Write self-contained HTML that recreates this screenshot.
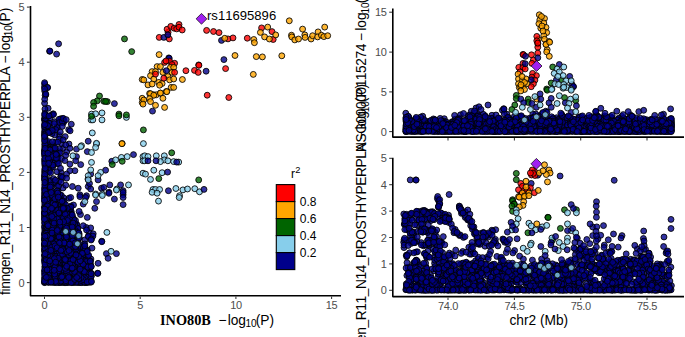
<!DOCTYPE html>
<html><head><meta charset="utf-8"><title>LocusCompare</title>
<style>
html,body{margin:0;padding:0;background:#fff;}
body{width:685px;height:337px;overflow:hidden;font-family:"Liberation Sans",sans-serif;}
svg{display:block;font-family:"Liberation Sans",sans-serif;font-kerning:none;}
.ax{stroke:#000;stroke-width:1.6;fill:none;stroke-linecap:butt;stroke-linejoin:round}
.tc{stroke:#333;stroke-width:1.05;fill:none}
.tk{fill:#4D4D4D;font-size:11px;letter-spacing:-0.35px}
.tt{fill:#000;font-size:13.75px}
.pt{fill-opacity:.8;stroke:#000;stroke-opacity:.85;stroke-width:1}
.bl{fill:#00008B}
</style></head><body>
<svg width="685" height="337" viewBox="0 0 685 337">
<rect width="685" height="337" fill="#fff"/>
<defs><clipPath id="cl"><rect x="0" y="0" width="341" height="337"/></clipPath><clipPath id="cr"><rect x="342" y="0" width="343" height="337"/></clipPath><clipPath id="ct"><rect x="342" y="0" width="343" height="151.2"/></clipPath></defs>
<g clip-path="url(#cl)">
<path class="ax" d="M30.5 6V295.7H342"/>
<path class="tc" d="M26.9 282.6H29.8"/>
<text class="tk" x="24.4" y="286.6" text-anchor="end">0</text>
<path class="tc" d="M26.9 227.5H29.8"/>
<text class="tk" x="24.4" y="231.5" text-anchor="end">1</text>
<path class="tc" d="M26.9 172.4H29.8"/>
<text class="tk" x="24.4" y="176.4" text-anchor="end">2</text>
<path class="tc" d="M26.9 117.3H29.8"/>
<text class="tk" x="24.4" y="121.3" text-anchor="end">3</text>
<path class="tc" d="M26.9 62.2H29.8"/>
<text class="tk" x="24.4" y="66.2" text-anchor="end">4</text>
<path class="tc" d="M26.9 7.1H29.8"/>
<text class="tk" x="24.4" y="11.1" text-anchor="end">5</text>
<path class="tc" d="M44.5 296.5V299"/>
<text class="tk" x="44.5" y="309.4" text-anchor="middle">0</text>
<path class="tc" d="M140.2 296.5V299"/>
<text class="tk" x="140.2" y="309.4" text-anchor="middle">5</text>
<path class="tc" d="M235.9 296.5V299"/>
<text class="tk" x="235.9" y="309.4" text-anchor="middle">10</text>
<path class="tc" d="M331.6 296.5V299"/>
<text class="tk" x="331.6" y="309.4" text-anchor="middle">15</text>
<text class="tt" x="160" y="324.5"><tspan font-family="Liberation Serif" font-weight="bold" font-size="14.3px">INO80B </tspan><tspan dx="4">−</tspan><tspan dx="1.2">log</tspan><tspan font-size="10px" dy="2.4" dx="-0.6">10</tspan><tspan dy="-2.4" dx="-0.9">(P)</tspan></text>
<g class="tt" transform="translate(9.7,66.7) rotate(-90)"><text x="0" y="0" text-anchor="end" letter-spacing="-0.38">finngen_R11_N14_PROSTHYPERPLA</text><text x="3.1" y="0">−</text><text x="13.3" y="0">log</text><text x="30.5" y="2.4" font-size="10px">10</text><text x="40.65" y="0">(P)</text></g>
<g class="pt bl">
<circle cx="45.9" cy="233.1" r="2.95"/>
<circle cx="85.6" cy="256.8" r="2.95"/>
<circle cx="44.8" cy="124.7" r="2.95"/>
<circle cx="78.5" cy="270.0" r="2.95"/>
<circle cx="82.4" cy="273.1" r="2.95"/>
<circle cx="44.7" cy="257.1" r="2.95"/>
<circle cx="82.5" cy="282.3" r="2.95"/>
<circle cx="69.7" cy="274.4" r="2.95"/>
<circle cx="56.6" cy="212.0" r="2.95"/>
<circle cx="62.4" cy="218.1" r="2.95"/>
<circle cx="45.5" cy="127.6" r="2.95"/>
<circle cx="51.7" cy="251.8" r="2.95"/>
<circle cx="47.0" cy="145.0" r="2.95"/>
<circle cx="74.4" cy="222.3" r="2.95"/>
<circle cx="59.6" cy="271.0" r="2.95"/>
<circle cx="79.1" cy="234.9" r="2.95"/>
<circle cx="77.9" cy="282.5" r="2.95"/>
<circle cx="56.9" cy="218.5" r="2.95"/>
<circle cx="83.8" cy="255.9" r="2.95"/>
<circle cx="51.6" cy="243.8" r="2.95"/>
<circle cx="46.4" cy="277.7" r="2.95"/>
<circle cx="51.9" cy="151.6" r="2.95"/>
<circle cx="60.6" cy="122.0" r="2.95"/>
<circle cx="47.0" cy="260.3" r="2.95"/>
<circle cx="53.0" cy="145.7" r="2.95"/>
<circle cx="64.0" cy="266.9" r="2.95"/>
<circle cx="67.7" cy="216.5" r="2.95"/>
<circle cx="68.7" cy="236.6" r="2.95"/>
<circle cx="68.9" cy="198.2" r="2.95"/>
<circle cx="66.4" cy="208.0" r="2.95"/>
<circle cx="75.3" cy="265.3" r="2.95"/>
<circle cx="45.5" cy="211.3" r="2.95"/>
<circle cx="64.5" cy="251.4" r="2.95"/>
<circle cx="67.8" cy="219.9" r="2.95"/>
<circle cx="53.1" cy="209.5" r="2.95"/>
<circle cx="54.2" cy="220.8" r="2.95"/>
<circle cx="54.8" cy="149.3" r="2.95"/>
<circle cx="60.6" cy="245.5" r="2.95"/>
<circle cx="56.5" cy="208.8" r="2.95"/>
<circle cx="78.9" cy="246.3" r="2.95"/>
<circle cx="64.8" cy="225.9" r="2.95"/>
<circle cx="63.0" cy="264.5" r="2.95"/>
<circle cx="82.4" cy="281.8" r="2.95"/>
<circle cx="57.3" cy="216.1" r="2.95"/>
<circle cx="89.0" cy="262.3" r="2.95"/>
<circle cx="50.2" cy="263.5" r="2.95"/>
<circle cx="48.1" cy="237.2" r="2.95"/>
<circle cx="45.7" cy="191.9" r="2.95"/>
<circle cx="74.1" cy="263.5" r="2.95"/>
<circle cx="89.9" cy="281.7" r="2.95"/>
<circle cx="50.6" cy="252.0" r="2.95"/>
<circle cx="65.4" cy="222.4" r="2.95"/>
<circle cx="83.5" cy="253.1" r="2.95"/>
<circle cx="82.9" cy="250.4" r="2.95"/>
<circle cx="44.8" cy="260.3" r="2.95"/>
<circle cx="59.2" cy="135.5" r="2.95"/>
<circle cx="84.4" cy="280.7" r="2.95"/>
<circle cx="58.6" cy="258.8" r="2.95"/>
<circle cx="58.9" cy="203.1" r="2.95"/>
<circle cx="62.6" cy="245.1" r="2.95"/>
<circle cx="54.1" cy="226.1" r="2.95"/>
<circle cx="47.5" cy="241.4" r="2.95"/>
<circle cx="82.3" cy="269.5" r="2.95"/>
<circle cx="64.1" cy="233.9" r="2.95"/>
<circle cx="54.5" cy="219.5" r="2.95"/>
<circle cx="75.5" cy="235.1" r="2.95"/>
<circle cx="60.4" cy="119.6" r="2.95"/>
<circle cx="64.6" cy="234.9" r="2.95"/>
<circle cx="58.2" cy="246.9" r="2.95"/>
<circle cx="44.8" cy="241.0" r="2.95"/>
<circle cx="53.1" cy="212.0" r="2.95"/>
<circle cx="51.7" cy="267.3" r="2.95"/>
<circle cx="48.4" cy="263.7" r="2.95"/>
<circle cx="54.6" cy="232.4" r="2.95"/>
<circle cx="53.8" cy="239.4" r="2.95"/>
<circle cx="75.4" cy="266.7" r="2.95"/>
<circle cx="45.5" cy="229.3" r="2.95"/>
<circle cx="69.4" cy="211.5" r="2.95"/>
<circle cx="77.2" cy="277.8" r="2.95"/>
<circle cx="61.6" cy="256.8" r="2.95"/>
<circle cx="44.7" cy="84.0" r="2.95"/>
<circle cx="64.4" cy="207.4" r="2.95"/>
<circle cx="71.9" cy="282.3" r="2.95"/>
<circle cx="74.1" cy="276.5" r="2.95"/>
<circle cx="66.6" cy="231.7" r="2.95"/>
<circle cx="46.2" cy="222.1" r="2.95"/>
<circle cx="69.9" cy="212.3" r="2.95"/>
<circle cx="55.3" cy="259.2" r="2.95"/>
<circle cx="59.3" cy="180.8" r="2.95"/>
<circle cx="45.6" cy="259.4" r="2.95"/>
<circle cx="48.3" cy="273.1" r="2.95"/>
<circle cx="62.9" cy="244.4" r="2.95"/>
<circle cx="47.3" cy="211.5" r="2.95"/>
<circle cx="72.8" cy="243.4" r="2.95"/>
<circle cx="47.8" cy="242.6" r="2.95"/>
<circle cx="45.5" cy="227.4" r="2.95"/>
<circle cx="44.5" cy="86.9" r="2.95"/>
<circle cx="48.7" cy="172.2" r="2.95"/>
<circle cx="45.0" cy="171.3" r="2.95"/>
<circle cx="63.9" cy="226.7" r="2.95"/>
<circle cx="50.0" cy="231.4" r="2.95"/>
<circle cx="68.5" cy="249.0" r="2.95"/>
<circle cx="84.8" cy="266.6" r="2.95"/>
<circle cx="71.1" cy="215.6" r="2.95"/>
<circle cx="47.3" cy="276.9" r="2.95"/>
<circle cx="63.8" cy="204.9" r="2.95"/>
<circle cx="59.5" cy="207.2" r="2.95"/>
<circle cx="89.1" cy="277.2" r="2.95"/>
<circle cx="72.9" cy="248.7" r="2.95"/>
<circle cx="57.5" cy="220.9" r="2.95"/>
<circle cx="69.7" cy="217.2" r="2.95"/>
<circle cx="49.1" cy="179.6" r="2.95"/>
<circle cx="85.8" cy="260.5" r="2.95"/>
<circle cx="74.1" cy="279.1" r="2.95"/>
<circle cx="68.9" cy="249.9" r="2.95"/>
<circle cx="53.1" cy="184.3" r="2.95"/>
<circle cx="56.0" cy="229.9" r="2.95"/>
<circle cx="51.2" cy="199.6" r="2.95"/>
<circle cx="46.1" cy="183.3" r="2.95"/>
<circle cx="50.5" cy="274.4" r="2.95"/>
<circle cx="67.3" cy="234.2" r="2.95"/>
<circle cx="63.0" cy="118.6" r="2.95"/>
<circle cx="71.0" cy="275.4" r="2.95"/>
<circle cx="64.5" cy="250.4" r="2.95"/>
<circle cx="65.4" cy="262.6" r="2.95"/>
<circle cx="45.5" cy="244.9" r="2.95"/>
<circle cx="68.3" cy="230.7" r="2.95"/>
<circle cx="89.1" cy="274.6" r="2.95"/>
<circle cx="47.8" cy="216.3" r="2.95"/>
<circle cx="69.4" cy="259.5" r="2.95"/>
<circle cx="44.8" cy="153.3" r="2.95"/>
<circle cx="50.4" cy="203.8" r="2.95"/>
<circle cx="86.1" cy="266.6" r="2.95"/>
<circle cx="54.8" cy="182.6" r="2.95"/>
<circle cx="45.9" cy="276.5" r="2.95"/>
<circle cx="58.3" cy="259.8" r="2.95"/>
<circle cx="66.0" cy="218.8" r="2.95"/>
<circle cx="52.5" cy="225.8" r="2.95"/>
<circle cx="62.1" cy="228.9" r="2.95"/>
<circle cx="55.0" cy="262.4" r="2.95"/>
<circle cx="49.9" cy="242.6" r="2.95"/>
<circle cx="67.7" cy="225.1" r="2.95"/>
<circle cx="55.8" cy="198.6" r="2.95"/>
<circle cx="50.0" cy="262.6" r="2.95"/>
<circle cx="68.9" cy="228.3" r="2.95"/>
<circle cx="70.1" cy="220.7" r="2.95"/>
<circle cx="52.9" cy="206.0" r="2.95"/>
<circle cx="71.9" cy="238.5" r="2.95"/>
<circle cx="66.3" cy="220.9" r="2.95"/>
<circle cx="59.3" cy="235.2" r="2.95"/>
<circle cx="55.7" cy="225.6" r="2.95"/>
<circle cx="53.7" cy="208.0" r="2.95"/>
<circle cx="72.3" cy="231.2" r="2.95"/>
<circle cx="79.0" cy="282.4" r="2.95"/>
<circle cx="78.0" cy="251.1" r="2.95"/>
<circle cx="65.0" cy="227.7" r="2.95"/>
<circle cx="48.5" cy="220.6" r="2.95"/>
<circle cx="65.0" cy="210.9" r="2.95"/>
<circle cx="57.3" cy="219.1" r="2.95"/>
<circle cx="45.2" cy="248.3" r="2.95"/>
<circle cx="76.3" cy="239.5" r="2.95"/>
<circle cx="56.2" cy="247.1" r="2.95"/>
<circle cx="64.8" cy="245.7" r="2.95"/>
<circle cx="45.0" cy="252.2" r="2.95"/>
<circle cx="46.5" cy="201.8" r="2.95"/>
<circle cx="47.4" cy="133.0" r="2.95"/>
<circle cx="60.8" cy="118.7" r="2.95"/>
<circle cx="44.7" cy="219.6" r="2.95"/>
<circle cx="60.3" cy="246.5" r="2.95"/>
<circle cx="48.1" cy="215.5" r="2.95"/>
<circle cx="44.6" cy="215.1" r="2.95"/>
<circle cx="66.7" cy="276.1" r="2.95"/>
<circle cx="50.1" cy="161.2" r="2.95"/>
<circle cx="75.3" cy="229.1" r="2.95"/>
<circle cx="44.9" cy="184.3" r="2.95"/>
<circle cx="74.3" cy="282.5" r="2.95"/>
<circle cx="49.8" cy="271.2" r="2.95"/>
<circle cx="65.6" cy="210.0" r="2.95"/>
<circle cx="90.4" cy="279.6" r="2.95"/>
<circle cx="58.3" cy="271.5" r="2.95"/>
<circle cx="69.9" cy="243.7" r="2.95"/>
<circle cx="47.6" cy="116.2" r="2.95"/>
<circle cx="44.8" cy="91.2" r="2.95"/>
<circle cx="44.8" cy="225.9" r="2.95"/>
<circle cx="45.0" cy="141.6" r="2.95"/>
<circle cx="44.6" cy="260.5" r="2.95"/>
<circle cx="54.4" cy="241.3" r="2.95"/>
<circle cx="62.9" cy="220.5" r="2.95"/>
<circle cx="71.2" cy="206.0" r="2.95"/>
<circle cx="61.9" cy="244.9" r="2.95"/>
<circle cx="50.6" cy="149.0" r="2.95"/>
<circle cx="69.1" cy="221.7" r="2.95"/>
<circle cx="50.9" cy="238.9" r="2.95"/>
<circle cx="45.0" cy="177.2" r="2.95"/>
<circle cx="62.9" cy="148.4" r="2.95"/>
<circle cx="88.0" cy="280.8" r="2.95"/>
<circle cx="72.6" cy="233.8" r="2.95"/>
<circle cx="56.6" cy="232.1" r="2.95"/>
<circle cx="54.2" cy="282.5" r="2.95"/>
<circle cx="74.7" cy="247.7" r="2.95"/>
<circle cx="65.3" cy="225.1" r="2.95"/>
<circle cx="45.2" cy="252.2" r="2.95"/>
<circle cx="69.1" cy="239.9" r="2.95"/>
<circle cx="85.4" cy="250.2" r="2.95"/>
<circle cx="46.9" cy="142.3" r="2.95"/>
<circle cx="64.6" cy="268.9" r="2.95"/>
<circle cx="78.0" cy="258.0" r="2.95"/>
<circle cx="80.6" cy="282.3" r="2.95"/>
<circle cx="55.5" cy="216.5" r="2.95"/>
<circle cx="59.8" cy="255.4" r="2.95"/>
<circle cx="64.7" cy="234.0" r="2.95"/>
<circle cx="65.0" cy="240.3" r="2.95"/>
<circle cx="44.6" cy="151.8" r="2.95"/>
<circle cx="49.2" cy="225.8" r="2.95"/>
<circle cx="48.9" cy="237.7" r="2.95"/>
<circle cx="54.4" cy="260.0" r="2.95"/>
<circle cx="51.3" cy="198.1" r="2.95"/>
<circle cx="57.1" cy="186.5" r="2.95"/>
<circle cx="52.4" cy="257.6" r="2.95"/>
<circle cx="80.2" cy="274.6" r="2.95"/>
<circle cx="49.7" cy="235.4" r="2.95"/>
<circle cx="55.1" cy="282.1" r="2.95"/>
<circle cx="59.8" cy="231.1" r="2.95"/>
<circle cx="45.5" cy="208.0" r="2.95"/>
<circle cx="71.3" cy="244.6" r="2.95"/>
<circle cx="52.3" cy="152.9" r="2.95"/>
<circle cx="54.0" cy="209.7" r="2.95"/>
<circle cx="63.0" cy="188.0" r="2.95"/>
<circle cx="45.0" cy="169.2" r="2.95"/>
<circle cx="69.1" cy="211.3" r="2.95"/>
<circle cx="49.2" cy="124.6" r="2.95"/>
<circle cx="70.5" cy="221.6" r="2.95"/>
<circle cx="56.9" cy="230.9" r="2.95"/>
<circle cx="46.7" cy="264.4" r="2.95"/>
<circle cx="55.9" cy="225.8" r="2.95"/>
<circle cx="50.9" cy="242.8" r="2.95"/>
<circle cx="55.6" cy="273.8" r="2.95"/>
<circle cx="71.1" cy="264.5" r="2.95"/>
<circle cx="63.6" cy="252.4" r="2.95"/>
<circle cx="61.4" cy="143.5" r="2.95"/>
<circle cx="45.2" cy="115.7" r="2.95"/>
<circle cx="60.0" cy="250.4" r="2.95"/>
<circle cx="45.0" cy="223.4" r="2.95"/>
<circle cx="46.1" cy="279.9" r="2.95"/>
<circle cx="44.7" cy="120.3" r="2.95"/>
<circle cx="61.1" cy="172.6" r="2.95"/>
<circle cx="76.2" cy="266.4" r="2.95"/>
<circle cx="48.5" cy="220.1" r="2.95"/>
<circle cx="45.0" cy="123.3" r="2.95"/>
<circle cx="48.3" cy="280.7" r="2.95"/>
<circle cx="50.3" cy="236.6" r="2.95"/>
<circle cx="76.8" cy="244.6" r="2.95"/>
<circle cx="54.0" cy="194.3" r="2.95"/>
<circle cx="71.9" cy="224.8" r="2.95"/>
<circle cx="76.5" cy="224.5" r="2.95"/>
<circle cx="51.7" cy="216.6" r="2.95"/>
<circle cx="83.9" cy="273.0" r="2.95"/>
<circle cx="50.3" cy="269.5" r="2.95"/>
<circle cx="54.3" cy="271.3" r="2.95"/>
<circle cx="62.8" cy="233.9" r="2.95"/>
<circle cx="82.5" cy="276.6" r="2.95"/>
<circle cx="72.4" cy="279.2" r="2.95"/>
<circle cx="46.4" cy="246.4" r="2.95"/>
<circle cx="76.6" cy="224.3" r="2.95"/>
<circle cx="44.9" cy="258.7" r="2.95"/>
<circle cx="69.6" cy="276.9" r="2.95"/>
<circle cx="51.5" cy="230.5" r="2.95"/>
<circle cx="87.2" cy="257.6" r="2.95"/>
<circle cx="45.0" cy="221.2" r="2.95"/>
<circle cx="64.1" cy="229.2" r="2.95"/>
<circle cx="60.5" cy="238.1" r="2.95"/>
<circle cx="54.6" cy="121.7" r="2.95"/>
<circle cx="62.4" cy="282.4" r="2.95"/>
<circle cx="75.7" cy="282.2" r="2.95"/>
<circle cx="48.3" cy="252.5" r="2.95"/>
<circle cx="44.9" cy="146.0" r="2.95"/>
<circle cx="46.2" cy="212.5" r="2.95"/>
<circle cx="66.3" cy="210.2" r="2.95"/>
<circle cx="44.5" cy="282.6" r="2.95"/>
<circle cx="72.8" cy="260.6" r="2.95"/>
<circle cx="68.7" cy="129.7" r="2.95"/>
<circle cx="55.5" cy="249.4" r="2.95"/>
<circle cx="54.8" cy="245.0" r="2.95"/>
<circle cx="64.3" cy="203.0" r="2.95"/>
<circle cx="46.3" cy="213.0" r="2.95"/>
<circle cx="90.1" cy="264.3" r="2.95"/>
<circle cx="45.0" cy="259.2" r="2.95"/>
<circle cx="67.6" cy="239.2" r="2.95"/>
<circle cx="50.0" cy="168.4" r="2.95"/>
<circle cx="77.2" cy="266.5" r="2.95"/>
<circle cx="70.1" cy="130.8" r="2.95"/>
<circle cx="53.0" cy="213.9" r="2.95"/>
<circle cx="48.1" cy="253.5" r="2.95"/>
<circle cx="51.2" cy="223.8" r="2.95"/>
<circle cx="47.4" cy="243.4" r="2.95"/>
<circle cx="83.0" cy="246.4" r="2.95"/>
<circle cx="47.5" cy="236.0" r="2.95"/>
<circle cx="61.6" cy="224.8" r="2.95"/>
<circle cx="51.7" cy="279.4" r="2.95"/>
<circle cx="77.2" cy="281.0" r="2.95"/>
<circle cx="63.6" cy="197.8" r="2.95"/>
<circle cx="81.4" cy="270.2" r="2.95"/>
<circle cx="51.6" cy="243.3" r="2.95"/>
<circle cx="76.7" cy="255.2" r="2.95"/>
<circle cx="80.7" cy="257.6" r="2.95"/>
<circle cx="59.6" cy="210.3" r="2.95"/>
<circle cx="54.1" cy="235.1" r="2.95"/>
<circle cx="67.9" cy="240.0" r="2.95"/>
<circle cx="60.7" cy="176.6" r="2.95"/>
<circle cx="74.1" cy="252.7" r="2.95"/>
<circle cx="61.4" cy="282.3" r="2.95"/>
<circle cx="44.8" cy="247.1" r="2.95"/>
<circle cx="44.5" cy="232.9" r="2.95"/>
<circle cx="44.7" cy="196.9" r="2.95"/>
<circle cx="65.7" cy="258.5" r="2.95"/>
<circle cx="79.9" cy="282.1" r="2.95"/>
<circle cx="60.7" cy="234.4" r="2.95"/>
<circle cx="48.7" cy="260.5" r="2.95"/>
<circle cx="52.5" cy="270.7" r="2.95"/>
<circle cx="67.0" cy="227.0" r="2.95"/>
<circle cx="74.9" cy="268.7" r="2.95"/>
<circle cx="44.9" cy="249.1" r="2.95"/>
<circle cx="57.7" cy="216.1" r="2.95"/>
<circle cx="47.0" cy="196.5" r="2.95"/>
<circle cx="45.6" cy="278.6" r="2.95"/>
<circle cx="47.6" cy="281.0" r="2.95"/>
<circle cx="47.3" cy="222.3" r="2.95"/>
<circle cx="62.1" cy="225.9" r="2.95"/>
<circle cx="58.8" cy="152.6" r="2.95"/>
<circle cx="87.6" cy="272.0" r="2.95"/>
<circle cx="54.8" cy="203.1" r="2.95"/>
<circle cx="47.6" cy="207.2" r="2.95"/>
<circle cx="60.1" cy="198.7" r="2.95"/>
<circle cx="70.2" cy="233.8" r="2.95"/>
<circle cx="47.5" cy="238.0" r="2.95"/>
<circle cx="50.6" cy="180.9" r="2.95"/>
<circle cx="53.4" cy="130.8" r="2.95"/>
<circle cx="60.8" cy="220.7" r="2.95"/>
<circle cx="44.7" cy="255.4" r="2.95"/>
<circle cx="45.1" cy="230.9" r="2.95"/>
<circle cx="51.6" cy="246.6" r="2.95"/>
<circle cx="90.9" cy="259.0" r="2.95"/>
<circle cx="84.6" cy="247.2" r="2.95"/>
<circle cx="45.8" cy="277.8" r="2.95"/>
<circle cx="67.3" cy="256.8" r="2.95"/>
<circle cx="48.2" cy="220.8" r="2.95"/>
<circle cx="77.4" cy="261.8" r="2.95"/>
<circle cx="50.8" cy="221.6" r="2.95"/>
<circle cx="45.0" cy="180.8" r="2.95"/>
<circle cx="79.6" cy="244.2" r="2.95"/>
<circle cx="59.9" cy="246.8" r="2.95"/>
<circle cx="63.8" cy="229.8" r="2.95"/>
<circle cx="84.1" cy="275.4" r="2.95"/>
<circle cx="48.3" cy="270.7" r="2.95"/>
<circle cx="56.8" cy="227.3" r="2.95"/>
<circle cx="61.7" cy="216.4" r="2.95"/>
<circle cx="47.3" cy="234.4" r="2.95"/>
<circle cx="61.6" cy="229.9" r="2.95"/>
<circle cx="70.6" cy="261.7" r="2.95"/>
<circle cx="44.6" cy="239.7" r="2.95"/>
<circle cx="44.8" cy="139.4" r="2.95"/>
<circle cx="49.3" cy="171.6" r="2.95"/>
<circle cx="57.0" cy="212.1" r="2.95"/>
<circle cx="63.2" cy="206.6" r="2.95"/>
<circle cx="59.9" cy="282.4" r="2.95"/>
<circle cx="58.1" cy="259.4" r="2.95"/>
<circle cx="49.3" cy="205.2" r="2.95"/>
<circle cx="47.2" cy="164.7" r="2.95"/>
<circle cx="45.0" cy="156.5" r="2.95"/>
<circle cx="45.8" cy="239.3" r="2.95"/>
<circle cx="69.5" cy="249.8" r="2.95"/>
<circle cx="78.7" cy="246.4" r="2.95"/>
<circle cx="72.9" cy="282.4" r="2.95"/>
<circle cx="89.3" cy="282.2" r="2.95"/>
<circle cx="65.3" cy="221.7" r="2.95"/>
<circle cx="54.4" cy="233.9" r="2.95"/>
<circle cx="68.3" cy="266.6" r="2.95"/>
<circle cx="51.2" cy="230.8" r="2.95"/>
<circle cx="62.2" cy="274.2" r="2.95"/>
<circle cx="49.1" cy="153.2" r="2.95"/>
<circle cx="84.3" cy="272.7" r="2.95"/>
<circle cx="70.6" cy="278.9" r="2.95"/>
<circle cx="54.7" cy="247.5" r="2.95"/>
<circle cx="68.2" cy="217.8" r="2.95"/>
<circle cx="44.5" cy="132.2" r="2.95"/>
<circle cx="70.6" cy="265.7" r="2.95"/>
<circle cx="60.3" cy="221.0" r="2.95"/>
<circle cx="71.0" cy="220.1" r="2.95"/>
<circle cx="75.9" cy="228.3" r="2.95"/>
<circle cx="89.0" cy="276.5" r="2.95"/>
<circle cx="69.7" cy="269.3" r="2.95"/>
<circle cx="44.6" cy="249.8" r="2.95"/>
<circle cx="54.3" cy="227.5" r="2.95"/>
<circle cx="62.4" cy="224.0" r="2.95"/>
<circle cx="48.8" cy="229.2" r="2.95"/>
<circle cx="44.6" cy="234.7" r="2.95"/>
<circle cx="44.8" cy="277.6" r="2.95"/>
<circle cx="52.2" cy="232.1" r="2.95"/>
<circle cx="79.6" cy="248.0" r="2.95"/>
<circle cx="59.4" cy="213.6" r="2.95"/>
<circle cx="53.4" cy="247.7" r="2.95"/>
<circle cx="58.6" cy="186.0" r="2.95"/>
<circle cx="57.0" cy="171.7" r="2.95"/>
<circle cx="51.0" cy="200.0" r="2.95"/>
<circle cx="48.8" cy="150.0" r="2.95"/>
<circle cx="91.3" cy="273.3" r="2.95"/>
<circle cx="45.8" cy="94.9" r="2.95"/>
<circle cx="51.2" cy="271.9" r="2.95"/>
<circle cx="83.4" cy="269.8" r="2.95"/>
<circle cx="44.5" cy="282.3" r="2.95"/>
<circle cx="55.8" cy="254.8" r="2.95"/>
<circle cx="54.0" cy="274.9" r="2.95"/>
<circle cx="45.3" cy="281.6" r="2.95"/>
<circle cx="58.9" cy="236.5" r="2.95"/>
<circle cx="64.8" cy="222.7" r="2.95"/>
<circle cx="50.2" cy="279.9" r="2.95"/>
<circle cx="49.4" cy="225.6" r="2.95"/>
<circle cx="62.6" cy="275.1" r="2.95"/>
<circle cx="73.0" cy="273.4" r="2.95"/>
<circle cx="53.1" cy="231.9" r="2.95"/>
<circle cx="51.1" cy="263.4" r="2.95"/>
<circle cx="46.7" cy="143.3" r="2.95"/>
<circle cx="56.9" cy="216.3" r="2.95"/>
<circle cx="61.2" cy="119.2" r="2.95"/>
<circle cx="58.4" cy="239.6" r="2.95"/>
<circle cx="64.1" cy="239.7" r="2.95"/>
<circle cx="53.2" cy="147.2" r="2.95"/>
<circle cx="47.6" cy="218.5" r="2.95"/>
<circle cx="75.8" cy="261.1" r="2.95"/>
<circle cx="64.9" cy="245.0" r="2.95"/>
<circle cx="71.5" cy="228.0" r="2.95"/>
<circle cx="44.9" cy="187.1" r="2.95"/>
<circle cx="47.6" cy="167.0" r="2.95"/>
<circle cx="58.7" cy="234.5" r="2.95"/>
<circle cx="52.7" cy="201.9" r="2.95"/>
<circle cx="79.4" cy="268.2" r="2.95"/>
<circle cx="70.6" cy="210.9" r="2.95"/>
<circle cx="50.7" cy="204.5" r="2.95"/>
<circle cx="57.1" cy="211.3" r="2.95"/>
<circle cx="57.2" cy="228.9" r="2.95"/>
<circle cx="88.9" cy="274.8" r="2.95"/>
<circle cx="63.5" cy="213.6" r="2.95"/>
<circle cx="48.2" cy="166.3" r="2.95"/>
<circle cx="71.3" cy="124.2" r="2.95"/>
<circle cx="66.2" cy="212.6" r="2.95"/>
<circle cx="55.3" cy="274.1" r="2.95"/>
<circle cx="54.7" cy="135.0" r="2.95"/>
<circle cx="49.5" cy="217.4" r="2.95"/>
<circle cx="72.0" cy="216.2" r="2.95"/>
<circle cx="67.7" cy="232.4" r="2.95"/>
<circle cx="65.3" cy="247.0" r="2.95"/>
<circle cx="86.1" cy="250.3" r="2.95"/>
<circle cx="46.0" cy="272.2" r="2.95"/>
<circle cx="69.6" cy="282.2" r="2.95"/>
<circle cx="45.2" cy="209.7" r="2.95"/>
<circle cx="61.9" cy="232.1" r="2.95"/>
<circle cx="58.0" cy="271.3" r="2.95"/>
<circle cx="67.6" cy="282.5" r="2.95"/>
<circle cx="76.9" cy="246.8" r="2.95"/>
<circle cx="57.8" cy="198.4" r="2.95"/>
<circle cx="45.6" cy="239.7" r="2.95"/>
<circle cx="44.5" cy="206.8" r="2.95"/>
<circle cx="56.9" cy="126.9" r="2.95"/>
<circle cx="62.5" cy="256.1" r="2.95"/>
<circle cx="44.8" cy="165.1" r="2.95"/>
<circle cx="59.3" cy="230.7" r="2.95"/>
<circle cx="45.1" cy="95.3" r="2.95"/>
<circle cx="75.5" cy="257.6" r="2.95"/>
<circle cx="66.7" cy="214.5" r="2.95"/>
<circle cx="74.7" cy="250.3" r="2.95"/>
<circle cx="54.5" cy="230.3" r="2.95"/>
<circle cx="53.6" cy="226.1" r="2.95"/>
<circle cx="47.4" cy="200.2" r="2.95"/>
<circle cx="78.0" cy="246.7" r="2.95"/>
<circle cx="67.2" cy="242.1" r="2.95"/>
<circle cx="54.5" cy="161.6" r="2.95"/>
<circle cx="67.8" cy="243.9" r="2.95"/>
<circle cx="76.3" cy="275.9" r="2.95"/>
<circle cx="49.4" cy="195.9" r="2.95"/>
<circle cx="55.6" cy="277.0" r="2.95"/>
<circle cx="70.3" cy="224.4" r="2.95"/>
<circle cx="45.8" cy="218.2" r="2.95"/>
<circle cx="44.6" cy="239.3" r="2.95"/>
<circle cx="60.2" cy="265.4" r="2.95"/>
<circle cx="55.6" cy="149.6" r="2.95"/>
<circle cx="57.8" cy="161.0" r="2.95"/>
<circle cx="45.4" cy="249.8" r="2.95"/>
<circle cx="44.5" cy="155.1" r="2.95"/>
<circle cx="55.6" cy="219.5" r="2.95"/>
<circle cx="74.0" cy="229.2" r="2.95"/>
<circle cx="52.2" cy="262.3" r="2.95"/>
<circle cx="52.2" cy="223.6" r="2.95"/>
<circle cx="71.4" cy="224.5" r="2.95"/>
<circle cx="88.4" cy="261.0" r="2.95"/>
<circle cx="87.4" cy="268.6" r="2.95"/>
<circle cx="78.1" cy="279.4" r="2.95"/>
<circle cx="57.0" cy="246.3" r="2.95"/>
<circle cx="73.2" cy="221.6" r="2.95"/>
<circle cx="62.4" cy="207.6" r="2.95"/>
<circle cx="84.1" cy="267.9" r="2.95"/>
<circle cx="49.7" cy="257.6" r="2.95"/>
<circle cx="48.8" cy="200.0" r="2.95"/>
<circle cx="73.5" cy="205.0" r="2.95"/>
<circle cx="72.6" cy="239.7" r="2.95"/>
<circle cx="50.1" cy="126.8" r="2.95"/>
<circle cx="80.1" cy="280.1" r="2.95"/>
<circle cx="44.7" cy="212.7" r="2.95"/>
<circle cx="53.8" cy="275.9" r="2.95"/>
<circle cx="45.0" cy="268.2" r="2.95"/>
<circle cx="45.0" cy="137.9" r="2.95"/>
<circle cx="55.6" cy="231.5" r="2.95"/>
<circle cx="47.6" cy="186.9" r="2.95"/>
<circle cx="49.9" cy="255.9" r="2.95"/>
<circle cx="63.1" cy="243.2" r="2.95"/>
<circle cx="71.0" cy="207.2" r="2.95"/>
<circle cx="59.5" cy="240.1" r="2.95"/>
<circle cx="62.1" cy="261.9" r="2.95"/>
<circle cx="80.5" cy="247.1" r="2.95"/>
<circle cx="92.0" cy="248.1" r="2.95"/>
<circle cx="46.8" cy="213.6" r="2.95"/>
<circle cx="60.0" cy="228.2" r="2.95"/>
<circle cx="44.8" cy="147.3" r="2.95"/>
<circle cx="63.3" cy="200.9" r="2.95"/>
<circle cx="47.1" cy="200.7" r="2.95"/>
<circle cx="50.4" cy="204.9" r="2.95"/>
<circle cx="44.9" cy="248.8" r="2.95"/>
<circle cx="54.3" cy="163.1" r="2.95"/>
<circle cx="44.8" cy="270.8" r="2.95"/>
<circle cx="44.9" cy="230.0" r="2.95"/>
<circle cx="50.4" cy="243.4" r="2.95"/>
<circle cx="45.1" cy="204.6" r="2.95"/>
<circle cx="77.8" cy="262.2" r="2.95"/>
<circle cx="44.8" cy="201.4" r="2.95"/>
<circle cx="66.9" cy="235.5" r="2.95"/>
<circle cx="44.9" cy="143.0" r="2.95"/>
<circle cx="58.5" cy="216.7" r="2.95"/>
<circle cx="58.4" cy="212.6" r="2.95"/>
<circle cx="50.0" cy="199.5" r="2.95"/>
<circle cx="63.7" cy="244.8" r="2.95"/>
<circle cx="44.7" cy="198.6" r="2.95"/>
<circle cx="48.9" cy="280.0" r="2.95"/>
<circle cx="44.5" cy="244.9" r="2.95"/>
<circle cx="76.6" cy="243.9" r="2.95"/>
<circle cx="87.3" cy="256.2" r="2.95"/>
<circle cx="63.5" cy="216.3" r="2.95"/>
<circle cx="61.8" cy="274.0" r="2.95"/>
<circle cx="54.7" cy="242.6" r="2.95"/>
<circle cx="53.7" cy="237.4" r="2.95"/>
<circle cx="45.0" cy="131.0" r="2.95"/>
<circle cx="88.9" cy="232.5" r="2.95"/>
<circle cx="45.0" cy="255.4" r="2.95"/>
<circle cx="69.0" cy="215.3" r="2.95"/>
<circle cx="83.2" cy="275.1" r="2.95"/>
<circle cx="87.1" cy="282.4" r="2.95"/>
<circle cx="52.4" cy="217.3" r="2.95"/>
<circle cx="74.3" cy="250.9" r="2.95"/>
<circle cx="55.7" cy="215.1" r="2.95"/>
<circle cx="45.0" cy="225.1" r="2.95"/>
<circle cx="89.2" cy="273.5" r="2.95"/>
<circle cx="50.3" cy="215.9" r="2.95"/>
<circle cx="57.5" cy="275.0" r="2.95"/>
<circle cx="85.3" cy="282.2" r="2.95"/>
<circle cx="89.2" cy="270.0" r="2.95"/>
<circle cx="87.2" cy="249.8" r="2.95"/>
<circle cx="63.1" cy="239.3" r="2.95"/>
<circle cx="57.9" cy="246.2" r="2.95"/>
<circle cx="55.5" cy="215.4" r="2.95"/>
<circle cx="44.8" cy="237.6" r="2.95"/>
<circle cx="44.6" cy="103.2" r="2.95"/>
<circle cx="61.5" cy="243.9" r="2.95"/>
<circle cx="72.1" cy="273.7" r="2.95"/>
<circle cx="52.5" cy="224.4" r="2.95"/>
<circle cx="77.7" cy="279.5" r="2.95"/>
<circle cx="44.9" cy="266.3" r="2.95"/>
<circle cx="53.1" cy="247.7" r="2.95"/>
<circle cx="76.8" cy="232.2" r="2.95"/>
<circle cx="54.9" cy="245.7" r="2.95"/>
<circle cx="44.9" cy="138.2" r="2.95"/>
<circle cx="48.1" cy="108.3" r="2.95"/>
<circle cx="52.5" cy="282.3" r="2.95"/>
<circle cx="60.9" cy="240.7" r="2.95"/>
<circle cx="44.7" cy="279.6" r="2.95"/>
<circle cx="45.4" cy="212.3" r="2.95"/>
<circle cx="55.5" cy="216.0" r="2.95"/>
<circle cx="49.5" cy="204.1" r="2.95"/>
<circle cx="53.3" cy="197.3" r="2.95"/>
<circle cx="60.3" cy="233.9" r="2.95"/>
<circle cx="56.7" cy="242.5" r="2.95"/>
<circle cx="73.1" cy="237.1" r="2.95"/>
<circle cx="74.4" cy="268.8" r="2.95"/>
<circle cx="59.4" cy="139.0" r="2.95"/>
<circle cx="53.3" cy="210.1" r="2.95"/>
<circle cx="68.6" cy="247.6" r="2.95"/>
<circle cx="77.8" cy="267.4" r="2.95"/>
<circle cx="88.6" cy="267.6" r="2.95"/>
<circle cx="60.1" cy="242.4" r="2.95"/>
<circle cx="54.0" cy="259.8" r="2.95"/>
<circle cx="61.5" cy="263.1" r="2.95"/>
<circle cx="44.9" cy="201.7" r="2.95"/>
<circle cx="53.6" cy="178.6" r="2.95"/>
<circle cx="50.5" cy="251.2" r="2.95"/>
<circle cx="47.4" cy="208.9" r="2.95"/>
<circle cx="59.5" cy="244.2" r="2.95"/>
<circle cx="46.5" cy="128.1" r="2.95"/>
<circle cx="74.6" cy="235.4" r="2.95"/>
<circle cx="54.1" cy="278.5" r="2.95"/>
<circle cx="56.1" cy="214.2" r="2.95"/>
<circle cx="57.8" cy="239.3" r="2.95"/>
<circle cx="58.3" cy="218.6" r="2.95"/>
<circle cx="46.6" cy="160.2" r="2.95"/>
<circle cx="45.5" cy="266.8" r="2.95"/>
<circle cx="45.3" cy="244.2" r="2.95"/>
<circle cx="47.4" cy="215.0" r="2.95"/>
<circle cx="44.5" cy="119.3" r="2.95"/>
<circle cx="44.8" cy="207.3" r="2.95"/>
<circle cx="71.3" cy="211.8" r="2.95"/>
<circle cx="61.1" cy="219.3" r="2.95"/>
<circle cx="44.7" cy="216.1" r="2.95"/>
<circle cx="56.5" cy="251.4" r="2.95"/>
<circle cx="64.5" cy="269.8" r="2.95"/>
<circle cx="60.1" cy="223.2" r="2.95"/>
<circle cx="52.0" cy="236.1" r="2.95"/>
<circle cx="59.1" cy="209.6" r="2.95"/>
<circle cx="56.2" cy="192.6" r="2.95"/>
<circle cx="52.6" cy="220.9" r="2.95"/>
<circle cx="55.7" cy="222.3" r="2.95"/>
<circle cx="64.0" cy="263.8" r="2.95"/>
<circle cx="57.5" cy="127.4" r="2.95"/>
<circle cx="84.1" cy="260.2" r="2.95"/>
<circle cx="62.7" cy="208.4" r="2.95"/>
<circle cx="47.7" cy="235.7" r="2.95"/>
<circle cx="59.4" cy="252.4" r="2.95"/>
<circle cx="80.5" cy="214.6" r="2.95"/>
<circle cx="61.0" cy="280.7" r="2.95"/>
<circle cx="68.8" cy="275.9" r="2.95"/>
<circle cx="44.9" cy="109.0" r="2.95"/>
<circle cx="59.6" cy="276.0" r="2.95"/>
<circle cx="44.5" cy="150.2" r="2.95"/>
<circle cx="54.6" cy="256.6" r="2.95"/>
<circle cx="53.2" cy="266.3" r="2.95"/>
<circle cx="91.3" cy="275.6" r="2.95"/>
<circle cx="66.8" cy="254.3" r="2.95"/>
<circle cx="74.4" cy="224.5" r="2.95"/>
<circle cx="61.5" cy="219.6" r="2.95"/>
<circle cx="68.4" cy="212.9" r="2.95"/>
<circle cx="49.7" cy="232.5" r="2.95"/>
<circle cx="67.9" cy="281.8" r="2.95"/>
<circle cx="83.5" cy="259.9" r="2.95"/>
<circle cx="57.9" cy="247.6" r="2.95"/>
<circle cx="45.7" cy="180.1" r="2.95"/>
<circle cx="48.6" cy="282.2" r="2.95"/>
<circle cx="88.5" cy="276.5" r="2.95"/>
<circle cx="68.7" cy="276.5" r="2.95"/>
<circle cx="50.7" cy="214.2" r="2.95"/>
<circle cx="76.6" cy="282.2" r="2.95"/>
<circle cx="57.9" cy="157.3" r="2.95"/>
<circle cx="87.6" cy="275.5" r="2.95"/>
<circle cx="44.6" cy="227.9" r="2.95"/>
<circle cx="49.3" cy="223.3" r="2.95"/>
<circle cx="50.8" cy="248.7" r="2.95"/>
<circle cx="44.5" cy="244.0" r="2.95"/>
<circle cx="70.8" cy="222.3" r="2.95"/>
<circle cx="65.9" cy="273.1" r="2.95"/>
<circle cx="61.1" cy="176.5" r="2.95"/>
<circle cx="83.0" cy="263.1" r="2.95"/>
<circle cx="54.8" cy="234.7" r="2.95"/>
<circle cx="93.2" cy="233.8" r="2.95"/>
<circle cx="44.9" cy="237.3" r="2.95"/>
<circle cx="66.4" cy="217.9" r="2.95"/>
<circle cx="64.0" cy="221.3" r="2.95"/>
<circle cx="59.4" cy="148.9" r="2.95"/>
<circle cx="55.5" cy="142.2" r="2.95"/>
<circle cx="88.5" cy="236.3" r="2.95"/>
<circle cx="61.5" cy="210.7" r="2.95"/>
<circle cx="57.0" cy="163.8" r="2.95"/>
<circle cx="64.1" cy="121.1" r="2.95"/>
<circle cx="75.2" cy="274.7" r="2.95"/>
<circle cx="67.1" cy="273.4" r="2.95"/>
<circle cx="63.9" cy="272.5" r="2.95"/>
<circle cx="84.9" cy="254.8" r="2.95"/>
<circle cx="63.4" cy="276.0" r="2.95"/>
<circle cx="84.2" cy="255.2" r="2.95"/>
<circle cx="66.4" cy="229.5" r="2.95"/>
<circle cx="55.0" cy="200.2" r="2.95"/>
<circle cx="88.0" cy="271.8" r="2.95"/>
<circle cx="77.8" cy="263.2" r="2.95"/>
<circle cx="44.7" cy="128.9" r="2.95"/>
<circle cx="46.1" cy="123.5" r="2.95"/>
<circle cx="63.2" cy="248.3" r="2.95"/>
<circle cx="65.5" cy="245.7" r="2.95"/>
<circle cx="51.2" cy="155.4" r="2.95"/>
<circle cx="44.8" cy="178.3" r="2.95"/>
<circle cx="70.0" cy="212.4" r="2.95"/>
<circle cx="44.6" cy="172.6" r="2.95"/>
<circle cx="55.8" cy="204.2" r="2.95"/>
<circle cx="71.5" cy="225.4" r="2.95"/>
<circle cx="65.7" cy="204.7" r="2.95"/>
<circle cx="48.6" cy="277.0" r="2.95"/>
<circle cx="49.9" cy="217.9" r="2.95"/>
<circle cx="54.1" cy="220.0" r="2.95"/>
<circle cx="46.2" cy="220.1" r="2.95"/>
<circle cx="78.3" cy="233.2" r="2.95"/>
<circle cx="52.8" cy="213.7" r="2.95"/>
<circle cx="61.0" cy="275.1" r="2.95"/>
<circle cx="57.4" cy="215.4" r="2.95"/>
<circle cx="81.4" cy="268.2" r="2.95"/>
<circle cx="54.4" cy="270.5" r="2.95"/>
<circle cx="45.1" cy="167.0" r="2.95"/>
<circle cx="62.7" cy="243.6" r="2.95"/>
<circle cx="72.7" cy="257.0" r="2.95"/>
<circle cx="52.3" cy="255.3" r="2.95"/>
<circle cx="50.6" cy="260.2" r="2.95"/>
<circle cx="55.9" cy="158.0" r="2.95"/>
<circle cx="58.0" cy="190.9" r="2.95"/>
<circle cx="75.5" cy="272.2" r="2.95"/>
<circle cx="55.5" cy="196.4" r="2.95"/>
<circle cx="81.8" cy="271.6" r="2.95"/>
<circle cx="48.7" cy="215.0" r="2.95"/>
<circle cx="51.2" cy="235.8" r="2.95"/>
<circle cx="44.6" cy="251.1" r="2.95"/>
<circle cx="65.6" cy="209.2" r="2.95"/>
<circle cx="63.3" cy="122.9" r="2.95"/>
<circle cx="56.4" cy="240.9" r="2.95"/>
<circle cx="48.9" cy="122.8" r="2.95"/>
<circle cx="51.2" cy="168.1" r="2.95"/>
<circle cx="48.8" cy="248.9" r="2.95"/>
<circle cx="68.2" cy="226.3" r="2.95"/>
<circle cx="73.7" cy="273.1" r="2.95"/>
<circle cx="55.6" cy="207.4" r="2.95"/>
<circle cx="77.4" cy="241.5" r="2.95"/>
<circle cx="44.6" cy="246.1" r="2.95"/>
<circle cx="63.8" cy="270.0" r="2.95"/>
<circle cx="78.6" cy="266.6" r="2.95"/>
<circle cx="65.2" cy="264.9" r="2.95"/>
<circle cx="64.8" cy="239.2" r="2.95"/>
<circle cx="44.7" cy="271.7" r="2.95"/>
<circle cx="71.7" cy="226.8" r="2.95"/>
<circle cx="73.3" cy="223.7" r="2.95"/>
<circle cx="52.7" cy="167.0" r="2.95"/>
<circle cx="84.9" cy="239.9" r="2.95"/>
<circle cx="44.9" cy="133.8" r="2.95"/>
<circle cx="75.1" cy="270.2" r="2.95"/>
<circle cx="49.3" cy="170.3" r="2.95"/>
<circle cx="55.1" cy="235.5" r="2.95"/>
<circle cx="67.3" cy="234.7" r="2.95"/>
<circle cx="68.8" cy="274.9" r="2.95"/>
<circle cx="68.8" cy="265.2" r="2.95"/>
<circle cx="45.6" cy="274.0" r="2.95"/>
<circle cx="73.1" cy="217.9" r="2.95"/>
<circle cx="45.8" cy="248.8" r="2.95"/>
<circle cx="60.2" cy="152.9" r="2.95"/>
<circle cx="53.6" cy="274.1" r="2.95"/>
<circle cx="62.3" cy="210.8" r="2.95"/>
<circle cx="52.9" cy="225.0" r="2.95"/>
<circle cx="71.5" cy="220.5" r="2.95"/>
<circle cx="44.9" cy="144.7" r="2.95"/>
<circle cx="50.5" cy="212.9" r="2.95"/>
<circle cx="52.3" cy="250.1" r="2.95"/>
<circle cx="54.6" cy="234.0" r="2.95"/>
<circle cx="52.4" cy="221.5" r="2.95"/>
<circle cx="47.1" cy="230.8" r="2.95"/>
<circle cx="54.7" cy="242.7" r="2.95"/>
<circle cx="85.9" cy="253.5" r="2.95"/>
<circle cx="86.6" cy="267.8" r="2.95"/>
<circle cx="73.0" cy="223.9" r="2.95"/>
<circle cx="44.8" cy="113.4" r="2.95"/>
<circle cx="79.1" cy="211.4" r="2.95"/>
<circle cx="52.0" cy="133.6" r="2.95"/>
<circle cx="59.3" cy="231.4" r="2.95"/>
<circle cx="53.6" cy="198.8" r="2.95"/>
<circle cx="49.8" cy="252.1" r="2.95"/>
<circle cx="77.8" cy="250.6" r="2.95"/>
<circle cx="55.4" cy="233.0" r="2.95"/>
<circle cx="48.6" cy="241.9" r="2.95"/>
<circle cx="65.1" cy="267.9" r="2.95"/>
<circle cx="49.0" cy="210.0" r="2.95"/>
<circle cx="55.9" cy="258.2" r="2.95"/>
<circle cx="50.5" cy="197.7" r="2.95"/>
<circle cx="49.6" cy="241.1" r="2.95"/>
<circle cx="72.7" cy="252.1" r="2.95"/>
<circle cx="90.3" cy="261.1" r="2.95"/>
<circle cx="68.1" cy="226.3" r="2.95"/>
<circle cx="44.8" cy="118.2" r="2.95"/>
<circle cx="74.0" cy="268.6" r="2.95"/>
<circle cx="81.4" cy="282.6" r="2.95"/>
<circle cx="64.3" cy="282.6" r="2.95"/>
<circle cx="44.8" cy="226.7" r="2.95"/>
<circle cx="48.5" cy="170.4" r="2.95"/>
<circle cx="48.7" cy="245.4" r="2.95"/>
<circle cx="45.8" cy="280.9" r="2.95"/>
<circle cx="63.4" cy="212.5" r="2.95"/>
<circle cx="50.8" cy="189.5" r="2.95"/>
<circle cx="76.3" cy="278.3" r="2.95"/>
<circle cx="45.9" cy="126.6" r="2.95"/>
<circle cx="61.8" cy="222.2" r="2.95"/>
<circle cx="45.5" cy="169.9" r="2.95"/>
<circle cx="75.3" cy="233.7" r="2.95"/>
<circle cx="84.8" cy="252.5" r="2.95"/>
<circle cx="58.4" cy="268.2" r="2.95"/>
<circle cx="53.0" cy="213.7" r="2.95"/>
<circle cx="49.6" cy="123.4" r="2.95"/>
<circle cx="59.1" cy="119.3" r="2.95"/>
<circle cx="77.5" cy="234.6" r="2.95"/>
<circle cx="58.5" cy="282.1" r="2.95"/>
<circle cx="73.0" cy="281.5" r="2.95"/>
<circle cx="59.8" cy="220.9" r="2.95"/>
<circle cx="45.1" cy="200.5" r="2.95"/>
<circle cx="44.8" cy="203.5" r="2.95"/>
<circle cx="59.2" cy="240.7" r="2.95"/>
<circle cx="75.1" cy="229.1" r="2.95"/>
<circle cx="48.9" cy="203.8" r="2.95"/>
<circle cx="71.4" cy="239.7" r="2.95"/>
<circle cx="88.9" cy="276.1" r="2.95"/>
<circle cx="50.4" cy="249.8" r="2.95"/>
<circle cx="46.8" cy="236.6" r="2.95"/>
<circle cx="53.7" cy="261.6" r="2.95"/>
<circle cx="68.4" cy="224.7" r="2.95"/>
<circle cx="50.0" cy="132.1" r="2.95"/>
<circle cx="57.5" cy="262.9" r="2.95"/>
<circle cx="46.2" cy="233.0" r="2.95"/>
<circle cx="53.3" cy="259.1" r="2.95"/>
<circle cx="59.4" cy="243.0" r="2.95"/>
<circle cx="53.9" cy="226.0" r="2.95"/>
<circle cx="65.6" cy="282.6" r="2.95"/>
<circle cx="65.0" cy="249.4" r="2.95"/>
<circle cx="55.4" cy="180.2" r="2.95"/>
<circle cx="73.3" cy="232.4" r="2.95"/>
<circle cx="45.4" cy="216.7" r="2.95"/>
<circle cx="90.0" cy="267.5" r="2.95"/>
<circle cx="62.0" cy="270.9" r="2.95"/>
<circle cx="53.4" cy="148.5" r="2.95"/>
<circle cx="53.4" cy="270.6" r="2.95"/>
<circle cx="79.7" cy="275.8" r="2.95"/>
<circle cx="59.9" cy="277.5" r="2.95"/>
<circle cx="66.5" cy="221.1" r="2.95"/>
<circle cx="65.8" cy="185.2" r="2.95"/>
<circle cx="84.8" cy="264.6" r="2.95"/>
<circle cx="79.1" cy="237.3" r="2.95"/>
<circle cx="44.6" cy="262.4" r="2.95"/>
<circle cx="49.5" cy="278.8" r="2.95"/>
<circle cx="53.7" cy="197.0" r="2.95"/>
<circle cx="77.0" cy="265.1" r="2.95"/>
<circle cx="66.2" cy="209.6" r="2.95"/>
<circle cx="51.3" cy="232.3" r="2.95"/>
<circle cx="47.1" cy="195.3" r="2.95"/>
<circle cx="51.1" cy="251.7" r="2.95"/>
<circle cx="56.8" cy="246.6" r="2.95"/>
<circle cx="48.3" cy="214.9" r="2.95"/>
<circle cx="46.3" cy="227.6" r="2.95"/>
<circle cx="56.7" cy="241.7" r="2.95"/>
<circle cx="66.1" cy="211.0" r="2.95"/>
<circle cx="70.5" cy="230.1" r="2.95"/>
<circle cx="44.5" cy="179.5" r="2.95"/>
<circle cx="44.8" cy="150.1" r="2.95"/>
<circle cx="44.5" cy="175.9" r="2.95"/>
<circle cx="65.0" cy="225.2" r="2.95"/>
<circle cx="78.0" cy="276.1" r="2.95"/>
<circle cx="70.5" cy="249.0" r="2.95"/>
<circle cx="62.0" cy="236.7" r="2.95"/>
<circle cx="44.6" cy="189.4" r="2.95"/>
<circle cx="70.4" cy="271.7" r="2.95"/>
<circle cx="62.7" cy="253.6" r="2.95"/>
<circle cx="57.6" cy="233.2" r="2.95"/>
<circle cx="85.4" cy="266.3" r="2.95"/>
<circle cx="48.0" cy="244.8" r="2.95"/>
<circle cx="64.2" cy="282.0" r="2.95"/>
<circle cx="69.7" cy="226.9" r="2.95"/>
<circle cx="50.9" cy="280.6" r="2.95"/>
<circle cx="67.2" cy="208.3" r="2.95"/>
<circle cx="63.0" cy="236.9" r="2.95"/>
<circle cx="45.0" cy="122.2" r="2.95"/>
<circle cx="92.9" cy="236.1" r="2.95"/>
<circle cx="60.9" cy="246.2" r="2.95"/>
<circle cx="53.0" cy="208.3" r="2.95"/>
<circle cx="50.2" cy="272.8" r="2.95"/>
<circle cx="48.7" cy="141.6" r="2.95"/>
<circle cx="44.9" cy="222.2" r="2.95"/>
<circle cx="47.7" cy="240.2" r="2.95"/>
<circle cx="62.1" cy="274.8" r="2.95"/>
<circle cx="45.1" cy="267.2" r="2.95"/>
<circle cx="71.1" cy="214.2" r="2.95"/>
<circle cx="85.3" cy="269.5" r="2.95"/>
<circle cx="67.5" cy="282.3" r="2.95"/>
<circle cx="55.3" cy="212.4" r="2.95"/>
<circle cx="48.9" cy="235.0" r="2.95"/>
<circle cx="50.0" cy="217.4" r="2.95"/>
<circle cx="56.1" cy="256.6" r="2.95"/>
<circle cx="74.4" cy="251.1" r="2.95"/>
<circle cx="62.3" cy="234.9" r="2.95"/>
<circle cx="59.1" cy="224.2" r="2.95"/>
<circle cx="54.7" cy="209.7" r="2.95"/>
<circle cx="67.5" cy="216.1" r="2.95"/>
<circle cx="45.0" cy="135.1" r="2.95"/>
<circle cx="68.5" cy="232.6" r="2.95"/>
<circle cx="51.8" cy="191.0" r="2.95"/>
<circle cx="90.7" cy="276.5" r="2.95"/>
<circle cx="66.4" cy="230.5" r="2.95"/>
<circle cx="90.3" cy="263.2" r="2.95"/>
<circle cx="60.1" cy="255.5" r="2.95"/>
<circle cx="86.1" cy="282.4" r="2.95"/>
<circle cx="55.8" cy="129.6" r="2.95"/>
<circle cx="82.0" cy="255.0" r="2.95"/>
<circle cx="44.8" cy="170.0" r="2.95"/>
<circle cx="58.7" cy="211.9" r="2.95"/>
<circle cx="72.7" cy="259.4" r="2.95"/>
<circle cx="47.7" cy="282.1" r="2.95"/>
<circle cx="63.9" cy="209.7" r="2.95"/>
<circle cx="78.0" cy="235.9" r="2.95"/>
<circle cx="45.3" cy="143.0" r="2.95"/>
<circle cx="44.6" cy="159.6" r="2.95"/>
<circle cx="82.0" cy="274.9" r="2.95"/>
<circle cx="49.2" cy="246.3" r="2.95"/>
<circle cx="46.0" cy="115.3" r="2.95"/>
<circle cx="50.6" cy="205.7" r="2.95"/>
<circle cx="82.3" cy="251.7" r="2.95"/>
<circle cx="68.2" cy="255.3" r="2.95"/>
<circle cx="47.9" cy="237.0" r="2.95"/>
<circle cx="58.9" cy="282.5" r="2.95"/>
<circle cx="48.8" cy="218.3" r="2.95"/>
<circle cx="54.8" cy="273.4" r="2.95"/>
<circle cx="46.8" cy="255.2" r="2.95"/>
<circle cx="52.2" cy="130.4" r="2.95"/>
<circle cx="77.7" cy="228.6" r="2.95"/>
<circle cx="88.3" cy="278.8" r="2.95"/>
<circle cx="44.7" cy="223.0" r="2.95"/>
<circle cx="59.6" cy="122.6" r="2.95"/>
<circle cx="53.9" cy="205.6" r="2.95"/>
<circle cx="50.1" cy="224.4" r="2.95"/>
<circle cx="62.2" cy="260.0" r="2.95"/>
<circle cx="50.7" cy="185.2" r="2.95"/>
<circle cx="50.3" cy="257.2" r="2.95"/>
<circle cx="68.1" cy="281.8" r="2.95"/>
<circle cx="62.6" cy="270.1" r="2.95"/>
<circle cx="45.8" cy="282.1" r="2.95"/>
<circle cx="70.4" cy="214.2" r="2.95"/>
<circle cx="77.7" cy="228.3" r="2.95"/>
<circle cx="44.8" cy="218.2" r="2.95"/>
<circle cx="67.8" cy="244.3" r="2.95"/>
<circle cx="70.1" cy="260.6" r="2.95"/>
<circle cx="44.7" cy="198.5" r="2.95"/>
<circle cx="46.1" cy="118.2" r="2.95"/>
<circle cx="53.2" cy="113.8" r="2.95"/>
<circle cx="58.4" cy="236.2" r="2.95"/>
<circle cx="49.6" cy="159.9" r="2.95"/>
<circle cx="55.6" cy="215.1" r="2.95"/>
<circle cx="70.6" cy="252.8" r="2.95"/>
<circle cx="47.0" cy="200.2" r="2.95"/>
<circle cx="75.4" cy="230.6" r="2.95"/>
<circle cx="75.2" cy="236.5" r="2.95"/>
<circle cx="67.5" cy="226.6" r="2.95"/>
<circle cx="74.3" cy="244.8" r="2.95"/>
<circle cx="61.6" cy="158.6" r="2.95"/>
<circle cx="57.3" cy="232.3" r="2.95"/>
<circle cx="44.5" cy="211.2" r="2.95"/>
<circle cx="44.9" cy="127.2" r="2.95"/>
<circle cx="44.5" cy="213.0" r="2.95"/>
<circle cx="67.1" cy="233.4" r="2.95"/>
<circle cx="51.5" cy="244.6" r="2.95"/>
<circle cx="60.5" cy="214.5" r="2.95"/>
<circle cx="50.3" cy="282.3" r="2.95"/>
<circle cx="70.1" cy="247.8" r="2.95"/>
<circle cx="52.1" cy="260.7" r="2.95"/>
<circle cx="62.4" cy="278.7" r="2.95"/>
<circle cx="45.2" cy="170.8" r="2.95"/>
<circle cx="44.7" cy="161.4" r="2.95"/>
<circle cx="66.5" cy="271.6" r="2.95"/>
<circle cx="78.9" cy="233.8" r="2.95"/>
<circle cx="59.9" cy="224.4" r="2.95"/>
<circle cx="81.0" cy="265.8" r="2.95"/>
<circle cx="60.4" cy="255.0" r="2.95"/>
<circle cx="44.9" cy="250.8" r="2.95"/>
<circle cx="48.9" cy="193.6" r="2.95"/>
<circle cx="50.1" cy="117.7" r="2.95"/>
<circle cx="88.7" cy="274.0" r="2.95"/>
<circle cx="50.5" cy="209.4" r="2.95"/>
<circle cx="51.2" cy="238.5" r="2.95"/>
<circle cx="83.5" cy="270.9" r="2.95"/>
<circle cx="67.2" cy="278.3" r="2.95"/>
<circle cx="55.1" cy="148.1" r="2.95"/>
<circle cx="52.0" cy="114.6" r="2.95"/>
<circle cx="57.1" cy="196.0" r="2.95"/>
<circle cx="62.6" cy="238.1" r="2.95"/>
<circle cx="82.8" cy="260.0" r="2.95"/>
<circle cx="85.4" cy="264.3" r="2.95"/>
<circle cx="53.9" cy="219.0" r="2.95"/>
<circle cx="50.3" cy="259.4" r="2.95"/>
<circle cx="48.4" cy="225.7" r="2.95"/>
<circle cx="44.5" cy="126.3" r="2.95"/>
<circle cx="77.6" cy="247.8" r="2.95"/>
<circle cx="60.3" cy="132.0" r="2.95"/>
<circle cx="65.8" cy="281.2" r="2.95"/>
<circle cx="50.3" cy="248.8" r="2.95"/>
<circle cx="44.6" cy="153.1" r="2.95"/>
<circle cx="65.6" cy="238.9" r="2.95"/>
<circle cx="62.5" cy="177.3" r="2.95"/>
<circle cx="51.8" cy="210.7" r="2.95"/>
<circle cx="67.3" cy="239.3" r="2.95"/>
<circle cx="88.3" cy="256.1" r="2.95"/>
<circle cx="86.2" cy="261.5" r="2.95"/>
<circle cx="52.3" cy="223.2" r="2.95"/>
<circle cx="82.4" cy="263.0" r="2.95"/>
<circle cx="72.4" cy="251.9" r="2.95"/>
<circle cx="78.7" cy="276.9" r="2.95"/>
<circle cx="50.5" cy="230.3" r="2.95"/>
<circle cx="48.3" cy="268.1" r="2.95"/>
<circle cx="47.3" cy="245.9" r="2.95"/>
<circle cx="84.9" cy="282.6" r="2.95"/>
<circle cx="49.7" cy="202.6" r="2.95"/>
<circle cx="45.0" cy="264.4" r="2.95"/>
<circle cx="58.1" cy="258.3" r="2.95"/>
<circle cx="47.4" cy="248.2" r="2.95"/>
<circle cx="91.0" cy="266.5" r="2.95"/>
<circle cx="44.6" cy="217.1" r="2.95"/>
<circle cx="46.7" cy="220.4" r="2.95"/>
<circle cx="50.5" cy="211.4" r="2.95"/>
<circle cx="72.7" cy="229.1" r="2.95"/>
<circle cx="54.2" cy="123.6" r="2.95"/>
<circle cx="55.4" cy="157.7" r="2.95"/>
<circle cx="84.6" cy="251.5" r="2.95"/>
<circle cx="59.8" cy="282.2" r="2.95"/>
<circle cx="62.3" cy="121.8" r="2.95"/>
<circle cx="46.2" cy="239.3" r="2.95"/>
<circle cx="44.7" cy="254.9" r="2.95"/>
<circle cx="73.5" cy="240.0" r="2.95"/>
<circle cx="78.6" cy="273.8" r="2.95"/>
<circle cx="57.9" cy="280.8" r="2.95"/>
<circle cx="45.0" cy="213.9" r="2.95"/>
<circle cx="65.5" cy="226.8" r="2.95"/>
<circle cx="53.6" cy="271.6" r="2.95"/>
<circle cx="46.5" cy="218.1" r="2.95"/>
<circle cx="53.8" cy="270.5" r="2.95"/>
<circle cx="83.5" cy="247.9" r="2.95"/>
<circle cx="62.0" cy="239.4" r="2.95"/>
<circle cx="88.2" cy="277.2" r="2.95"/>
<circle cx="55.5" cy="216.5" r="2.95"/>
<circle cx="60.1" cy="248.3" r="2.95"/>
<circle cx="66.0" cy="235.9" r="2.95"/>
<circle cx="60.0" cy="211.3" r="2.95"/>
<circle cx="49.0" cy="239.3" r="2.95"/>
<circle cx="48.7" cy="275.1" r="2.95"/>
<circle cx="44.6" cy="194.1" r="2.95"/>
<circle cx="58.7" cy="228.7" r="2.95"/>
<circle cx="61.0" cy="238.1" r="2.95"/>
<circle cx="71.5" cy="217.6" r="2.95"/>
<circle cx="87.9" cy="282.1" r="2.95"/>
<circle cx="46.0" cy="124.6" r="2.95"/>
<circle cx="53.8" cy="246.3" r="2.95"/>
<circle cx="48.9" cy="240.2" r="2.95"/>
<circle cx="49.9" cy="263.7" r="2.95"/>
<circle cx="64.6" cy="261.2" r="2.95"/>
<circle cx="59.9" cy="244.4" r="2.95"/>
<circle cx="55.9" cy="265.1" r="2.95"/>
<circle cx="55.2" cy="263.9" r="2.95"/>
<circle cx="65.1" cy="249.4" r="2.95"/>
<circle cx="70.5" cy="264.4" r="2.95"/>
<circle cx="50.6" cy="172.8" r="2.95"/>
<circle cx="74.6" cy="268.3" r="2.95"/>
<circle cx="52.0" cy="259.6" r="2.95"/>
<circle cx="74.5" cy="271.5" r="2.95"/>
<circle cx="62.6" cy="254.3" r="2.95"/>
<circle cx="51.4" cy="229.1" r="2.95"/>
<circle cx="68.1" cy="227.3" r="2.95"/>
<circle cx="56.8" cy="195.8" r="2.95"/>
<circle cx="56.1" cy="248.8" r="2.95"/>
<circle cx="84.3" cy="271.7" r="2.95"/>
<circle cx="71.7" cy="268.9" r="2.95"/>
<circle cx="52.4" cy="156.7" r="2.95"/>
<circle cx="56.7" cy="154.9" r="2.95"/>
<circle cx="69.8" cy="239.4" r="2.95"/>
<circle cx="85.1" cy="249.4" r="2.95"/>
<circle cx="78.3" cy="256.7" r="2.95"/>
<circle cx="84.5" cy="277.8" r="2.95"/>
<circle cx="69.2" cy="254.4" r="2.95"/>
<circle cx="74.1" cy="266.8" r="2.95"/>
<circle cx="65.7" cy="220.9" r="2.95"/>
<circle cx="65.5" cy="230.4" r="2.95"/>
<circle cx="83.0" cy="255.1" r="2.95"/>
<circle cx="58.6" cy="163.5" r="2.95"/>
<circle cx="61.3" cy="195.3" r="2.95"/>
<circle cx="65.3" cy="263.7" r="2.95"/>
<circle cx="51.1" cy="236.4" r="2.95"/>
<circle cx="64.1" cy="243.4" r="2.95"/>
<circle cx="77.8" cy="260.9" r="2.95"/>
<circle cx="47.7" cy="125.8" r="2.95"/>
<circle cx="75.5" cy="220.4" r="2.95"/>
<circle cx="44.8" cy="176.3" r="2.95"/>
<circle cx="57.2" cy="282.1" r="2.95"/>
<circle cx="88.5" cy="265.8" r="2.95"/>
<circle cx="46.2" cy="259.7" r="2.95"/>
<circle cx="44.7" cy="99.2" r="2.95"/>
<circle cx="67.2" cy="232.3" r="2.95"/>
<circle cx="68.0" cy="275.7" r="2.95"/>
<circle cx="44.6" cy="192.3" r="2.95"/>
<circle cx="60.9" cy="225.3" r="2.95"/>
<circle cx="91.2" cy="276.6" r="2.95"/>
<circle cx="82.0" cy="252.8" r="2.95"/>
<circle cx="58.0" cy="272.0" r="2.95"/>
<circle cx="91.1" cy="273.7" r="2.95"/>
<circle cx="75.8" cy="264.1" r="2.95"/>
<circle cx="65.3" cy="228.1" r="2.95"/>
<circle cx="62.2" cy="212.1" r="2.95"/>
<circle cx="65.6" cy="282.1" r="2.95"/>
<circle cx="45.1" cy="168.3" r="2.95"/>
<circle cx="48.4" cy="132.6" r="2.95"/>
<circle cx="44.7" cy="270.0" r="2.95"/>
<circle cx="67.4" cy="217.0" r="2.95"/>
<circle cx="46.9" cy="240.8" r="2.95"/>
<circle cx="47.9" cy="246.9" r="2.95"/>
<circle cx="47.6" cy="200.6" r="2.95"/>
<circle cx="50.2" cy="235.4" r="2.95"/>
<circle cx="49.8" cy="162.2" r="2.95"/>
<circle cx="62.3" cy="126.4" r="2.95"/>
<circle cx="74.7" cy="224.3" r="2.95"/>
<circle cx="53.4" cy="263.7" r="2.95"/>
<circle cx="58.6" cy="217.7" r="2.95"/>
<circle cx="45.0" cy="248.2" r="2.95"/>
<circle cx="60.9" cy="281.1" r="2.95"/>
<circle cx="57.3" cy="272.7" r="2.95"/>
<circle cx="44.7" cy="188.1" r="2.95"/>
<circle cx="44.6" cy="239.1" r="2.95"/>
<circle cx="51.7" cy="238.4" r="2.95"/>
<circle cx="60.5" cy="168.3" r="2.95"/>
<circle cx="55.2" cy="276.9" r="2.95"/>
<circle cx="86.3" cy="227.5" r="2.95"/>
<circle cx="50.1" cy="243.6" r="2.95"/>
<circle cx="70.2" cy="242.0" r="2.95"/>
<circle cx="57.7" cy="142.2" r="2.95"/>
<circle cx="47.0" cy="227.3" r="2.95"/>
<circle cx="44.6" cy="196.0" r="2.95"/>
<circle cx="91.0" cy="282.2" r="2.95"/>
<circle cx="50.3" cy="269.9" r="2.95"/>
<circle cx="73.8" cy="219.5" r="2.95"/>
<circle cx="49.9" cy="149.9" r="2.95"/>
<circle cx="56.4" cy="158.2" r="2.95"/>
<circle cx="55.3" cy="266.5" r="2.95"/>
<circle cx="45.3" cy="196.3" r="2.95"/>
<circle cx="56.2" cy="282.6" r="2.95"/>
<circle cx="77.0" cy="243.1" r="2.95"/>
<circle cx="76.0" cy="260.4" r="2.95"/>
<circle cx="44.8" cy="185.4" r="2.95"/>
<circle cx="57.0" cy="190.9" r="2.95"/>
<circle cx="65.8" cy="278.9" r="2.95"/>
<circle cx="63.4" cy="218.0" r="2.95"/>
<circle cx="76.9" cy="244.6" r="2.95"/>
<circle cx="59.8" cy="194.7" r="2.95"/>
<circle cx="59.7" cy="211.9" r="2.95"/>
<circle cx="69.5" cy="225.7" r="2.95"/>
<circle cx="87.9" cy="267.1" r="2.95"/>
<circle cx="44.7" cy="163.2" r="2.95"/>
<circle cx="88.6" cy="255.2" r="2.95"/>
<circle cx="54.6" cy="215.5" r="2.95"/>
<circle cx="58.8" cy="270.8" r="2.95"/>
<circle cx="70.6" cy="260.8" r="2.95"/>
<circle cx="44.9" cy="158.4" r="2.95"/>
<circle cx="65.5" cy="276.3" r="2.95"/>
<circle cx="48.5" cy="282.0" r="2.95"/>
<circle cx="53.1" cy="203.2" r="2.95"/>
<circle cx="45.3" cy="118.3" r="2.95"/>
<circle cx="50.2" cy="255.8" r="2.95"/>
<circle cx="44.6" cy="234.9" r="2.95"/>
<circle cx="76.5" cy="232.5" r="2.95"/>
<circle cx="73.0" cy="264.2" r="2.95"/>
<circle cx="44.5" cy="273.6" r="2.95"/>
<circle cx="69.0" cy="254.9" r="2.95"/>
<circle cx="55.9" cy="211.9" r="2.95"/>
<circle cx="54.8" cy="204.9" r="2.95"/>
<circle cx="44.7" cy="124.6" r="2.95"/>
<circle cx="69.0" cy="232.7" r="2.95"/>
<circle cx="72.1" cy="240.3" r="2.95"/>
<circle cx="80.6" cy="265.8" r="2.95"/>
<circle cx="47.1" cy="269.9" r="2.95"/>
<circle cx="56.1" cy="154.4" r="2.95"/>
<circle cx="71.2" cy="282.6" r="2.95"/>
<circle cx="55.6" cy="281.4" r="2.95"/>
<circle cx="54.2" cy="215.5" r="2.95"/>
<circle cx="53.5" cy="114.5" r="2.95"/>
<circle cx="77.0" cy="262.1" r="2.95"/>
<circle cx="52.3" cy="195.5" r="2.95"/>
<circle cx="45.0" cy="144.3" r="2.95"/>
<circle cx="44.9" cy="213.7" r="2.95"/>
<circle cx="53.1" cy="243.1" r="2.95"/>
<circle cx="44.7" cy="208.0" r="2.95"/>
<circle cx="45.6" cy="207.2" r="2.95"/>
<circle cx="72.6" cy="231.8" r="2.95"/>
<circle cx="44.9" cy="190.7" r="2.95"/>
<circle cx="64.4" cy="259.3" r="2.95"/>
<circle cx="45.1" cy="148.4" r="2.95"/>
<circle cx="54.8" cy="267.4" r="2.95"/>
<circle cx="87.2" cy="251.6" r="2.95"/>
<circle cx="50.8" cy="238.5" r="2.95"/>
<circle cx="76.0" cy="249.0" r="2.95"/>
<circle cx="57.7" cy="193.0" r="2.95"/>
<circle cx="50.7" cy="209.3" r="2.95"/>
<circle cx="71.8" cy="267.8" r="2.95"/>
<circle cx="57.4" cy="218.9" r="2.95"/>
<circle cx="65.3" cy="268.4" r="2.95"/>
<circle cx="72.2" cy="246.7" r="2.95"/>
<circle cx="44.6" cy="140.6" r="2.95"/>
<circle cx="65.8" cy="240.1" r="2.95"/>
<circle cx="67.0" cy="214.0" r="2.95"/>
<circle cx="45.9" cy="238.0" r="2.95"/>
<circle cx="65.2" cy="214.3" r="2.95"/>
<circle cx="48.0" cy="255.0" r="2.95"/>
<circle cx="59.4" cy="268.7" r="2.95"/>
<circle cx="68.3" cy="231.1" r="2.95"/>
<circle cx="68.3" cy="246.9" r="2.95"/>
<circle cx="65.9" cy="260.6" r="2.95"/>
<circle cx="83.1" cy="264.3" r="2.95"/>
<circle cx="75.6" cy="247.1" r="2.95"/>
<circle cx="54.2" cy="258.6" r="2.95"/>
<circle cx="52.5" cy="141.8" r="2.95"/>
<circle cx="47.2" cy="235.7" r="2.95"/>
<circle cx="44.7" cy="278.3" r="2.95"/>
<circle cx="54.9" cy="198.8" r="2.95"/>
<circle cx="70.0" cy="264.1" r="2.95"/>
<circle cx="72.3" cy="235.9" r="2.95"/>
<circle cx="49.0" cy="225.9" r="2.95"/>
<circle cx="90.2" cy="261.3" r="2.95"/>
<circle cx="60.0" cy="200.2" r="2.95"/>
<circle cx="52.2" cy="226.8" r="2.95"/>
<circle cx="80.5" cy="257.8" r="2.95"/>
<circle cx="78.9" cy="233.0" r="2.95"/>
<circle cx="44.8" cy="244.1" r="2.95"/>
<circle cx="46.9" cy="217.7" r="2.95"/>
<circle cx="47.5" cy="206.0" r="2.95"/>
<circle cx="83.9" cy="282.1" r="2.95"/>
<circle cx="48.0" cy="210.2" r="2.95"/>
<circle cx="72.1" cy="225.8" r="2.95"/>
<circle cx="59.1" cy="237.0" r="2.95"/>
<circle cx="44.8" cy="116.0" r="2.95"/>
<circle cx="63.9" cy="251.0" r="2.95"/>
<circle cx="50.3" cy="187.0" r="2.95"/>
<circle cx="60.9" cy="277.7" r="2.95"/>
<circle cx="44.5" cy="134.9" r="2.95"/>
<circle cx="48.3" cy="277.6" r="2.95"/>
<circle cx="44.7" cy="114.5" r="2.95"/>
<circle cx="52.3" cy="230.2" r="2.95"/>
<circle cx="73.1" cy="259.6" r="2.95"/>
<circle cx="65.4" cy="224.8" r="2.95"/>
<circle cx="45.8" cy="219.6" r="2.95"/>
<circle cx="67.3" cy="218.7" r="2.95"/>
<circle cx="44.7" cy="213.1" r="2.95"/>
<circle cx="54.2" cy="244.0" r="2.95"/>
<circle cx="81.3" cy="280.6" r="2.95"/>
<circle cx="83.3" cy="279.6" r="2.95"/>
<circle cx="71.1" cy="230.9" r="2.95"/>
<circle cx="60.8" cy="241.8" r="2.95"/>
<circle cx="63.3" cy="118.4" r="2.95"/>
<circle cx="74.7" cy="279.4" r="2.95"/>
<circle cx="78.9" cy="238.1" r="2.95"/>
<circle cx="55.7" cy="262.2" r="2.95"/>
<circle cx="69.9" cy="217.5" r="2.95"/>
<circle cx="72.3" cy="214.9" r="2.95"/>
<circle cx="57.7" cy="210.2" r="2.95"/>
<circle cx="45.5" cy="240.9" r="2.95"/>
<circle cx="61.4" cy="209.2" r="2.95"/>
<circle cx="51.6" cy="208.3" r="2.95"/>
<circle cx="54.7" cy="274.1" r="2.95"/>
<circle cx="81.1" cy="277.6" r="2.95"/>
<circle cx="44.5" cy="281.1" r="2.95"/>
<circle cx="44.8" cy="209.1" r="2.95"/>
<circle cx="80.4" cy="258.4" r="2.95"/>
<circle cx="64.2" cy="207.8" r="2.95"/>
<circle cx="78.8" cy="278.8" r="2.95"/>
<circle cx="52.0" cy="233.0" r="2.95"/>
<circle cx="82.3" cy="253.4" r="2.95"/>
<circle cx="53.6" cy="218.9" r="2.95"/>
<circle cx="70.7" cy="253.2" r="2.95"/>
<circle cx="62.7" cy="276.0" r="2.95"/>
<circle cx="66.5" cy="236.8" r="2.95"/>
<circle cx="51.8" cy="247.3" r="2.95"/>
<circle cx="57.2" cy="230.5" r="2.95"/>
<circle cx="67.0" cy="252.0" r="2.95"/>
<circle cx="47.1" cy="199.0" r="2.95"/>
<circle cx="64.7" cy="243.2" r="2.95"/>
<circle cx="73.1" cy="223.1" r="2.95"/>
<circle cx="67.4" cy="220.5" r="2.95"/>
<circle cx="65.2" cy="259.5" r="2.95"/>
<circle cx="64.1" cy="242.9" r="2.95"/>
<circle cx="87.2" cy="281.9" r="2.95"/>
<circle cx="72.2" cy="268.1" r="2.95"/>
<circle cx="47.9" cy="251.7" r="2.95"/>
<circle cx="46.5" cy="194.4" r="2.95"/>
<circle cx="47.8" cy="225.8" r="2.95"/>
<circle cx="78.3" cy="262.2" r="2.95"/>
<circle cx="44.5" cy="219.3" r="2.95"/>
<circle cx="80.2" cy="260.8" r="2.95"/>
<circle cx="72.9" cy="240.9" r="2.95"/>
<circle cx="62.0" cy="201.3" r="2.95"/>
<circle cx="65.2" cy="136.6" r="2.95"/>
<circle cx="50.9" cy="250.4" r="2.95"/>
<circle cx="44.6" cy="243.1" r="2.95"/>
<circle cx="48.4" cy="158.4" r="2.95"/>
<circle cx="47.4" cy="224.1" r="2.95"/>
<circle cx="78.6" cy="256.4" r="2.95"/>
<circle cx="66.6" cy="228.1" r="2.95"/>
<circle cx="65.9" cy="280.7" r="2.95"/>
<circle cx="80.1" cy="269.2" r="2.95"/>
<circle cx="59.3" cy="243.1" r="2.95"/>
<circle cx="44.8" cy="174.5" r="2.95"/>
<circle cx="52.7" cy="165.1" r="2.95"/>
<circle cx="58.9" cy="213.0" r="2.95"/>
<circle cx="69.6" cy="244.1" r="2.95"/>
<circle cx="54.1" cy="223.1" r="2.95"/>
<circle cx="44.7" cy="275.7" r="2.95"/>
<circle cx="49.7" cy="261.0" r="2.95"/>
<circle cx="78.7" cy="275.7" r="2.95"/>
<circle cx="55.1" cy="245.8" r="2.95"/>
<circle cx="62.4" cy="249.5" r="2.95"/>
<circle cx="75.4" cy="246.4" r="2.95"/>
<circle cx="57.1" cy="247.7" r="2.95"/>
<circle cx="47.9" cy="153.3" r="2.95"/>
<circle cx="91.3" cy="266.5" r="2.95"/>
<circle cx="51.2" cy="192.5" r="2.95"/>
<circle cx="61.1" cy="182.1" r="2.95"/>
<circle cx="76.0" cy="254.9" r="2.95"/>
<circle cx="64.9" cy="160.6" r="2.95"/>
<circle cx="60.9" cy="250.4" r="2.95"/>
<circle cx="51.1" cy="282.1" r="2.95"/>
<circle cx="44.8" cy="255.1" r="2.95"/>
<circle cx="49.0" cy="115.9" r="2.95"/>
<circle cx="63.6" cy="221.8" r="2.95"/>
<circle cx="61.8" cy="276.9" r="2.95"/>
<circle cx="45.0" cy="236.3" r="2.95"/>
<circle cx="63.2" cy="209.2" r="2.95"/>
<circle cx="46.3" cy="277.4" r="2.95"/>
<circle cx="58.3" cy="197.1" r="2.95"/>
<circle cx="54.2" cy="270.3" r="2.95"/>
<circle cx="69.0" cy="250.5" r="2.95"/>
<circle cx="45.1" cy="253.7" r="2.95"/>
<circle cx="66.7" cy="151.9" r="2.95"/>
<circle cx="63.3" cy="208.3" r="2.95"/>
<circle cx="51.8" cy="216.5" r="2.95"/>
<circle cx="44.5" cy="136.4" r="2.95"/>
<circle cx="59.8" cy="222.1" r="2.95"/>
<circle cx="79.2" cy="238.0" r="2.95"/>
<circle cx="76.7" cy="277.5" r="2.95"/>
<circle cx="72.2" cy="227.0" r="2.95"/>
<circle cx="44.7" cy="179.1" r="2.95"/>
<circle cx="68.7" cy="277.5" r="2.95"/>
<circle cx="66.7" cy="266.3" r="2.95"/>
<circle cx="48.7" cy="163.4" r="2.95"/>
<circle cx="48.0" cy="225.6" r="2.95"/>
<circle cx="75.3" cy="242.8" r="2.95"/>
<circle cx="44.5" cy="200.2" r="2.95"/>
<circle cx="44.8" cy="182.5" r="2.95"/>
</g>
<g class="pt">
<circle cx="58.6" cy="43.8" r="2.95" fill="#00008B"/>
<circle cx="49.6" cy="51.3" r="2.95" fill="#00008B"/>
<circle cx="49.9" cy="51.0" r="2.95" fill="#00008B"/>
<circle cx="56.6" cy="54.1" r="2.95" fill="#00008B"/>
<circle cx="124.5" cy="38.9" r="2.95" fill="#006400"/>
<circle cx="131.7" cy="51.6" r="2.95" fill="#006400"/>
<circle cx="159.2" cy="37.4" r="2.95" fill="#FF0000"/>
<circle cx="169.3" cy="38.9" r="2.95" fill="#FF0000"/>
<circle cx="168.1" cy="32.3" r="2.95" fill="#FF0000"/>
<circle cx="167.1" cy="29.2" r="2.95" fill="#FF0000"/>
<circle cx="170.8" cy="26.4" r="2.95" fill="#FF0000"/>
<circle cx="174.1" cy="28.2" r="2.95" fill="#FF0000"/>
<circle cx="176.7" cy="28.9" r="2.95" fill="#FF0000"/>
<circle cx="179.0" cy="24.5" r="2.95" fill="#FF0000"/>
<circle cx="179.0" cy="27.2" r="2.95" fill="#FF0000"/>
<circle cx="182.2" cy="30.0" r="2.95" fill="#FF0000"/>
<circle cx="163.8" cy="37.4" r="2.95" fill="#00008B"/>
<circle cx="167.8" cy="34.9" r="2.95" fill="#00008B"/>
<circle cx="206.6" cy="30.4" r="2.95" fill="#FF0000"/>
<circle cx="213.5" cy="31.5" r="2.95" fill="#FF0000"/>
<circle cx="219.0" cy="32.6" r="2.95" fill="#FF0000"/>
<circle cx="228.0" cy="38.9" r="2.95" fill="#FF0000"/>
<circle cx="221.5" cy="40.4" r="2.95" fill="#00008B"/>
<circle cx="224.7" cy="38.3" r="2.95" fill="#FFA500"/>
<circle cx="233.0" cy="37.9" r="2.95" fill="#FF0000"/>
<circle cx="247.3" cy="38.2" r="2.95" fill="#FF0000"/>
<circle cx="261.6" cy="27.9" r="2.95" fill="#FF0000"/>
<circle cx="272.0" cy="31.6" r="2.95" fill="#FF0000"/>
<circle cx="273.2" cy="39.5" r="2.95" fill="#FF0000"/>
<circle cx="253.8" cy="39.5" r="2.95" fill="#FFA500"/>
<circle cx="254.4" cy="42.7" r="2.95" fill="#FFA500"/>
<circle cx="267.7" cy="27.1" r="2.95" fill="#FFA500"/>
<circle cx="260.4" cy="32.4" r="2.95" fill="#FFA500"/>
<circle cx="275.7" cy="34.9" r="2.95" fill="#FFA500"/>
<circle cx="264.6" cy="36.9" r="2.95" fill="#FFA500"/>
<circle cx="269.4" cy="39.0" r="2.95" fill="#FFA500"/>
<circle cx="289.3" cy="20.8" r="2.95" fill="#FFA500"/>
<circle cx="302.6" cy="29.1" r="2.95" fill="#FFA500"/>
<circle cx="291.5" cy="35.2" r="2.95" fill="#FFA500"/>
<circle cx="291.8" cy="36.9" r="2.95" fill="#FFA500"/>
<circle cx="294.8" cy="39.9" r="2.95" fill="#FFA500"/>
<circle cx="298.5" cy="39.0" r="2.95" fill="#FFA500"/>
<circle cx="304.8" cy="34.9" r="2.95" fill="#FFA500"/>
<circle cx="305.1" cy="37.4" r="2.95" fill="#FFA500"/>
<circle cx="311.1" cy="39.0" r="2.95" fill="#FFA500"/>
<circle cx="312.6" cy="35.7" r="2.95" fill="#FFA500"/>
<circle cx="318.1" cy="31.9" r="2.95" fill="#FFA500"/>
<circle cx="317.6" cy="36.9" r="2.95" fill="#FFA500"/>
<circle cx="321.4" cy="35.2" r="2.95" fill="#FFA500"/>
<circle cx="323.9" cy="36.6" r="2.95" fill="#FFA500"/>
<circle cx="324.7" cy="27.1" r="2.95" fill="#FFA500"/>
<circle cx="327.7" cy="35.7" r="2.95" fill="#FFA500"/>
<circle cx="235.0" cy="55.5" r="2.95" fill="#FFA500"/>
<circle cx="256.3" cy="56.6" r="2.95" fill="#FFA500"/>
<circle cx="262.4" cy="56.9" r="2.95" fill="#FFA500"/>
<circle cx="281.8" cy="55.8" r="2.95" fill="#FFA500"/>
<circle cx="253.3" cy="74.4" r="2.95" fill="#FFA500"/>
<circle cx="44.6" cy="82.7" r="2.95" fill="#00008B"/>
<circle cx="47.4" cy="87.4" r="2.95" fill="#00008B"/>
<circle cx="47.6" cy="87.6" r="2.95" fill="#00008B"/>
<circle cx="44.6" cy="89.0" r="2.95" fill="#00008B"/>
<circle cx="45.8" cy="94.0" r="2.95" fill="#00008B"/>
<circle cx="99.5" cy="96.0" r="2.95" fill="#006400"/>
<circle cx="142.2" cy="79.5" r="2.95" fill="#FFA500"/>
<circle cx="159.1" cy="54.6" r="2.95" fill="#FFA500"/>
<circle cx="168.8" cy="57.9" r="2.95" fill="#00008B"/>
<circle cx="169.2" cy="58.3" r="2.95" fill="#00008B"/>
<circle cx="164.6" cy="62.4" r="2.95" fill="#FF0000"/>
<circle cx="174.6" cy="63.3" r="2.95" fill="#FF0000"/>
<circle cx="169.6" cy="61.3" r="2.95" fill="#FF0000"/>
<circle cx="166.0" cy="61.0" r="2.95" fill="#FF0000"/>
<circle cx="172.0" cy="64.5" r="2.95" fill="#FF0000"/>
<circle cx="157.1" cy="66.6" r="2.95" fill="#FFA500"/>
<circle cx="160.4" cy="66.6" r="2.95" fill="#FFA500"/>
<circle cx="170.4" cy="67.4" r="2.95" fill="#FFA500"/>
<circle cx="173.7" cy="67.4" r="2.95" fill="#FFA500"/>
<circle cx="152.1" cy="71.6" r="2.95" fill="#FFA500"/>
<circle cx="155.5" cy="71.6" r="2.95" fill="#FFA500"/>
<circle cx="162.9" cy="72.4" r="2.95" fill="#FFA500"/>
<circle cx="172.1" cy="72.4" r="2.95" fill="#FFA500"/>
<circle cx="150.5" cy="75.7" r="2.95" fill="#FFA500"/>
<circle cx="153.8" cy="79.0" r="2.95" fill="#FFA500"/>
<circle cx="167.9" cy="76.6" r="2.95" fill="#FFA500"/>
<circle cx="169.6" cy="79.9" r="2.95" fill="#FFA500"/>
<circle cx="173.7" cy="79.0" r="2.95" fill="#FFA500"/>
<circle cx="143.8" cy="79.9" r="2.95" fill="#FFA500"/>
<circle cx="148.0" cy="84.9" r="2.95" fill="#FFA500"/>
<circle cx="152.1" cy="84.0" r="2.95" fill="#FFA500"/>
<circle cx="158.8" cy="82.4" r="2.95" fill="#FFA500"/>
<circle cx="162.1" cy="83.5" r="2.95" fill="#FFA500"/>
<circle cx="159.6" cy="85.2" r="2.95" fill="#FFA500"/>
<circle cx="171.2" cy="87.4" r="2.95" fill="#FFA500"/>
<circle cx="173.7" cy="87.4" r="2.95" fill="#FFA500"/>
<circle cx="166.3" cy="91.5" r="2.95" fill="#FFA500"/>
<circle cx="160.4" cy="93.2" r="2.95" fill="#FFA500"/>
<circle cx="149.6" cy="93.5" r="2.95" fill="#FFA500"/>
<circle cx="153.8" cy="94.8" r="2.95" fill="#FFA500"/>
<circle cx="156.3" cy="94.8" r="2.95" fill="#FFA500"/>
<circle cx="182.4" cy="79.5" r="2.95" fill="#FFA500"/>
<circle cx="155.5" cy="74.1" r="2.95" fill="#FF0000"/>
<circle cx="174.6" cy="72.4" r="2.95" fill="#FF0000"/>
<circle cx="163.8" cy="78.2" r="2.95" fill="#FF0000"/>
<circle cx="166.3" cy="70.7" r="2.95" fill="#00008B"/>
<circle cx="185.9" cy="70.7" r="2.95" fill="#FF0000"/>
<circle cx="194.5" cy="70.4" r="2.95" fill="#FF0000"/>
<circle cx="198.2" cy="72.4" r="2.95" fill="#FF0000"/>
<circle cx="198.7" cy="64.9" r="2.95" fill="#FF0000"/>
<circle cx="198.9" cy="65.3" r="2.95" fill="#FF0000"/>
<circle cx="225.6" cy="68.6" r="2.95" fill="#FF0000"/>
<circle cx="207.2" cy="95.2" r="2.95" fill="#FF0000"/>
<circle cx="228.8" cy="97.5" r="2.95" fill="#FF0000"/>
<circle cx="206.1" cy="71.2" r="2.95" fill="#00008B"/>
<circle cx="223.9" cy="59.6" r="2.95" fill="#00008B"/>
<circle cx="97.3" cy="100.8" r="2.95" fill="#006400"/>
<circle cx="93.6" cy="102.5" r="2.95" fill="#006400"/>
<circle cx="93.6" cy="106.3" r="2.95" fill="#006400"/>
<circle cx="103.9" cy="101.3" r="2.95" fill="#006400"/>
<circle cx="107.3" cy="101.6" r="2.95" fill="#006400"/>
<circle cx="105.6" cy="101.4" r="2.95" fill="#006400"/>
<circle cx="114.4" cy="103.6" r="2.95" fill="#00008B"/>
<circle cx="66.2" cy="119.6" r="2.95" fill="#00008B"/>
<circle cx="63.2" cy="139.9" r="2.95" fill="#00008B"/>
<circle cx="69.0" cy="144.0" r="2.95" fill="#00008B"/>
<circle cx="88.2" cy="141.2" r="2.95" fill="#00008B"/>
<circle cx="91.5" cy="114.1" r="2.95" fill="#87CEEB"/>
<circle cx="95.6" cy="113.8" r="2.95" fill="#87CEEB"/>
<circle cx="102.0" cy="112.9" r="2.95" fill="#87CEEB"/>
<circle cx="91.1" cy="119.9" r="2.95" fill="#87CEEB"/>
<circle cx="92.8" cy="119.9" r="2.95" fill="#87CEEB"/>
<circle cx="102.0" cy="119.9" r="2.95" fill="#87CEEB"/>
<circle cx="126.4" cy="117.4" r="2.95" fill="#87CEEB"/>
<circle cx="91.5" cy="116.3" r="2.95" fill="#006400"/>
<circle cx="118.9" cy="114.1" r="2.95" fill="#006400"/>
<circle cx="118.9" cy="115.8" r="2.95" fill="#006400"/>
<circle cx="126.4" cy="114.9" r="2.95" fill="#006400"/>
<circle cx="143.4" cy="129.9" r="2.95" fill="#006400"/>
<circle cx="142.2" cy="98.3" r="2.95" fill="#FFA500"/>
<circle cx="142.2" cy="102.5" r="2.95" fill="#FFA500"/>
<circle cx="122.2" cy="143.5" r="2.95" fill="#FFA500"/>
<circle cx="92.3" cy="132.9" r="2.95" fill="#87CEEB"/>
<circle cx="96.5" cy="144.0" r="2.95" fill="#87CEEB"/>
<circle cx="81.5" cy="145.7" r="2.95" fill="#87CEEB"/>
<circle cx="143.4" cy="143.6" r="2.95" fill="#87CEEB"/>
<circle cx="166.8" cy="91.7" r="2.95" fill="#FFA500"/>
<circle cx="160.4" cy="93.0" r="2.95" fill="#FFA500"/>
<circle cx="150.5" cy="93.7" r="2.95" fill="#FFA500"/>
<circle cx="153.8" cy="95.3" r="2.95" fill="#FFA500"/>
<circle cx="162.9" cy="98.3" r="2.95" fill="#FFA500"/>
<circle cx="149.6" cy="98.6" r="2.95" fill="#FFA500"/>
<circle cx="143.8" cy="100.0" r="2.95" fill="#FFA500"/>
<circle cx="150.5" cy="101.6" r="2.95" fill="#FFA500"/>
<circle cx="143.0" cy="104.1" r="2.95" fill="#FFA500"/>
<circle cx="155.5" cy="105.3" r="2.95" fill="#FFA500"/>
<circle cx="164.6" cy="107.4" r="2.95" fill="#FFA500"/>
<circle cx="152.5" cy="111.1" r="2.95" fill="#00008B"/>
<circle cx="65.7" cy="145.0" r="2.95" fill="#00008B"/>
<circle cx="69.9" cy="148.3" r="2.95" fill="#00008B"/>
<circle cx="76.5" cy="149.1" r="2.95" fill="#00008B"/>
<circle cx="87.3" cy="151.6" r="2.95" fill="#00008B"/>
<circle cx="65.7" cy="155.3" r="2.95" fill="#00008B"/>
<circle cx="76.5" cy="156.6" r="2.95" fill="#00008B"/>
<circle cx="69.9" cy="164.1" r="2.95" fill="#00008B"/>
<circle cx="75.7" cy="160.8" r="2.95" fill="#00008B"/>
<circle cx="80.7" cy="164.6" r="2.95" fill="#00008B"/>
<circle cx="133.5" cy="154.6" r="2.95" fill="#00008B"/>
<circle cx="111.8" cy="161.3" r="2.95" fill="#00008B"/>
<circle cx="105.6" cy="170.2" r="2.95" fill="#00008B"/>
<circle cx="90.7" cy="174.1" r="2.95" fill="#00008B"/>
<circle cx="98.1" cy="179.9" r="2.95" fill="#00008B"/>
<circle cx="74.9" cy="170.7" r="2.95" fill="#00008B"/>
<circle cx="69.9" cy="170.7" r="2.95" fill="#00008B"/>
<circle cx="66.6" cy="174.1" r="2.95" fill="#00008B"/>
<circle cx="66.6" cy="178.2" r="2.95" fill="#00008B"/>
<circle cx="72.4" cy="186.5" r="2.95" fill="#00008B"/>
<circle cx="78.2" cy="188.2" r="2.95" fill="#00008B"/>
<circle cx="88.2" cy="186.5" r="2.95" fill="#00008B"/>
<circle cx="90.7" cy="189.0" r="2.95" fill="#00008B"/>
<circle cx="101.5" cy="188.2" r="2.95" fill="#00008B"/>
<circle cx="103.9" cy="187.4" r="2.95" fill="#00008B"/>
<circle cx="109.8" cy="184.9" r="2.95" fill="#00008B"/>
<circle cx="120.6" cy="184.9" r="2.95" fill="#00008B"/>
<circle cx="123.1" cy="190.7" r="2.95" fill="#00008B"/>
<circle cx="108.9" cy="192.3" r="2.95" fill="#00008B"/>
<circle cx="79.9" cy="194.8" r="2.95" fill="#00008B"/>
<circle cx="86.5" cy="195.7" r="2.95" fill="#00008B"/>
<circle cx="123.1" cy="194.8" r="2.95" fill="#00008B"/>
<circle cx="88.0" cy="179.0" r="2.95" fill="#00008B"/>
<circle cx="89.5" cy="183.5" r="2.95" fill="#00008B"/>
<circle cx="96.5" cy="143.3" r="2.95" fill="#87CEEB"/>
<circle cx="95.6" cy="147.5" r="2.95" fill="#87CEEB"/>
<circle cx="80.7" cy="146.6" r="2.95" fill="#87CEEB"/>
<circle cx="91.5" cy="152.5" r="2.95" fill="#87CEEB"/>
<circle cx="72.9" cy="155.8" r="2.95" fill="#87CEEB"/>
<circle cx="91.5" cy="162.4" r="2.95" fill="#87CEEB"/>
<circle cx="127.2" cy="156.6" r="2.95" fill="#87CEEB"/>
<circle cx="121.4" cy="157.4" r="2.95" fill="#87CEEB"/>
<circle cx="115.6" cy="159.9" r="2.95" fill="#87CEEB"/>
<circle cx="143.0" cy="156.6" r="2.95" fill="#87CEEB"/>
<circle cx="143.0" cy="160.8" r="2.95" fill="#87CEEB"/>
<circle cx="143.0" cy="173.2" r="2.95" fill="#87CEEB"/>
<circle cx="100.6" cy="172.4" r="2.95" fill="#87CEEB"/>
<circle cx="90.7" cy="169.9" r="2.95" fill="#87CEEB"/>
<circle cx="88.2" cy="175.7" r="2.95" fill="#87CEEB"/>
<circle cx="98.1" cy="175.7" r="2.95" fill="#87CEEB"/>
<circle cx="88.2" cy="179.9" r="2.95" fill="#87CEEB"/>
<circle cx="128.5" cy="184.9" r="2.95" fill="#87CEEB"/>
<circle cx="116.9" cy="189.0" r="2.95" fill="#87CEEB"/>
<circle cx="95.6" cy="194.0" r="2.95" fill="#87CEEB"/>
<circle cx="102.3" cy="194.0" r="2.95" fill="#87CEEB"/>
<circle cx="122.2" cy="161.3" r="2.95" fill="#006400"/>
<circle cx="112.3" cy="164.6" r="2.95" fill="#006400"/>
<circle cx="121.9" cy="143.7" r="2.95" fill="#FFA500"/>
<circle cx="171.7" cy="152.8" r="2.95" fill="#006400"/>
<circle cx="158.8" cy="178.6" r="2.95" fill="#006400"/>
<circle cx="198.7" cy="179.9" r="2.95" fill="#006400"/>
<circle cx="144.7" cy="155.8" r="2.95" fill="#87CEEB"/>
<circle cx="148.0" cy="156.6" r="2.95" fill="#87CEEB"/>
<circle cx="156.3" cy="155.8" r="2.95" fill="#87CEEB"/>
<circle cx="164.3" cy="155.8" r="2.95" fill="#87CEEB"/>
<circle cx="164.3" cy="159.9" r="2.95" fill="#87CEEB"/>
<circle cx="167.9" cy="160.8" r="2.95" fill="#87CEEB"/>
<circle cx="144.7" cy="160.8" r="2.95" fill="#87CEEB"/>
<circle cx="160.4" cy="161.6" r="2.95" fill="#87CEEB"/>
<circle cx="173.7" cy="161.6" r="2.95" fill="#87CEEB"/>
<circle cx="178.7" cy="162.1" r="2.95" fill="#87CEEB"/>
<circle cx="153.8" cy="170.2" r="2.95" fill="#87CEEB"/>
<circle cx="162.1" cy="172.7" r="2.95" fill="#87CEEB"/>
<circle cx="145.5" cy="174.1" r="2.95" fill="#87CEEB"/>
<circle cx="150.5" cy="179.4" r="2.95" fill="#87CEEB"/>
<circle cx="153.0" cy="189.5" r="2.95" fill="#87CEEB"/>
<circle cx="155.5" cy="189.5" r="2.95" fill="#87CEEB"/>
<circle cx="159.6" cy="189.5" r="2.95" fill="#87CEEB"/>
<circle cx="152.1" cy="192.3" r="2.95" fill="#87CEEB"/>
<circle cx="157.1" cy="193.2" r="2.95" fill="#87CEEB"/>
<circle cx="175.9" cy="188.5" r="2.95" fill="#87CEEB"/>
<circle cx="182.9" cy="189.9" r="2.95" fill="#87CEEB"/>
<circle cx="187.5" cy="189.0" r="2.95" fill="#87CEEB"/>
<circle cx="194.8" cy="188.7" r="2.95" fill="#87CEEB"/>
<circle cx="199.5" cy="191.8" r="2.95" fill="#87CEEB"/>
<circle cx="179.6" cy="195.7" r="2.95" fill="#87CEEB"/>
<circle cx="158.5" cy="201.1" r="2.95" fill="#87CEEB"/>
<circle cx="179.2" cy="197.5" r="2.95" fill="#87CEEB"/>
<circle cx="148.0" cy="160.8" r="2.95" fill="#00008B"/>
<circle cx="156.0" cy="160.8" r="2.95" fill="#00008B"/>
<circle cx="176.7" cy="162.1" r="2.95" fill="#00008B"/>
<circle cx="167.6" cy="172.1" r="2.95" fill="#00008B"/>
<circle cx="168.4" cy="190.7" r="2.95" fill="#00008B"/>
<circle cx="204.0" cy="189.4" r="2.95" fill="#00008B"/>
<circle cx="70.7" cy="197.5" r="2.95" fill="#00008B"/>
<circle cx="79.9" cy="196.6" r="2.95" fill="#00008B"/>
<circle cx="85.7" cy="197.5" r="2.95" fill="#00008B"/>
<circle cx="83.2" cy="204.1" r="2.95" fill="#00008B"/>
<circle cx="96.5" cy="201.6" r="2.95" fill="#00008B"/>
<circle cx="94.8" cy="208.3" r="2.95" fill="#00008B"/>
<circle cx="108.9" cy="193.3" r="2.95" fill="#00008B"/>
<circle cx="114.4" cy="199.1" r="2.95" fill="#00008B"/>
<circle cx="123.1" cy="192.5" r="2.95" fill="#00008B"/>
<circle cx="123.1" cy="197.5" r="2.95" fill="#00008B"/>
<circle cx="123.1" cy="204.6" r="2.95" fill="#00008B"/>
<circle cx="87.3" cy="217.4" r="2.95" fill="#00008B"/>
<circle cx="83.2" cy="225.7" r="2.95" fill="#00008B"/>
<circle cx="90.7" cy="227.9" r="2.95" fill="#00008B"/>
<circle cx="86.5" cy="229.9" r="2.95" fill="#00008B"/>
<circle cx="88.2" cy="236.5" r="2.95" fill="#00008B"/>
<circle cx="91.5" cy="239.0" r="2.95" fill="#00008B"/>
<circle cx="101.8" cy="241.2" r="2.95" fill="#00008B"/>
<circle cx="84.8" cy="244.0" r="2.95" fill="#00008B"/>
<circle cx="84.8" cy="201.6" r="2.95" fill="#87CEEB"/>
<circle cx="95.6" cy="195.0" r="2.95" fill="#87CEEB"/>
<circle cx="102.3" cy="195.5" r="2.95" fill="#87CEEB"/>
<circle cx="116.4" cy="190.0" r="2.95" fill="#87CEEB"/>
<circle cx="106.9" cy="232.4" r="2.95" fill="#87CEEB"/>
<circle cx="65.7" cy="231.5" r="2.95" fill="#87CEEB"/>
<circle cx="73.2" cy="232.4" r="2.95" fill="#87CEEB"/>
<circle cx="78.7" cy="235.7" r="2.95" fill="#87CEEB"/>
<circle cx="77.4" cy="243.8" r="2.95" fill="#87CEEB"/>
<circle cx="84.8" cy="245.8" r="2.95" fill="#00008B"/>
<circle cx="91.1" cy="240.0" r="2.95" fill="#00008B"/>
<circle cx="101.8" cy="241.7" r="2.95" fill="#00008B"/>
<circle cx="106.4" cy="253.6" r="2.95" fill="#00008B"/>
<circle cx="116.4" cy="253.6" r="2.95" fill="#00008B"/>
<circle cx="108.1" cy="258.3" r="2.95" fill="#00008B"/>
<circle cx="98.1" cy="263.3" r="2.95" fill="#00008B"/>
<circle cx="97.6" cy="273.2" r="2.95" fill="#00008B"/>
<circle cx="97.8" cy="273.4" r="2.95" fill="#00008B"/>
<circle cx="91.5" cy="281.5" r="2.95" fill="#00008B"/>
<circle cx="111.1" cy="251.3" r="2.95" fill="#87CEEB"/>
</g>
<path d="M201.5 13.4L206.9 18.8L201.5 24.2L196.1 18.8Z" fill="#A020F0" stroke="#000" stroke-width="0.7"/>
<text x="207" y="19.6" font-size="13.1px" fill="#000">rs11695896</text>
<rect x="276.3" y="184.6" width="18.5" height="17.0" fill="#FF0000" stroke="#000" stroke-width="1.1"/>
<rect x="276.3" y="201.6" width="18.5" height="17.0" fill="#FFA500" stroke="#000" stroke-width="1.1"/>
<rect x="276.3" y="218.6" width="18.5" height="17.0" fill="#006400" stroke="#000" stroke-width="1.1"/>
<rect x="276.3" y="235.6" width="18.5" height="17.0" fill="#87CEEB" stroke="#000" stroke-width="1.1"/>
<rect x="276.3" y="252.6" width="18.5" height="17.0" fill="#00008B" stroke="#000" stroke-width="1.1"/>
<text x="299.8" y="206.3" font-size="12px" fill="#000">0.8</text>
<text x="299.8" y="223.3" font-size="12px" fill="#000">0.6</text>
<text x="299.8" y="240.3" font-size="12px" fill="#000">0.4</text>
<text x="299.8" y="257.3" font-size="12px" fill="#000">0.2</text>
<text x="290.9" y="178.2" font-size="12px" fill="#000">r<tspan font-size="9.3px" dy="-4.9" dx="0.3">2</tspan></text>
</g>
<g clip-path="url(#cr)">
<path class="ax" d="M392.8 8.5V137.1H684"/>
<path class="tc" d="M389.2 131.6H392.1"/>
<text class="tk" x="386.5" y="135.6" text-anchor="end">0</text>
<path class="tc" d="M389.2 91.9H392.1"/>
<text class="tk" x="386.5" y="95.9" text-anchor="end">5</text>
<path class="tc" d="M389.2 52.1H392.1"/>
<text class="tk" x="386.5" y="56.1" text-anchor="end">10</text>
<path class="tc" d="M389.2 12.2H392.1"/>
<text class="tk" x="386.5" y="16.2" text-anchor="end">15</text>
<path class="tc" d="M448.0 137.9V140.6"/>
<path class="tc" d="M514.4 137.9V140.6"/>
<path class="tc" d="M580.7 137.9V140.6"/>
<path class="tc" d="M647.0 137.9V140.6"/>
<path class="ax" d="M392.8 157.8V296.6H684"/>
<path class="tc" d="M389.2 290.3H392.1"/>
<text class="tk" x="386.5" y="294.3" text-anchor="end">0</text>
<path class="tc" d="M389.2 263.9H392.1"/>
<text class="tk" x="386.5" y="267.9" text-anchor="end">1</text>
<path class="tc" d="M389.2 237.5H392.1"/>
<text class="tk" x="386.5" y="241.5" text-anchor="end">2</text>
<path class="tc" d="M389.2 211.1H392.1"/>
<text class="tk" x="386.5" y="215.1" text-anchor="end">3</text>
<path class="tc" d="M389.2 184.7H392.1"/>
<text class="tk" x="386.5" y="188.7" text-anchor="end">4</text>
<path class="tc" d="M389.2 158.3H392.1"/>
<text class="tk" x="386.5" y="162.3" text-anchor="end">5</text>
<path class="tc" d="M448.0 297.4V300.1"/>
<text class="tk" x="448.0" y="310.4" text-anchor="middle">74.0</text>
<path class="tc" d="M514.4 297.4V300.1"/>
<text class="tk" x="514.4" y="310.4" text-anchor="middle">74.5</text>
<path class="tc" d="M580.7 297.4V300.1"/>
<text class="tk" x="580.7" y="310.4" text-anchor="middle">75.0</text>
<path class="tc" d="M647.0 297.4V300.1"/>
<text class="tk" x="647.0" y="310.4" text-anchor="middle">75.5</text>
<text class="tt" x="538.8" y="324.9" text-anchor="middle">chr2 (Mb)</text>
<g clip-path="url(#ct)"><g class="tt" transform="translate(366.3,44.0) rotate(-90)"><text x="0" y="0" text-anchor="end" letter-spacing="-0.42">ENSG00000115274</text><text x="3.1" y="0">−</text><text x="13.3" y="0">log</text><text x="30.5" y="2.4" font-size="10px">10</text><text x="40.65" y="0">(P)</text></g></g>
<g class="tt" transform="translate(366.3,142.8) rotate(-90)"><text x="0" y="0" text-anchor="end" letter-spacing="-0.43">finngen_R11_N14_PROSTHYPERPLA</text><text x="3.1" y="0">−</text><text x="13.3" y="0">log</text><text x="30.5" y="2.4" font-size="10px">10</text><text x="40.65" y="0">(P)</text></g>
<g class="pt bl">
<circle cx="564.3" cy="129.2" r="2.95"/>
<circle cx="663.4" cy="131.4" r="2.95"/>
<circle cx="561.8" cy="114.5" r="2.95"/>
<circle cx="666.8" cy="127.6" r="2.95"/>
<circle cx="506.6" cy="125.2" r="2.95"/>
<circle cx="639.6" cy="130.8" r="2.95"/>
<circle cx="527.3" cy="131.2" r="2.95"/>
<circle cx="424.1" cy="123.7" r="2.95"/>
<circle cx="483.7" cy="118.3" r="2.95"/>
<circle cx="622.0" cy="125.2" r="2.95"/>
<circle cx="481.3" cy="118.1" r="2.95"/>
<circle cx="531.3" cy="125.1" r="2.95"/>
<circle cx="452.0" cy="121.8" r="2.95"/>
<circle cx="488.1" cy="126.9" r="2.95"/>
<circle cx="621.7" cy="116.3" r="2.95"/>
<circle cx="578.8" cy="129.3" r="2.95"/>
<circle cx="656.8" cy="128.2" r="2.95"/>
<circle cx="664.0" cy="129.4" r="2.95"/>
<circle cx="668.6" cy="123.3" r="2.95"/>
<circle cx="584.9" cy="122.7" r="2.95"/>
<circle cx="537.6" cy="128.1" r="2.95"/>
<circle cx="427.2" cy="130.7" r="2.95"/>
<circle cx="455.1" cy="119.3" r="2.95"/>
<circle cx="631.2" cy="122.8" r="2.95"/>
<circle cx="590.5" cy="117.3" r="2.95"/>
<circle cx="465.6" cy="120.3" r="2.95"/>
<circle cx="544.6" cy="130.4" r="2.95"/>
<circle cx="606.4" cy="118.8" r="2.95"/>
<circle cx="506.9" cy="114.2" r="2.95"/>
<circle cx="596.7" cy="120.6" r="2.95"/>
<circle cx="469.2" cy="127.8" r="2.95"/>
<circle cx="440.9" cy="125.6" r="2.95"/>
<circle cx="616.8" cy="111.2" r="2.95"/>
<circle cx="544.7" cy="118.1" r="2.95"/>
<circle cx="578.7" cy="117.2" r="2.95"/>
<circle cx="418.2" cy="130.2" r="2.95"/>
<circle cx="542.1" cy="123.7" r="2.95"/>
<circle cx="507.0" cy="127.0" r="2.95"/>
<circle cx="661.0" cy="124.6" r="2.95"/>
<circle cx="606.5" cy="122.6" r="2.95"/>
<circle cx="618.1" cy="121.7" r="2.95"/>
<circle cx="473.0" cy="116.0" r="2.95"/>
<circle cx="535.2" cy="129.2" r="2.95"/>
<circle cx="558.5" cy="121.7" r="2.95"/>
<circle cx="428.6" cy="127.3" r="2.95"/>
<circle cx="566.5" cy="117.1" r="2.95"/>
<circle cx="544.2" cy="123.7" r="2.95"/>
<circle cx="501.9" cy="120.9" r="2.95"/>
<circle cx="577.9" cy="126.9" r="2.95"/>
<circle cx="500.6" cy="123.6" r="2.95"/>
<circle cx="619.2" cy="131.4" r="2.95"/>
<circle cx="507.2" cy="121.5" r="2.95"/>
<circle cx="586.7" cy="118.5" r="2.95"/>
<circle cx="651.8" cy="121.8" r="2.95"/>
<circle cx="604.5" cy="127.6" r="2.95"/>
<circle cx="490.3" cy="120.6" r="2.95"/>
<circle cx="550.8" cy="130.3" r="2.95"/>
<circle cx="627.4" cy="128.1" r="2.95"/>
<circle cx="491.9" cy="115.3" r="2.95"/>
<circle cx="591.3" cy="122.4" r="2.95"/>
<circle cx="543.1" cy="130.9" r="2.95"/>
<circle cx="535.0" cy="127.5" r="2.95"/>
<circle cx="581.4" cy="131.6" r="2.95"/>
<circle cx="655.1" cy="122.0" r="2.95"/>
<circle cx="560.5" cy="131.4" r="2.95"/>
<circle cx="543.4" cy="121.0" r="2.95"/>
<circle cx="423.5" cy="128.6" r="2.95"/>
<circle cx="414.6" cy="130.4" r="2.95"/>
<circle cx="543.5" cy="129.9" r="2.95"/>
<circle cx="496.3" cy="123.5" r="2.95"/>
<circle cx="530.7" cy="127.5" r="2.95"/>
<circle cx="650.8" cy="121.1" r="2.95"/>
<circle cx="529.4" cy="118.3" r="2.95"/>
<circle cx="492.5" cy="120.9" r="2.95"/>
<circle cx="452.9" cy="129.0" r="2.95"/>
<circle cx="564.7" cy="124.8" r="2.95"/>
<circle cx="597.8" cy="131.6" r="2.95"/>
<circle cx="527.1" cy="126.7" r="2.95"/>
<circle cx="466.9" cy="120.5" r="2.95"/>
<circle cx="511.7" cy="131.2" r="2.95"/>
<circle cx="516.1" cy="131.5" r="2.95"/>
<circle cx="595.0" cy="131.6" r="2.95"/>
<circle cx="657.0" cy="128.9" r="2.95"/>
<circle cx="503.2" cy="130.1" r="2.95"/>
<circle cx="548.8" cy="131.3" r="2.95"/>
<circle cx="544.0" cy="120.5" r="2.95"/>
<circle cx="589.7" cy="129.3" r="2.95"/>
<circle cx="642.3" cy="131.3" r="2.95"/>
<circle cx="545.1" cy="122.2" r="2.95"/>
<circle cx="634.2" cy="131.3" r="2.95"/>
<circle cx="654.0" cy="128.2" r="2.95"/>
<circle cx="519.8" cy="131.1" r="2.95"/>
<circle cx="632.0" cy="122.7" r="2.95"/>
<circle cx="502.4" cy="123.0" r="2.95"/>
<circle cx="549.7" cy="131.2" r="2.95"/>
<circle cx="632.1" cy="128.2" r="2.95"/>
<circle cx="405.9" cy="128.3" r="2.95"/>
<circle cx="508.8" cy="117.7" r="2.95"/>
<circle cx="671.5" cy="123.6" r="2.95"/>
<circle cx="446.5" cy="131.4" r="2.95"/>
<circle cx="477.2" cy="119.2" r="2.95"/>
<circle cx="605.1" cy="119.7" r="2.95"/>
<circle cx="600.4" cy="119.4" r="2.95"/>
<circle cx="499.4" cy="130.8" r="2.95"/>
<circle cx="589.8" cy="131.6" r="2.95"/>
<circle cx="508.7" cy="124.8" r="2.95"/>
<circle cx="503.1" cy="122.8" r="2.95"/>
<circle cx="659.3" cy="120.3" r="2.95"/>
<circle cx="612.0" cy="130.0" r="2.95"/>
<circle cx="478.9" cy="119.6" r="2.95"/>
<circle cx="460.9" cy="130.0" r="2.95"/>
<circle cx="487.6" cy="129.2" r="2.95"/>
<circle cx="459.2" cy="126.0" r="2.95"/>
<circle cx="668.6" cy="127.1" r="2.95"/>
<circle cx="658.9" cy="130.7" r="2.95"/>
<circle cx="627.3" cy="131.5" r="2.95"/>
<circle cx="624.4" cy="126.6" r="2.95"/>
<circle cx="445.1" cy="131.4" r="2.95"/>
<circle cx="509.9" cy="129.8" r="2.95"/>
<circle cx="442.6" cy="130.7" r="2.95"/>
<circle cx="622.0" cy="131.3" r="2.95"/>
<circle cx="526.3" cy="131.3" r="2.95"/>
<circle cx="412.2" cy="122.7" r="2.95"/>
<circle cx="589.9" cy="124.0" r="2.95"/>
<circle cx="555.2" cy="124.2" r="2.95"/>
<circle cx="422.0" cy="128.0" r="2.95"/>
<circle cx="638.8" cy="111.6" r="2.95"/>
<circle cx="628.9" cy="120.0" r="2.95"/>
<circle cx="627.3" cy="129.1" r="2.95"/>
<circle cx="490.7" cy="129.1" r="2.95"/>
<circle cx="491.6" cy="118.9" r="2.95"/>
<circle cx="425.5" cy="120.8" r="2.95"/>
<circle cx="514.5" cy="116.1" r="2.95"/>
<circle cx="535.2" cy="124.3" r="2.95"/>
<circle cx="612.7" cy="120.2" r="2.95"/>
<circle cx="454.6" cy="115.4" r="2.95"/>
<circle cx="520.0" cy="116.2" r="2.95"/>
<circle cx="587.3" cy="131.3" r="2.95"/>
<circle cx="528.8" cy="125.7" r="2.95"/>
<circle cx="509.2" cy="131.5" r="2.95"/>
<circle cx="577.5" cy="128.6" r="2.95"/>
<circle cx="521.9" cy="117.1" r="2.95"/>
<circle cx="458.9" cy="127.8" r="2.95"/>
<circle cx="480.2" cy="120.2" r="2.95"/>
<circle cx="628.8" cy="125.0" r="2.95"/>
<circle cx="617.3" cy="124.8" r="2.95"/>
<circle cx="595.3" cy="125.1" r="2.95"/>
<circle cx="444.3" cy="118.7" r="2.95"/>
<circle cx="445.3" cy="122.8" r="2.95"/>
<circle cx="656.6" cy="129.4" r="2.95"/>
<circle cx="544.8" cy="121.7" r="2.95"/>
<circle cx="500.8" cy="124.6" r="2.95"/>
<circle cx="410.0" cy="120.0" r="2.95"/>
<circle cx="565.7" cy="123.6" r="2.95"/>
<circle cx="578.1" cy="121.8" r="2.95"/>
<circle cx="575.5" cy="131.2" r="2.95"/>
<circle cx="472.1" cy="121.3" r="2.95"/>
<circle cx="645.1" cy="120.1" r="2.95"/>
<circle cx="625.4" cy="131.5" r="2.95"/>
<circle cx="668.4" cy="131.3" r="2.95"/>
<circle cx="418.6" cy="122.2" r="2.95"/>
<circle cx="653.5" cy="124.6" r="2.95"/>
<circle cx="598.3" cy="117.7" r="2.95"/>
<circle cx="476.4" cy="128.5" r="2.95"/>
<circle cx="425.9" cy="127.5" r="2.95"/>
<circle cx="567.3" cy="120.7" r="2.95"/>
<circle cx="662.8" cy="119.6" r="2.95"/>
<circle cx="664.1" cy="123.0" r="2.95"/>
<circle cx="417.9" cy="125.9" r="2.95"/>
<circle cx="459.4" cy="118.8" r="2.95"/>
<circle cx="435.9" cy="125.4" r="2.95"/>
<circle cx="519.3" cy="121.6" r="2.95"/>
<circle cx="670.9" cy="118.6" r="2.95"/>
<circle cx="423.0" cy="126.4" r="2.95"/>
<circle cx="408.1" cy="129.5" r="2.95"/>
<circle cx="450.5" cy="126.5" r="2.95"/>
<circle cx="638.0" cy="125.0" r="2.95"/>
<circle cx="612.7" cy="126.3" r="2.95"/>
<circle cx="523.4" cy="126.8" r="2.95"/>
<circle cx="623.7" cy="125.1" r="2.95"/>
<circle cx="641.1" cy="124.0" r="2.95"/>
<circle cx="540.2" cy="126.8" r="2.95"/>
<circle cx="510.8" cy="131.1" r="2.95"/>
<circle cx="434.2" cy="131.6" r="2.95"/>
<circle cx="540.4" cy="125.2" r="2.95"/>
<circle cx="567.7" cy="120.6" r="2.95"/>
<circle cx="601.4" cy="123.2" r="2.95"/>
<circle cx="502.4" cy="110.3" r="2.95"/>
<circle cx="557.6" cy="131.2" r="2.95"/>
<circle cx="649.8" cy="130.5" r="2.95"/>
<circle cx="405.8" cy="113.2" r="2.95"/>
<circle cx="458.8" cy="118.1" r="2.95"/>
<circle cx="503.8" cy="129.6" r="2.95"/>
<circle cx="429.5" cy="123.1" r="2.95"/>
<circle cx="619.7" cy="123.5" r="2.95"/>
<circle cx="607.5" cy="127.5" r="2.95"/>
<circle cx="422.9" cy="120.8" r="2.95"/>
<circle cx="475.2" cy="112.7" r="2.95"/>
<circle cx="505.0" cy="120.2" r="2.95"/>
<circle cx="457.6" cy="120.1" r="2.95"/>
<circle cx="647.5" cy="128.5" r="2.95"/>
<circle cx="493.4" cy="131.4" r="2.95"/>
<circle cx="431.7" cy="126.6" r="2.95"/>
<circle cx="664.7" cy="125.7" r="2.95"/>
<circle cx="474.2" cy="124.4" r="2.95"/>
<circle cx="483.9" cy="118.2" r="2.95"/>
<circle cx="648.9" cy="124.6" r="2.95"/>
<circle cx="564.5" cy="126.9" r="2.95"/>
<circle cx="621.1" cy="121.4" r="2.95"/>
<circle cx="630.3" cy="125.7" r="2.95"/>
<circle cx="618.8" cy="131.4" r="2.95"/>
<circle cx="610.3" cy="126.1" r="2.95"/>
<circle cx="553.3" cy="125.2" r="2.95"/>
<circle cx="557.2" cy="123.8" r="2.95"/>
<circle cx="538.3" cy="115.8" r="2.95"/>
<circle cx="604.9" cy="117.2" r="2.95"/>
<circle cx="422.7" cy="116.2" r="2.95"/>
<circle cx="541.1" cy="128.6" r="2.95"/>
<circle cx="467.7" cy="128.6" r="2.95"/>
<circle cx="671.4" cy="127.6" r="2.95"/>
<circle cx="561.7" cy="126.9" r="2.95"/>
<circle cx="608.5" cy="123.0" r="2.95"/>
<circle cx="476.7" cy="122.9" r="2.95"/>
<circle cx="480.7" cy="131.3" r="2.95"/>
<circle cx="553.7" cy="123.4" r="2.95"/>
<circle cx="627.9" cy="121.2" r="2.95"/>
<circle cx="582.2" cy="131.5" r="2.95"/>
<circle cx="649.7" cy="124.6" r="2.95"/>
<circle cx="440.2" cy="128.0" r="2.95"/>
<circle cx="477.3" cy="119.6" r="2.95"/>
<circle cx="491.7" cy="122.5" r="2.95"/>
<circle cx="484.2" cy="118.6" r="2.95"/>
<circle cx="620.9" cy="131.2" r="2.95"/>
<circle cx="471.3" cy="111.3" r="2.95"/>
<circle cx="624.1" cy="126.9" r="2.95"/>
<circle cx="558.1" cy="123.2" r="2.95"/>
<circle cx="536.3" cy="119.8" r="2.95"/>
<circle cx="507.6" cy="118.8" r="2.95"/>
<circle cx="469.3" cy="124.4" r="2.95"/>
<circle cx="421.5" cy="129.5" r="2.95"/>
<circle cx="615.9" cy="129.9" r="2.95"/>
<circle cx="519.3" cy="131.1" r="2.95"/>
<circle cx="478.0" cy="131.1" r="2.95"/>
<circle cx="507.1" cy="122.5" r="2.95"/>
<circle cx="572.1" cy="126.8" r="2.95"/>
<circle cx="567.1" cy="123.6" r="2.95"/>
<circle cx="503.4" cy="121.4" r="2.95"/>
<circle cx="504.3" cy="113.9" r="2.95"/>
<circle cx="570.5" cy="127.2" r="2.95"/>
<circle cx="550.8" cy="121.6" r="2.95"/>
<circle cx="538.3" cy="131.6" r="2.95"/>
<circle cx="629.2" cy="131.5" r="2.95"/>
<circle cx="559.3" cy="131.1" r="2.95"/>
<circle cx="646.0" cy="127.3" r="2.95"/>
<circle cx="573.4" cy="122.7" r="2.95"/>
<circle cx="660.6" cy="131.3" r="2.95"/>
<circle cx="556.0" cy="129.4" r="2.95"/>
<circle cx="640.1" cy="125.5" r="2.95"/>
<circle cx="521.8" cy="125.0" r="2.95"/>
<circle cx="572.4" cy="121.6" r="2.95"/>
<circle cx="618.9" cy="118.9" r="2.95"/>
<circle cx="564.8" cy="128.1" r="2.95"/>
<circle cx="511.1" cy="120.3" r="2.95"/>
<circle cx="665.1" cy="131.6" r="2.95"/>
<circle cx="588.0" cy="127.6" r="2.95"/>
<circle cx="484.3" cy="127.0" r="2.95"/>
<circle cx="592.0" cy="121.9" r="2.95"/>
<circle cx="542.6" cy="118.7" r="2.95"/>
<circle cx="584.6" cy="121.3" r="2.95"/>
<circle cx="473.9" cy="125.4" r="2.95"/>
<circle cx="545.8" cy="111.2" r="2.95"/>
<circle cx="525.0" cy="131.0" r="2.95"/>
<circle cx="569.4" cy="128.7" r="2.95"/>
<circle cx="485.5" cy="125.9" r="2.95"/>
<circle cx="478.4" cy="115.3" r="2.95"/>
<circle cx="480.1" cy="121.2" r="2.95"/>
<circle cx="486.5" cy="128.2" r="2.95"/>
<circle cx="627.5" cy="120.7" r="2.95"/>
<circle cx="483.1" cy="130.0" r="2.95"/>
<circle cx="485.3" cy="124.1" r="2.95"/>
<circle cx="412.6" cy="121.8" r="2.95"/>
<circle cx="567.8" cy="123.2" r="2.95"/>
<circle cx="487.3" cy="129.8" r="2.95"/>
<circle cx="650.6" cy="131.0" r="2.95"/>
<circle cx="551.0" cy="122.0" r="2.95"/>
<circle cx="461.3" cy="131.2" r="2.95"/>
<circle cx="526.3" cy="121.9" r="2.95"/>
<circle cx="435.0" cy="125.6" r="2.95"/>
<circle cx="472.4" cy="126.9" r="2.95"/>
<circle cx="624.3" cy="127.7" r="2.95"/>
<circle cx="564.9" cy="122.6" r="2.95"/>
<circle cx="556.7" cy="117.7" r="2.95"/>
<circle cx="444.2" cy="121.2" r="2.95"/>
<circle cx="525.2" cy="118.4" r="2.95"/>
<circle cx="467.9" cy="115.7" r="2.95"/>
<circle cx="450.4" cy="126.9" r="2.95"/>
<circle cx="578.4" cy="121.1" r="2.95"/>
<circle cx="650.5" cy="131.2" r="2.95"/>
<circle cx="654.6" cy="126.0" r="2.95"/>
<circle cx="406.2" cy="121.7" r="2.95"/>
<circle cx="488.5" cy="131.4" r="2.95"/>
<circle cx="406.0" cy="129.4" r="2.95"/>
<circle cx="406.0" cy="131.6" r="2.95"/>
<circle cx="511.2" cy="127.1" r="2.95"/>
<circle cx="465.6" cy="131.4" r="2.95"/>
<circle cx="570.1" cy="120.7" r="2.95"/>
<circle cx="454.2" cy="131.3" r="2.95"/>
<circle cx="574.1" cy="119.5" r="2.95"/>
<circle cx="412.6" cy="125.5" r="2.95"/>
<circle cx="541.6" cy="122.4" r="2.95"/>
<circle cx="604.7" cy="122.8" r="2.95"/>
<circle cx="460.9" cy="123.5" r="2.95"/>
<circle cx="514.7" cy="123.4" r="2.95"/>
<circle cx="414.4" cy="126.6" r="2.95"/>
<circle cx="550.3" cy="121.8" r="2.95"/>
<circle cx="609.5" cy="120.2" r="2.95"/>
<circle cx="518.1" cy="131.5" r="2.95"/>
<circle cx="406.1" cy="125.0" r="2.95"/>
<circle cx="553.3" cy="118.0" r="2.95"/>
<circle cx="412.1" cy="126.5" r="2.95"/>
<circle cx="469.8" cy="115.0" r="2.95"/>
<circle cx="475.3" cy="128.7" r="2.95"/>
<circle cx="517.5" cy="129.6" r="2.95"/>
<circle cx="480.1" cy="118.2" r="2.95"/>
<circle cx="634.7" cy="128.3" r="2.95"/>
<circle cx="495.7" cy="120.5" r="2.95"/>
<circle cx="459.3" cy="131.4" r="2.95"/>
<circle cx="499.2" cy="118.5" r="2.95"/>
<circle cx="562.4" cy="131.2" r="2.95"/>
<circle cx="609.4" cy="131.6" r="2.95"/>
<circle cx="466.6" cy="131.3" r="2.95"/>
<circle cx="604.5" cy="115.9" r="2.95"/>
<circle cx="437.8" cy="131.6" r="2.95"/>
<circle cx="478.7" cy="127.6" r="2.95"/>
<circle cx="630.5" cy="125.6" r="2.95"/>
<circle cx="579.9" cy="126.1" r="2.95"/>
<circle cx="465.8" cy="123.6" r="2.95"/>
<circle cx="570.6" cy="123.2" r="2.95"/>
<circle cx="662.6" cy="123.9" r="2.95"/>
<circle cx="475.6" cy="123.4" r="2.95"/>
<circle cx="606.1" cy="121.4" r="2.95"/>
<circle cx="506.1" cy="121.3" r="2.95"/>
<circle cx="406.0" cy="120.6" r="2.95"/>
<circle cx="483.0" cy="119.8" r="2.95"/>
<circle cx="408.9" cy="131.1" r="2.95"/>
<circle cx="636.6" cy="131.5" r="2.95"/>
<circle cx="529.2" cy="131.2" r="2.95"/>
<circle cx="640.7" cy="128.9" r="2.95"/>
<circle cx="544.2" cy="127.5" r="2.95"/>
<circle cx="658.3" cy="130.0" r="2.95"/>
<circle cx="474.2" cy="128.3" r="2.95"/>
<circle cx="506.1" cy="128.4" r="2.95"/>
<circle cx="554.6" cy="131.3" r="2.95"/>
<circle cx="630.1" cy="131.6" r="2.95"/>
<circle cx="574.8" cy="125.9" r="2.95"/>
<circle cx="522.8" cy="123.4" r="2.95"/>
<circle cx="541.0" cy="126.9" r="2.95"/>
<circle cx="569.5" cy="131.2" r="2.95"/>
<circle cx="516.4" cy="128.4" r="2.95"/>
<circle cx="659.6" cy="128.6" r="2.95"/>
<circle cx="626.5" cy="128.1" r="2.95"/>
<circle cx="602.5" cy="122.5" r="2.95"/>
<circle cx="583.9" cy="118.7" r="2.95"/>
<circle cx="653.4" cy="130.7" r="2.95"/>
<circle cx="668.8" cy="129.6" r="2.95"/>
<circle cx="491.8" cy="122.3" r="2.95"/>
<circle cx="494.9" cy="131.4" r="2.95"/>
<circle cx="601.0" cy="121.5" r="2.95"/>
<circle cx="669.8" cy="124.0" r="2.95"/>
<circle cx="561.4" cy="121.0" r="2.95"/>
<circle cx="547.0" cy="112.3" r="2.95"/>
<circle cx="476.9" cy="131.2" r="2.95"/>
<circle cx="409.3" cy="125.1" r="2.95"/>
<circle cx="644.3" cy="131.5" r="2.95"/>
<circle cx="554.2" cy="131.2" r="2.95"/>
<circle cx="483.6" cy="131.5" r="2.95"/>
<circle cx="635.1" cy="129.3" r="2.95"/>
<circle cx="419.8" cy="120.8" r="2.95"/>
<circle cx="502.9" cy="128.3" r="2.95"/>
<circle cx="405.9" cy="118.4" r="2.95"/>
<circle cx="536.6" cy="121.0" r="2.95"/>
<circle cx="527.9" cy="129.4" r="2.95"/>
<circle cx="611.5" cy="127.3" r="2.95"/>
<circle cx="526.7" cy="129.0" r="2.95"/>
<circle cx="436.7" cy="131.1" r="2.95"/>
<circle cx="441.6" cy="130.9" r="2.95"/>
<circle cx="414.0" cy="131.2" r="2.95"/>
<circle cx="456.0" cy="127.6" r="2.95"/>
<circle cx="574.3" cy="121.7" r="2.95"/>
<circle cx="616.2" cy="127.3" r="2.95"/>
<circle cx="515.6" cy="123.5" r="2.95"/>
<circle cx="541.1" cy="130.2" r="2.95"/>
<circle cx="566.6" cy="117.6" r="2.95"/>
<circle cx="589.5" cy="123.0" r="2.95"/>
<circle cx="418.6" cy="121.1" r="2.95"/>
<circle cx="538.6" cy="124.2" r="2.95"/>
<circle cx="513.6" cy="131.2" r="2.95"/>
<circle cx="657.6" cy="131.1" r="2.95"/>
<circle cx="659.3" cy="131.4" r="2.95"/>
<circle cx="561.5" cy="119.1" r="2.95"/>
<circle cx="485.2" cy="130.2" r="2.95"/>
<circle cx="525.8" cy="124.7" r="2.95"/>
<circle cx="627.8" cy="119.0" r="2.95"/>
<circle cx="626.7" cy="123.9" r="2.95"/>
<circle cx="588.7" cy="127.8" r="2.95"/>
<circle cx="452.9" cy="121.9" r="2.95"/>
<circle cx="610.5" cy="126.9" r="2.95"/>
<circle cx="495.0" cy="131.5" r="2.95"/>
<circle cx="632.6" cy="116.5" r="2.95"/>
<circle cx="462.4" cy="129.6" r="2.95"/>
<circle cx="509.2" cy="127.6" r="2.95"/>
<circle cx="620.9" cy="124.1" r="2.95"/>
<circle cx="579.5" cy="130.2" r="2.95"/>
<circle cx="537.9" cy="123.4" r="2.95"/>
<circle cx="550.5" cy="131.2" r="2.95"/>
<circle cx="457.6" cy="120.7" r="2.95"/>
<circle cx="433.1" cy="130.4" r="2.95"/>
<circle cx="442.9" cy="125.2" r="2.95"/>
<circle cx="430.1" cy="126.3" r="2.95"/>
<circle cx="643.4" cy="126.4" r="2.95"/>
<circle cx="533.7" cy="124.3" r="2.95"/>
<circle cx="522.2" cy="118.1" r="2.95"/>
<circle cx="671.4" cy="126.6" r="2.95"/>
<circle cx="546.1" cy="131.3" r="2.95"/>
<circle cx="592.0" cy="116.8" r="2.95"/>
<circle cx="650.8" cy="119.6" r="2.95"/>
<circle cx="590.8" cy="128.0" r="2.95"/>
<circle cx="461.4" cy="130.8" r="2.95"/>
<circle cx="415.4" cy="118.8" r="2.95"/>
<circle cx="429.1" cy="127.5" r="2.95"/>
<circle cx="630.6" cy="122.0" r="2.95"/>
<circle cx="647.0" cy="120.7" r="2.95"/>
<circle cx="637.8" cy="128.7" r="2.95"/>
<circle cx="510.6" cy="129.1" r="2.95"/>
<circle cx="551.2" cy="129.5" r="2.95"/>
<circle cx="628.5" cy="118.8" r="2.95"/>
<circle cx="576.1" cy="124.6" r="2.95"/>
<circle cx="521.1" cy="129.3" r="2.95"/>
<circle cx="612.7" cy="120.5" r="2.95"/>
<circle cx="606.7" cy="121.6" r="2.95"/>
<circle cx="671.5" cy="125.6" r="2.95"/>
<circle cx="506.4" cy="131.4" r="2.95"/>
<circle cx="546.1" cy="122.7" r="2.95"/>
<circle cx="586.5" cy="131.4" r="2.95"/>
<circle cx="646.6" cy="119.7" r="2.95"/>
<circle cx="425.9" cy="129.1" r="2.95"/>
<circle cx="463.2" cy="131.4" r="2.95"/>
<circle cx="541.7" cy="121.1" r="2.95"/>
<circle cx="621.9" cy="121.9" r="2.95"/>
<circle cx="523.1" cy="131.2" r="2.95"/>
<circle cx="472.3" cy="121.3" r="2.95"/>
<circle cx="475.5" cy="115.8" r="2.95"/>
<circle cx="637.5" cy="126.0" r="2.95"/>
<circle cx="500.7" cy="120.8" r="2.95"/>
<circle cx="525.4" cy="124.5" r="2.95"/>
<circle cx="543.7" cy="124.5" r="2.95"/>
<circle cx="457.9" cy="119.4" r="2.95"/>
<circle cx="638.1" cy="129.8" r="2.95"/>
<circle cx="555.9" cy="121.7" r="2.95"/>
<circle cx="613.7" cy="130.8" r="2.95"/>
<circle cx="444.1" cy="131.5" r="2.95"/>
<circle cx="455.0" cy="125.3" r="2.95"/>
<circle cx="601.5" cy="123.7" r="2.95"/>
<circle cx="557.6" cy="131.3" r="2.95"/>
<circle cx="543.8" cy="124.0" r="2.95"/>
<circle cx="562.9" cy="124.5" r="2.95"/>
<circle cx="618.6" cy="118.3" r="2.95"/>
<circle cx="629.1" cy="129.7" r="2.95"/>
<circle cx="571.3" cy="128.9" r="2.95"/>
<circle cx="572.8" cy="124.0" r="2.95"/>
<circle cx="496.6" cy="131.3" r="2.95"/>
<circle cx="434.8" cy="119.7" r="2.95"/>
<circle cx="487.1" cy="129.6" r="2.95"/>
<circle cx="643.7" cy="110.3" r="2.95"/>
<circle cx="484.8" cy="116.9" r="2.95"/>
<circle cx="485.4" cy="128.8" r="2.95"/>
<circle cx="436.5" cy="123.6" r="2.95"/>
<circle cx="507.9" cy="131.5" r="2.95"/>
<circle cx="412.7" cy="131.5" r="2.95"/>
<circle cx="547.8" cy="131.4" r="2.95"/>
<circle cx="442.6" cy="129.3" r="2.95"/>
<circle cx="411.3" cy="127.7" r="2.95"/>
<circle cx="430.4" cy="131.1" r="2.95"/>
<circle cx="644.2" cy="126.8" r="2.95"/>
<circle cx="452.9" cy="131.2" r="2.95"/>
<circle cx="485.7" cy="121.4" r="2.95"/>
<circle cx="417.0" cy="126.4" r="2.95"/>
<circle cx="579.4" cy="129.9" r="2.95"/>
<circle cx="586.5" cy="121.3" r="2.95"/>
<circle cx="429.9" cy="128.6" r="2.95"/>
<circle cx="620.8" cy="123.1" r="2.95"/>
<circle cx="433.4" cy="118.9" r="2.95"/>
<circle cx="514.2" cy="122.4" r="2.95"/>
<circle cx="518.1" cy="126.3" r="2.95"/>
<circle cx="449.4" cy="129.2" r="2.95"/>
<circle cx="535.7" cy="114.0" r="2.95"/>
<circle cx="475.1" cy="131.3" r="2.95"/>
<circle cx="523.2" cy="130.1" r="2.95"/>
<circle cx="427.4" cy="126.2" r="2.95"/>
<circle cx="603.0" cy="123.7" r="2.95"/>
<circle cx="612.1" cy="117.8" r="2.95"/>
<circle cx="438.8" cy="131.2" r="2.95"/>
<circle cx="591.3" cy="131.3" r="2.95"/>
<circle cx="671.2" cy="129.6" r="2.95"/>
<circle cx="545.8" cy="123.1" r="2.95"/>
<circle cx="472.4" cy="128.1" r="2.95"/>
<circle cx="445.0" cy="125.0" r="2.95"/>
<circle cx="573.5" cy="120.3" r="2.95"/>
<circle cx="621.0" cy="127.9" r="2.95"/>
<circle cx="553.1" cy="129.0" r="2.95"/>
<circle cx="548.7" cy="125.6" r="2.95"/>
<circle cx="663.8" cy="123.9" r="2.95"/>
<circle cx="554.9" cy="123.3" r="2.95"/>
<circle cx="588.1" cy="127.1" r="2.95"/>
<circle cx="466.1" cy="123.6" r="2.95"/>
<circle cx="514.8" cy="131.5" r="2.95"/>
<circle cx="492.1" cy="129.1" r="2.95"/>
<circle cx="498.9" cy="131.6" r="2.95"/>
<circle cx="555.6" cy="123.6" r="2.95"/>
<circle cx="598.8" cy="121.1" r="2.95"/>
<circle cx="623.6" cy="131.4" r="2.95"/>
<circle cx="472.0" cy="126.9" r="2.95"/>
<circle cx="641.6" cy="129.3" r="2.95"/>
<circle cx="671.0" cy="119.6" r="2.95"/>
<circle cx="515.8" cy="118.3" r="2.95"/>
<circle cx="460.5" cy="114.8" r="2.95"/>
<circle cx="642.4" cy="125.1" r="2.95"/>
<circle cx="531.2" cy="126.8" r="2.95"/>
<circle cx="485.4" cy="124.2" r="2.95"/>
<circle cx="415.5" cy="119.6" r="2.95"/>
<circle cx="634.0" cy="130.6" r="2.95"/>
<circle cx="580.9" cy="131.5" r="2.95"/>
<circle cx="574.4" cy="131.3" r="2.95"/>
<circle cx="558.3" cy="119.5" r="2.95"/>
<circle cx="504.5" cy="127.9" r="2.95"/>
<circle cx="612.2" cy="130.6" r="2.95"/>
<circle cx="523.4" cy="122.6" r="2.95"/>
<circle cx="443.5" cy="125.5" r="2.95"/>
<circle cx="473.6" cy="126.0" r="2.95"/>
<circle cx="457.2" cy="125.7" r="2.95"/>
<circle cx="606.3" cy="131.5" r="2.95"/>
<circle cx="671.1" cy="130.6" r="2.95"/>
<circle cx="640.8" cy="131.2" r="2.95"/>
<circle cx="477.9" cy="130.7" r="2.95"/>
<circle cx="552.3" cy="131.3" r="2.95"/>
<circle cx="454.4" cy="127.6" r="2.95"/>
<circle cx="442.3" cy="126.6" r="2.95"/>
<circle cx="555.7" cy="127.6" r="2.95"/>
<circle cx="662.1" cy="131.1" r="2.95"/>
<circle cx="476.8" cy="126.4" r="2.95"/>
<circle cx="629.9" cy="130.8" r="2.95"/>
<circle cx="552.1" cy="120.7" r="2.95"/>
<circle cx="511.5" cy="126.4" r="2.95"/>
<circle cx="648.8" cy="125.9" r="2.95"/>
<circle cx="517.4" cy="128.3" r="2.95"/>
<circle cx="510.1" cy="120.6" r="2.95"/>
<circle cx="589.7" cy="119.8" r="2.95"/>
<circle cx="482.1" cy="127.8" r="2.95"/>
<circle cx="406.3" cy="122.8" r="2.95"/>
<circle cx="617.6" cy="119.9" r="2.95"/>
<circle cx="652.7" cy="127.6" r="2.95"/>
<circle cx="496.9" cy="128.7" r="2.95"/>
<circle cx="599.7" cy="119.0" r="2.95"/>
<circle cx="516.6" cy="127.0" r="2.95"/>
<circle cx="510.4" cy="123.7" r="2.95"/>
<circle cx="411.5" cy="131.2" r="2.95"/>
<circle cx="575.1" cy="121.0" r="2.95"/>
<circle cx="498.6" cy="126.7" r="2.95"/>
<circle cx="610.6" cy="116.7" r="2.95"/>
<circle cx="656.6" cy="131.3" r="2.95"/>
<circle cx="458.3" cy="124.9" r="2.95"/>
<circle cx="623.7" cy="118.1" r="2.95"/>
<circle cx="531.5" cy="131.1" r="2.95"/>
<circle cx="624.9" cy="125.8" r="2.95"/>
<circle cx="408.3" cy="117.4" r="2.95"/>
<circle cx="412.5" cy="129.1" r="2.95"/>
<circle cx="533.6" cy="131.2" r="2.95"/>
<circle cx="565.2" cy="127.9" r="2.95"/>
<circle cx="417.4" cy="131.1" r="2.95"/>
<circle cx="467.2" cy="120.0" r="2.95"/>
<circle cx="562.9" cy="126.2" r="2.95"/>
<circle cx="612.0" cy="121.1" r="2.95"/>
<circle cx="484.3" cy="123.7" r="2.95"/>
<circle cx="667.4" cy="131.4" r="2.95"/>
<circle cx="587.2" cy="125.6" r="2.95"/>
<circle cx="495.8" cy="131.3" r="2.95"/>
<circle cx="443.1" cy="128.8" r="2.95"/>
<circle cx="521.8" cy="131.2" r="2.95"/>
<circle cx="415.7" cy="131.5" r="2.95"/>
<circle cx="628.7" cy="121.2" r="2.95"/>
<circle cx="578.0" cy="121.7" r="2.95"/>
<circle cx="469.8" cy="131.1" r="2.95"/>
<circle cx="454.4" cy="122.0" r="2.95"/>
<circle cx="470.8" cy="121.8" r="2.95"/>
<circle cx="629.3" cy="123.9" r="2.95"/>
<circle cx="585.4" cy="131.5" r="2.95"/>
<circle cx="602.4" cy="131.3" r="2.95"/>
<circle cx="597.9" cy="122.7" r="2.95"/>
<circle cx="472.1" cy="115.9" r="2.95"/>
<circle cx="581.2" cy="116.5" r="2.95"/>
<circle cx="663.5" cy="114.2" r="2.95"/>
<circle cx="601.6" cy="125.1" r="2.95"/>
<circle cx="465.4" cy="125.7" r="2.95"/>
<circle cx="434.2" cy="128.7" r="2.95"/>
<circle cx="504.8" cy="131.6" r="2.95"/>
<circle cx="408.6" cy="117.2" r="2.95"/>
<circle cx="641.9" cy="127.9" r="2.95"/>
<circle cx="603.0" cy="124.4" r="2.95"/>
<circle cx="607.8" cy="131.2" r="2.95"/>
<circle cx="646.1" cy="121.2" r="2.95"/>
<circle cx="579.4" cy="117.3" r="2.95"/>
<circle cx="572.4" cy="130.9" r="2.95"/>
<circle cx="406.6" cy="123.2" r="2.95"/>
<circle cx="458.3" cy="123.9" r="2.95"/>
<circle cx="572.9" cy="121.1" r="2.95"/>
<circle cx="430.2" cy="121.1" r="2.95"/>
<circle cx="609.0" cy="122.7" r="2.95"/>
<circle cx="630.2" cy="129.7" r="2.95"/>
<circle cx="633.0" cy="131.4" r="2.95"/>
<circle cx="548.4" cy="118.5" r="2.95"/>
<circle cx="607.7" cy="130.6" r="2.95"/>
<circle cx="651.8" cy="119.2" r="2.95"/>
<circle cx="555.8" cy="131.5" r="2.95"/>
<circle cx="533.8" cy="121.2" r="2.95"/>
<circle cx="440.8" cy="124.0" r="2.95"/>
<circle cx="474.2" cy="122.2" r="2.95"/>
<circle cx="568.0" cy="131.5" r="2.95"/>
<circle cx="637.9" cy="131.3" r="2.95"/>
<circle cx="406.1" cy="129.5" r="2.95"/>
<circle cx="440.2" cy="118.4" r="2.95"/>
<circle cx="608.3" cy="129.1" r="2.95"/>
<circle cx="579.1" cy="131.4" r="2.95"/>
<circle cx="530.4" cy="131.2" r="2.95"/>
<circle cx="636.9" cy="131.5" r="2.95"/>
<circle cx="554.2" cy="120.2" r="2.95"/>
<circle cx="593.7" cy="119.1" r="2.95"/>
<circle cx="562.5" cy="122.3" r="2.95"/>
<circle cx="491.7" cy="118.3" r="2.95"/>
<circle cx="472.1" cy="130.3" r="2.95"/>
<circle cx="638.6" cy="130.7" r="2.95"/>
<circle cx="453.7" cy="128.4" r="2.95"/>
<circle cx="614.3" cy="131.5" r="2.95"/>
<circle cx="410.2" cy="131.3" r="2.95"/>
<circle cx="464.5" cy="131.5" r="2.95"/>
<circle cx="464.9" cy="130.6" r="2.95"/>
<circle cx="621.4" cy="124.4" r="2.95"/>
<circle cx="671.4" cy="130.4" r="2.95"/>
<circle cx="671.1" cy="122.6" r="2.95"/>
<circle cx="567.1" cy="127.2" r="2.95"/>
<circle cx="549.9" cy="127.9" r="2.95"/>
<circle cx="407.4" cy="131.3" r="2.95"/>
<circle cx="512.6" cy="125.2" r="2.95"/>
<circle cx="661.1" cy="131.2" r="2.95"/>
<circle cx="558.9" cy="126.6" r="2.95"/>
<circle cx="503.4" cy="121.5" r="2.95"/>
<circle cx="667.0" cy="120.7" r="2.95"/>
<circle cx="664.3" cy="126.8" r="2.95"/>
<circle cx="669.3" cy="124.4" r="2.95"/>
<circle cx="642.3" cy="122.3" r="2.95"/>
<circle cx="423.7" cy="119.5" r="2.95"/>
<circle cx="637.9" cy="121.0" r="2.95"/>
<circle cx="537.8" cy="124.8" r="2.95"/>
<circle cx="653.2" cy="131.2" r="2.95"/>
<circle cx="534.4" cy="120.8" r="2.95"/>
<circle cx="616.5" cy="131.1" r="2.95"/>
<circle cx="630.4" cy="114.9" r="2.95"/>
<circle cx="575.9" cy="129.8" r="2.95"/>
<circle cx="428.5" cy="131.2" r="2.95"/>
<circle cx="415.0" cy="125.0" r="2.95"/>
<circle cx="471.5" cy="122.9" r="2.95"/>
<circle cx="599.7" cy="131.2" r="2.95"/>
<circle cx="666.6" cy="122.1" r="2.95"/>
<circle cx="578.0" cy="124.5" r="2.95"/>
<circle cx="600.0" cy="128.7" r="2.95"/>
<circle cx="575.9" cy="120.5" r="2.95"/>
<circle cx="615.9" cy="126.4" r="2.95"/>
<circle cx="446.7" cy="130.7" r="2.95"/>
<circle cx="474.1" cy="129.4" r="2.95"/>
<circle cx="493.5" cy="131.3" r="2.95"/>
<circle cx="644.5" cy="122.3" r="2.95"/>
<circle cx="555.4" cy="128.4" r="2.95"/>
<circle cx="456.0" cy="120.8" r="2.95"/>
<circle cx="518.5" cy="126.1" r="2.95"/>
<circle cx="427.3" cy="125.6" r="2.95"/>
<circle cx="426.3" cy="130.0" r="2.95"/>
<circle cx="532.8" cy="114.1" r="2.95"/>
<circle cx="666.7" cy="131.5" r="2.95"/>
<circle cx="627.1" cy="124.8" r="2.95"/>
<circle cx="638.9" cy="122.8" r="2.95"/>
<circle cx="571.1" cy="131.3" r="2.95"/>
<circle cx="433.5" cy="127.2" r="2.95"/>
<circle cx="602.4" cy="117.8" r="2.95"/>
<circle cx="488.5" cy="125.8" r="2.95"/>
<circle cx="655.7" cy="131.3" r="2.95"/>
<circle cx="418.6" cy="131.2" r="2.95"/>
<circle cx="457.7" cy="131.5" r="2.95"/>
<circle cx="606.2" cy="125.2" r="2.95"/>
<circle cx="435.2" cy="131.2" r="2.95"/>
<circle cx="668.4" cy="122.4" r="2.95"/>
<circle cx="451.2" cy="131.2" r="2.95"/>
<circle cx="670.3" cy="120.2" r="2.95"/>
<circle cx="558.4" cy="119.7" r="2.95"/>
<circle cx="551.6" cy="116.8" r="2.95"/>
<circle cx="420.6" cy="117.1" r="2.95"/>
<circle cx="582.4" cy="120.7" r="2.95"/>
<circle cx="671.3" cy="121.6" r="2.95"/>
<circle cx="570.1" cy="123.6" r="2.95"/>
<circle cx="638.0" cy="119.5" r="2.95"/>
<circle cx="613.3" cy="124.5" r="2.95"/>
<circle cx="640.8" cy="124.7" r="2.95"/>
<circle cx="635.7" cy="120.4" r="2.95"/>
<circle cx="532.5" cy="131.4" r="2.95"/>
<circle cx="556.7" cy="131.5" r="2.95"/>
<circle cx="485.0" cy="122.5" r="2.95"/>
<circle cx="550.4" cy="131.3" r="2.95"/>
<circle cx="669.4" cy="119.5" r="2.95"/>
<circle cx="493.9" cy="131.4" r="2.95"/>
<circle cx="608.9" cy="124.3" r="2.95"/>
<circle cx="466.7" cy="125.7" r="2.95"/>
<circle cx="535.0" cy="127.4" r="2.95"/>
<circle cx="619.2" cy="131.2" r="2.95"/>
<circle cx="497.3" cy="122.7" r="2.95"/>
<circle cx="567.6" cy="125.2" r="2.95"/>
<circle cx="543.1" cy="126.8" r="2.95"/>
<circle cx="607.4" cy="120.9" r="2.95"/>
<circle cx="477.3" cy="129.0" r="2.95"/>
<circle cx="554.2" cy="121.1" r="2.95"/>
<circle cx="623.6" cy="121.5" r="2.95"/>
<circle cx="596.6" cy="128.9" r="2.95"/>
<circle cx="625.8" cy="130.3" r="2.95"/>
<circle cx="622.8" cy="126.0" r="2.95"/>
<circle cx="416.1" cy="130.7" r="2.95"/>
<circle cx="540.3" cy="126.8" r="2.95"/>
<circle cx="417.4" cy="118.7" r="2.95"/>
<circle cx="651.6" cy="131.3" r="2.95"/>
<circle cx="550.9" cy="128.2" r="2.95"/>
<circle cx="447.8" cy="129.4" r="2.95"/>
<circle cx="467.8" cy="118.9" r="2.95"/>
<circle cx="525.5" cy="126.6" r="2.95"/>
<circle cx="503.2" cy="130.1" r="2.95"/>
<circle cx="489.0" cy="126.8" r="2.95"/>
<circle cx="485.9" cy="118.4" r="2.95"/>
<circle cx="542.1" cy="129.5" r="2.95"/>
<circle cx="482.2" cy="130.6" r="2.95"/>
<circle cx="601.4" cy="131.4" r="2.95"/>
<circle cx="535.4" cy="126.4" r="2.95"/>
<circle cx="639.5" cy="131.6" r="2.95"/>
<circle cx="651.9" cy="123.8" r="2.95"/>
<circle cx="485.5" cy="131.6" r="2.95"/>
<circle cx="623.2" cy="121.1" r="2.95"/>
<circle cx="551.3" cy="126.1" r="2.95"/>
<circle cx="542.4" cy="125.3" r="2.95"/>
<circle cx="513.4" cy="124.2" r="2.95"/>
<circle cx="470.4" cy="123.2" r="2.95"/>
<circle cx="645.4" cy="122.0" r="2.95"/>
<circle cx="542.8" cy="123.5" r="2.95"/>
<circle cx="593.7" cy="129.6" r="2.95"/>
<circle cx="489.7" cy="121.3" r="2.95"/>
<circle cx="505.2" cy="121.9" r="2.95"/>
<circle cx="553.6" cy="131.0" r="2.95"/>
<circle cx="660.0" cy="123.4" r="2.95"/>
<circle cx="416.3" cy="121.4" r="2.95"/>
<circle cx="567.6" cy="130.5" r="2.95"/>
<circle cx="625.1" cy="124.1" r="2.95"/>
<circle cx="464.5" cy="131.5" r="2.95"/>
<circle cx="669.2" cy="123.7" r="2.95"/>
<circle cx="635.5" cy="124.8" r="2.95"/>
<circle cx="478.5" cy="130.9" r="2.95"/>
<circle cx="499.4" cy="119.0" r="2.95"/>
<circle cx="643.9" cy="131.1" r="2.95"/>
<circle cx="461.7" cy="124.9" r="2.95"/>
<circle cx="642.3" cy="121.0" r="2.95"/>
<circle cx="597.3" cy="115.6" r="2.95"/>
<circle cx="504.9" cy="126.9" r="2.95"/>
<circle cx="615.3" cy="131.3" r="2.95"/>
<circle cx="653.7" cy="122.7" r="2.95"/>
<circle cx="587.4" cy="124.1" r="2.95"/>
<circle cx="542.2" cy="113.6" r="2.95"/>
<circle cx="611.6" cy="131.3" r="2.95"/>
<circle cx="579.1" cy="126.0" r="2.95"/>
<circle cx="485.0" cy="115.7" r="2.95"/>
<circle cx="495.1" cy="129.4" r="2.95"/>
<circle cx="499.1" cy="123.2" r="2.95"/>
<circle cx="572.1" cy="131.1" r="2.95"/>
<circle cx="558.2" cy="122.5" r="2.95"/>
<circle cx="582.7" cy="124.7" r="2.95"/>
<circle cx="529.0" cy="123.0" r="2.95"/>
<circle cx="600.8" cy="118.5" r="2.95"/>
<circle cx="523.7" cy="127.7" r="2.95"/>
<circle cx="472.6" cy="129.4" r="2.95"/>
<circle cx="618.3" cy="127.8" r="2.95"/>
<circle cx="472.4" cy="129.8" r="2.95"/>
<circle cx="586.2" cy="126.5" r="2.95"/>
<circle cx="631.9" cy="131.2" r="2.95"/>
<circle cx="446.3" cy="122.0" r="2.95"/>
<circle cx="429.0" cy="126.8" r="2.95"/>
<circle cx="406.1" cy="127.2" r="2.95"/>
<circle cx="620.4" cy="121.2" r="2.95"/>
<circle cx="525.4" cy="128.9" r="2.95"/>
<circle cx="490.5" cy="131.4" r="2.95"/>
<circle cx="449.1" cy="124.1" r="2.95"/>
<circle cx="521.0" cy="119.1" r="2.95"/>
<circle cx="495.1" cy="119.8" r="2.95"/>
<circle cx="520.1" cy="125.1" r="2.95"/>
<circle cx="515.7" cy="129.9" r="2.95"/>
<circle cx="459.4" cy="119.3" r="2.95"/>
<circle cx="671.3" cy="124.6" r="2.95"/>
<circle cx="588.7" cy="131.5" r="2.95"/>
<circle cx="614.1" cy="121.5" r="2.95"/>
<circle cx="570.4" cy="124.2" r="2.95"/>
<circle cx="661.2" cy="130.9" r="2.95"/>
<circle cx="463.7" cy="121.1" r="2.95"/>
<circle cx="407.6" cy="127.2" r="2.95"/>
<circle cx="473.2" cy="118.2" r="2.95"/>
<circle cx="474.5" cy="123.0" r="2.95"/>
<circle cx="469.9" cy="116.8" r="2.95"/>
<circle cx="577.3" cy="120.0" r="2.95"/>
<circle cx="468.8" cy="129.8" r="2.95"/>
<circle cx="439.0" cy="129.9" r="2.95"/>
<circle cx="521.9" cy="117.8" r="2.95"/>
<circle cx="573.3" cy="119.0" r="2.95"/>
<circle cx="553.9" cy="130.1" r="2.95"/>
<circle cx="621.1" cy="126.1" r="2.95"/>
<circle cx="473.9" cy="131.4" r="2.95"/>
<circle cx="626.2" cy="130.5" r="2.95"/>
<circle cx="405.8" cy="131.5" r="2.95"/>
<circle cx="512.0" cy="131.3" r="2.95"/>
<circle cx="425.0" cy="131.2" r="2.95"/>
<circle cx="598.7" cy="117.9" r="2.95"/>
<circle cx="417.2" cy="120.1" r="2.95"/>
<circle cx="583.0" cy="131.5" r="2.95"/>
<circle cx="405.9" cy="130.5" r="2.95"/>
<circle cx="408.3" cy="116.8" r="2.95"/>
<circle cx="531.5" cy="118.1" r="2.95"/>
<circle cx="452.9" cy="124.4" r="2.95"/>
<circle cx="555.4" cy="126.2" r="2.95"/>
<circle cx="502.4" cy="129.6" r="2.95"/>
<circle cx="406.0" cy="126.1" r="2.95"/>
<circle cx="596.9" cy="123.8" r="2.95"/>
<circle cx="478.1" cy="114.6" r="2.95"/>
<circle cx="536.1" cy="128.5" r="2.95"/>
<circle cx="424.9" cy="128.0" r="2.95"/>
<circle cx="471.3" cy="126.0" r="2.95"/>
<circle cx="491.1" cy="124.0" r="2.95"/>
<circle cx="484.6" cy="117.8" r="2.95"/>
<circle cx="606.9" cy="126.5" r="2.95"/>
<circle cx="670.6" cy="108.9" r="2.95"/>
<circle cx="592.4" cy="126.3" r="2.95"/>
<circle cx="565.7" cy="130.7" r="2.95"/>
<circle cx="456.4" cy="124.4" r="2.95"/>
<circle cx="557.0" cy="129.9" r="2.95"/>
<circle cx="559.8" cy="122.9" r="2.95"/>
<circle cx="576.2" cy="129.7" r="2.95"/>
<circle cx="527.3" cy="122.7" r="2.95"/>
<circle cx="647.5" cy="127.8" r="2.95"/>
<circle cx="425.9" cy="126.3" r="2.95"/>
<circle cx="549.1" cy="128.5" r="2.95"/>
<circle cx="465.0" cy="129.8" r="2.95"/>
<circle cx="471.6" cy="128.5" r="2.95"/>
<circle cx="483.3" cy="114.3" r="2.95"/>
<circle cx="457.6" cy="120.5" r="2.95"/>
<circle cx="629.8" cy="130.7" r="2.95"/>
<circle cx="610.7" cy="131.6" r="2.95"/>
<circle cx="623.3" cy="121.3" r="2.95"/>
<circle cx="665.2" cy="128.9" r="2.95"/>
<circle cx="612.2" cy="115.2" r="2.95"/>
<circle cx="417.7" cy="124.7" r="2.95"/>
<circle cx="488.7" cy="123.6" r="2.95"/>
<circle cx="540.4" cy="128.4" r="2.95"/>
<circle cx="418.5" cy="124.7" r="2.95"/>
<circle cx="626.3" cy="122.6" r="2.95"/>
<circle cx="634.4" cy="127.9" r="2.95"/>
<circle cx="570.2" cy="117.1" r="2.95"/>
<circle cx="549.9" cy="126.8" r="2.95"/>
<circle cx="549.2" cy="120.5" r="2.95"/>
<circle cx="420.3" cy="131.3" r="2.95"/>
<circle cx="635.4" cy="131.4" r="2.95"/>
<circle cx="517.5" cy="116.0" r="2.95"/>
<circle cx="559.4" cy="124.4" r="2.95"/>
<circle cx="566.9" cy="131.1" r="2.95"/>
<circle cx="596.8" cy="115.7" r="2.95"/>
<circle cx="649.9" cy="124.7" r="2.95"/>
<circle cx="638.4" cy="121.7" r="2.95"/>
<circle cx="480.2" cy="129.6" r="2.95"/>
<circle cx="442.8" cy="122.0" r="2.95"/>
<circle cx="594.9" cy="129.3" r="2.95"/>
<circle cx="649.0" cy="123.8" r="2.95"/>
<circle cx="636.1" cy="129.4" r="2.95"/>
<circle cx="535.4" cy="131.3" r="2.95"/>
<circle cx="642.0" cy="126.3" r="2.95"/>
<circle cx="462.2" cy="124.8" r="2.95"/>
<circle cx="587.8" cy="125.2" r="2.95"/>
<circle cx="628.6" cy="130.7" r="2.95"/>
<circle cx="530.7" cy="125.0" r="2.95"/>
<circle cx="478.0" cy="116.2" r="2.95"/>
<circle cx="620.3" cy="130.5" r="2.95"/>
<circle cx="589.2" cy="126.5" r="2.95"/>
<circle cx="407.0" cy="122.2" r="2.95"/>
<circle cx="527.1" cy="128.7" r="2.95"/>
<circle cx="571.0" cy="125.5" r="2.95"/>
<circle cx="433.8" cy="129.9" r="2.95"/>
<circle cx="443.1" cy="129.4" r="2.95"/>
<circle cx="531.0" cy="126.2" r="2.95"/>
<circle cx="566.3" cy="131.4" r="2.95"/>
<circle cx="645.4" cy="130.7" r="2.95"/>
<circle cx="556.9" cy="122.0" r="2.95"/>
<circle cx="620.9" cy="121.7" r="2.95"/>
<circle cx="493.2" cy="121.2" r="2.95"/>
<circle cx="582.5" cy="115.9" r="2.95"/>
<circle cx="469.4" cy="126.6" r="2.95"/>
<circle cx="448.2" cy="131.5" r="2.95"/>
<circle cx="440.6" cy="131.4" r="2.95"/>
<circle cx="540.5" cy="124.1" r="2.95"/>
<circle cx="649.3" cy="124.2" r="2.95"/>
<circle cx="599.5" cy="124.2" r="2.95"/>
<circle cx="459.0" cy="122.9" r="2.95"/>
<circle cx="463.7" cy="121.3" r="2.95"/>
<circle cx="503.3" cy="131.1" r="2.95"/>
<circle cx="471.2" cy="131.3" r="2.95"/>
<circle cx="452.5" cy="128.4" r="2.95"/>
<circle cx="594.9" cy="130.0" r="2.95"/>
<circle cx="479.5" cy="131.1" r="2.95"/>
<circle cx="613.3" cy="131.4" r="2.95"/>
<circle cx="597.9" cy="126.2" r="2.95"/>
<circle cx="590.0" cy="131.1" r="2.95"/>
<circle cx="412.0" cy="121.7" r="2.95"/>
<circle cx="628.9" cy="122.0" r="2.95"/>
<circle cx="590.1" cy="126.0" r="2.95"/>
<circle cx="500.9" cy="121.7" r="2.95"/>
<circle cx="541.8" cy="126.8" r="2.95"/>
<circle cx="593.2" cy="131.4" r="2.95"/>
<circle cx="552.6" cy="118.9" r="2.95"/>
<circle cx="471.4" cy="121.7" r="2.95"/>
<circle cx="572.9" cy="131.2" r="2.95"/>
<circle cx="670.7" cy="130.3" r="2.95"/>
<circle cx="446.2" cy="124.2" r="2.95"/>
<circle cx="493.7" cy="126.8" r="2.95"/>
<circle cx="599.0" cy="117.2" r="2.95"/>
<circle cx="444.1" cy="123.3" r="2.95"/>
<circle cx="547.1" cy="122.4" r="2.95"/>
<circle cx="503.5" cy="128.7" r="2.95"/>
<circle cx="582.8" cy="121.2" r="2.95"/>
<circle cx="477.7" cy="129.4" r="2.95"/>
<circle cx="442.3" cy="129.0" r="2.95"/>
<circle cx="459.2" cy="128.2" r="2.95"/>
<circle cx="414.8" cy="131.2" r="2.95"/>
<circle cx="475.2" cy="119.0" r="2.95"/>
<circle cx="605.0" cy="131.1" r="2.95"/>
<circle cx="507.8" cy="117.4" r="2.95"/>
<circle cx="504.5" cy="126.7" r="2.95"/>
<circle cx="458.3" cy="120.3" r="2.95"/>
<circle cx="656.0" cy="126.5" r="2.95"/>
<circle cx="620.0" cy="131.1" r="2.95"/>
<circle cx="545.0" cy="124.7" r="2.95"/>
<circle cx="601.8" cy="124.7" r="2.95"/>
<circle cx="446.0" cy="128.3" r="2.95"/>
<circle cx="645.6" cy="131.5" r="2.95"/>
<circle cx="469.5" cy="126.9" r="2.95"/>
<circle cx="571.3" cy="112.5" r="2.95"/>
<circle cx="619.5" cy="126.7" r="2.95"/>
<circle cx="506.0" cy="131.0" r="2.95"/>
<circle cx="520.3" cy="129.0" r="2.95"/>
<circle cx="480.8" cy="118.8" r="2.95"/>
<circle cx="635.1" cy="121.0" r="2.95"/>
<circle cx="433.7" cy="123.8" r="2.95"/>
<circle cx="617.3" cy="131.5" r="2.95"/>
<circle cx="615.4" cy="129.5" r="2.95"/>
<circle cx="481.2" cy="121.3" r="2.95"/>
<circle cx="603.9" cy="131.2" r="2.95"/>
<circle cx="504.9" cy="120.2" r="2.95"/>
<circle cx="542.8" cy="131.4" r="2.95"/>
<circle cx="671.3" cy="120.6" r="2.95"/>
<circle cx="662.9" cy="125.2" r="2.95"/>
<circle cx="636.4" cy="117.9" r="2.95"/>
<circle cx="592.0" cy="118.9" r="2.95"/>
<circle cx="407.9" cy="121.7" r="2.95"/>
<circle cx="487.3" cy="131.4" r="2.95"/>
<circle cx="496.0" cy="115.0" r="2.95"/>
<circle cx="666.7" cy="123.9" r="2.95"/>
<circle cx="487.2" cy="128.6" r="2.95"/>
<circle cx="668.6" cy="128.5" r="2.95"/>
<circle cx="481.4" cy="121.3" r="2.95"/>
<circle cx="542.8" cy="124.3" r="2.95"/>
<circle cx="581.4" cy="121.5" r="2.95"/>
<circle cx="454.7" cy="131.4" r="2.95"/>
<circle cx="559.6" cy="120.7" r="2.95"/>
<circle cx="552.3" cy="131.1" r="2.95"/>
<circle cx="527.2" cy="127.0" r="2.95"/>
<circle cx="567.8" cy="130.4" r="2.95"/>
<circle cx="516.9" cy="131.5" r="2.95"/>
<circle cx="591.0" cy="120.5" r="2.95"/>
<circle cx="470.9" cy="124.3" r="2.95"/>
<circle cx="409.3" cy="119.8" r="2.95"/>
<circle cx="476.4" cy="119.0" r="2.95"/>
<circle cx="529.6" cy="125.4" r="2.95"/>
<circle cx="440.8" cy="120.6" r="2.95"/>
<circle cx="664.7" cy="125.5" r="2.95"/>
<circle cx="607.0" cy="131.3" r="2.95"/>
<circle cx="509.6" cy="120.2" r="2.95"/>
<circle cx="499.3" cy="127.7" r="2.95"/>
<circle cx="587.4" cy="121.2" r="2.95"/>
<circle cx="469.0" cy="127.6" r="2.95"/>
<circle cx="464.8" cy="130.1" r="2.95"/>
<circle cx="618.2" cy="123.3" r="2.95"/>
<circle cx="591.0" cy="128.0" r="2.95"/>
<circle cx="483.8" cy="118.3" r="2.95"/>
<circle cx="575.9" cy="131.4" r="2.95"/>
<circle cx="611.4" cy="123.0" r="2.95"/>
<circle cx="657.9" cy="130.2" r="2.95"/>
<circle cx="438.9" cy="128.6" r="2.95"/>
<circle cx="470.2" cy="126.8" r="2.95"/>
<circle cx="577.5" cy="124.2" r="2.95"/>
<circle cx="488.4" cy="118.4" r="2.95"/>
<circle cx="533.9" cy="126.0" r="2.95"/>
<circle cx="489.7" cy="121.6" r="2.95"/>
<circle cx="406.3" cy="123.9" r="2.95"/>
<circle cx="516.4" cy="131.4" r="2.95"/>
<circle cx="498.0" cy="129.3" r="2.95"/>
<circle cx="652.2" cy="124.7" r="2.95"/>
<circle cx="489.2" cy="130.7" r="2.95"/>
<circle cx="604.0" cy="120.1" r="2.95"/>
<circle cx="426.8" cy="131.2" r="2.95"/>
<circle cx="498.5" cy="118.0" r="2.95"/>
<circle cx="532.5" cy="123.7" r="2.95"/>
<circle cx="619.7" cy="131.4" r="2.95"/>
<circle cx="620.5" cy="130.5" r="2.95"/>
<circle cx="562.0" cy="115.4" r="2.95"/>
<circle cx="629.3" cy="131.3" r="2.95"/>
<circle cx="596.7" cy="131.5" r="2.95"/>
<circle cx="552.8" cy="121.1" r="2.95"/>
<circle cx="643.3" cy="122.3" r="2.95"/>
<circle cx="493.3" cy="130.3" r="2.95"/>
<circle cx="524.6" cy="120.2" r="2.95"/>
<circle cx="533.7" cy="117.1" r="2.95"/>
<circle cx="649.9" cy="121.9" r="2.95"/>
<circle cx="496.4" cy="128.7" r="2.95"/>
<circle cx="517.1" cy="125.6" r="2.95"/>
<circle cx="662.8" cy="118.9" r="2.95"/>
<circle cx="477.3" cy="122.9" r="2.95"/>
<circle cx="479.6" cy="117.3" r="2.95"/>
<circle cx="534.0" cy="121.0" r="2.95"/>
<circle cx="524.6" cy="131.5" r="2.95"/>
<circle cx="605.9" cy="120.1" r="2.95"/>
<circle cx="618.0" cy="125.2" r="2.95"/>
<circle cx="509.0" cy="127.0" r="2.95"/>
<circle cx="407.8" cy="122.9" r="2.95"/>
<circle cx="421.4" cy="131.6" r="2.95"/>
<circle cx="530.0" cy="123.5" r="2.95"/>
<circle cx="580.9" cy="122.4" r="2.95"/>
<circle cx="550.4" cy="125.2" r="2.95"/>
<circle cx="550.5" cy="121.1" r="2.95"/>
<circle cx="587.0" cy="118.3" r="2.95"/>
<circle cx="430.9" cy="120.4" r="2.95"/>
<circle cx="540.8" cy="130.6" r="2.95"/>
<circle cx="606.0" cy="125.7" r="2.95"/>
<circle cx="643.9" cy="125.4" r="2.95"/>
<circle cx="432.3" cy="131.4" r="2.95"/>
<circle cx="434.9" cy="120.2" r="2.95"/>
<circle cx="447.3" cy="125.1" r="2.95"/>
<circle cx="554.8" cy="125.6" r="2.95"/>
<circle cx="501.5" cy="131.2" r="2.95"/>
<circle cx="465.0" cy="131.6" r="2.95"/>
<circle cx="533.5" cy="118.1" r="2.95"/>
<circle cx="429.5" cy="126.5" r="2.95"/>
<circle cx="463.7" cy="126.1" r="2.95"/>
<circle cx="442.1" cy="128.5" r="2.95"/>
<circle cx="540.5" cy="129.2" r="2.95"/>
<circle cx="601.3" cy="126.4" r="2.95"/>
<circle cx="450.4" cy="127.7" r="2.95"/>
<circle cx="579.0" cy="127.9" r="2.95"/>
<circle cx="591.5" cy="122.8" r="2.95"/>
<circle cx="540.1" cy="121.6" r="2.95"/>
<circle cx="550.7" cy="127.8" r="2.95"/>
<circle cx="544.7" cy="131.5" r="2.95"/>
<circle cx="497.9" cy="129.6" r="2.95"/>
<circle cx="523.6" cy="131.6" r="2.95"/>
<circle cx="543.0" cy="112.5" r="2.95"/>
<circle cx="482.2" cy="131.4" r="2.95"/>
<circle cx="564.4" cy="130.4" r="2.95"/>
<circle cx="448.9" cy="131.2" r="2.95"/>
<circle cx="497.7" cy="131.2" r="2.95"/>
<circle cx="649.3" cy="131.3" r="2.95"/>
<circle cx="499.9" cy="131.4" r="2.95"/>
<circle cx="443.0" cy="130.1" r="2.95"/>
<circle cx="513.7" cy="122.8" r="2.95"/>
<circle cx="588.4" cy="120.5" r="2.95"/>
<circle cx="491.9" cy="131.4" r="2.95"/>
<circle cx="530.9" cy="129.3" r="2.95"/>
<circle cx="502.9" cy="129.0" r="2.95"/>
<circle cx="670.3" cy="129.7" r="2.95"/>
<circle cx="422.5" cy="131.4" r="2.95"/>
<circle cx="479.7" cy="121.8" r="2.95"/>
<circle cx="512.0" cy="122.1" r="2.95"/>
<circle cx="423.2" cy="131.4" r="2.95"/>
<circle cx="655.4" cy="119.0" r="2.95"/>
<circle cx="652.2" cy="119.9" r="2.95"/>
<circle cx="520.5" cy="131.5" r="2.95"/>
<circle cx="662.4" cy="121.3" r="2.95"/>
<circle cx="559.9" cy="121.7" r="2.95"/>
<circle cx="516.3" cy="130.2" r="2.95"/>
<circle cx="621.5" cy="130.6" r="2.95"/>
<circle cx="654.3" cy="131.2" r="2.95"/>
<circle cx="525.5" cy="130.0" r="2.95"/>
<circle cx="657.5" cy="131.3" r="2.95"/>
<circle cx="608.8" cy="126.0" r="2.95"/>
<circle cx="413.3" cy="130.1" r="2.95"/>
<circle cx="464.4" cy="120.6" r="2.95"/>
<circle cx="554.5" cy="123.5" r="2.95"/>
<circle cx="408.3" cy="116.2" r="2.95"/>
<circle cx="670.2" cy="131.6" r="2.95"/>
<circle cx="438.9" cy="126.6" r="2.95"/>
<circle cx="663.9" cy="123.6" r="2.95"/>
<circle cx="472.4" cy="131.5" r="2.95"/>
<circle cx="644.1" cy="129.6" r="2.95"/>
<circle cx="447.4" cy="130.1" r="2.95"/>
<circle cx="600.1" cy="129.6" r="2.95"/>
<circle cx="643.7" cy="118.8" r="2.95"/>
<circle cx="663.8" cy="118.7" r="2.95"/>
<circle cx="516.2" cy="118.1" r="2.95"/>
<circle cx="623.1" cy="122.3" r="2.95"/>
<circle cx="472.7" cy="131.4" r="2.95"/>
<circle cx="624.4" cy="131.3" r="2.95"/>
<circle cx="595.4" cy="117.4" r="2.95"/>
<circle cx="434.1" cy="126.6" r="2.95"/>
<circle cx="623.3" cy="121.7" r="2.95"/>
<circle cx="479.6" cy="119.6" r="2.95"/>
<circle cx="416.2" cy="117.4" r="2.95"/>
<circle cx="640.4" cy="118.3" r="2.95"/>
<circle cx="446.3" cy="127.6" r="2.95"/>
<circle cx="504.8" cy="131.6" r="2.95"/>
<circle cx="638.1" cy="129.9" r="2.95"/>
<circle cx="671.3" cy="118.6" r="2.95"/>
<circle cx="460.7" cy="130.4" r="2.95"/>
<circle cx="541.3" cy="131.4" r="2.95"/>
<circle cx="582.7" cy="120.0" r="2.95"/>
<circle cx="428.8" cy="131.0" r="2.95"/>
<circle cx="526.1" cy="122.3" r="2.95"/>
<circle cx="670.1" cy="123.4" r="2.95"/>
<circle cx="671.3" cy="131.6" r="2.95"/>
<circle cx="536.8" cy="131.5" r="2.95"/>
<circle cx="564.3" cy="131.6" r="2.95"/>
<circle cx="406.1" cy="117.3" r="2.95"/>
<circle cx="538.4" cy="121.2" r="2.95"/>
<circle cx="468.1" cy="131.2" r="2.95"/>
<circle cx="476.4" cy="131.3" r="2.95"/>
<circle cx="433.6" cy="120.0" r="2.95"/>
<circle cx="671.2" cy="128.6" r="2.95"/>
<circle cx="606.6" cy="131.5" r="2.95"/>
<circle cx="409.0" cy="130.4" r="2.95"/>
<circle cx="506.8" cy="121.7" r="2.95"/>
<circle cx="457.7" cy="126.7" r="2.95"/>
<circle cx="604.2" cy="131.2" r="2.95"/>
<circle cx="523.3" cy="126.4" r="2.95"/>
<circle cx="456.8" cy="122.5" r="2.95"/>
<circle cx="656.8" cy="124.3" r="2.95"/>
<circle cx="521.3" cy="115.8" r="2.95"/>
<circle cx="668.9" cy="122.8" r="2.95"/>
<circle cx="629.2" cy="118.6" r="2.95"/>
<circle cx="442.2" cy="131.6" r="2.95"/>
<circle cx="451.7" cy="131.2" r="2.95"/>
<circle cx="592.6" cy="120.4" r="2.95"/>
<circle cx="647.4" cy="131.3" r="2.95"/>
<circle cx="550.7" cy="129.3" r="2.95"/>
<circle cx="636.9" cy="128.6" r="2.95"/>
<circle cx="449.9" cy="131.4" r="2.95"/>
<circle cx="663.9" cy="131.3" r="2.95"/>
<circle cx="517.8" cy="131.3" r="2.95"/>
<circle cx="606.5" cy="116.8" r="2.95"/>
<circle cx="661.1" cy="121.3" r="2.95"/>
<circle cx="500.9" cy="125.8" r="2.95"/>
<circle cx="594.3" cy="117.7" r="2.95"/>
<circle cx="516.5" cy="130.8" r="2.95"/>
<circle cx="436.5" cy="127.6" r="2.95"/>
<circle cx="540.0" cy="131.1" r="2.95"/>
<circle cx="524.0" cy="131.1" r="2.95"/>
<circle cx="463.8" cy="130.5" r="2.95"/>
<circle cx="406.1" cy="119.5" r="2.95"/>
<circle cx="666.2" cy="123.7" r="2.95"/>
<circle cx="618.1" cy="125.8" r="2.95"/>
<circle cx="595.5" cy="129.5" r="2.95"/>
<circle cx="515.2" cy="121.8" r="2.95"/>
<circle cx="654.7" cy="115.4" r="2.95"/>
<circle cx="510.4" cy="123.8" r="2.95"/>
<circle cx="584.0" cy="131.3" r="2.95"/>
<circle cx="553.7" cy="123.0" r="2.95"/>
<circle cx="455.9" cy="131.3" r="2.95"/>
<circle cx="607.4" cy="126.3" r="2.95"/>
<circle cx="573.1" cy="129.3" r="2.95"/>
<circle cx="435.3" cy="120.0" r="2.95"/>
<circle cx="577.2" cy="131.5" r="2.95"/>
<circle cx="533.2" cy="121.3" r="2.95"/>
<circle cx="662.4" cy="121.3" r="2.95"/>
<circle cx="451.5" cy="127.5" r="2.95"/>
<circle cx="540.3" cy="123.7" r="2.95"/>
<circle cx="478.8" cy="123.9" r="2.95"/>
<circle cx="549.0" cy="121.3" r="2.95"/>
<circle cx="599.9" cy="127.5" r="2.95"/>
<circle cx="485.4" cy="128.8" r="2.95"/>
<circle cx="454.8" cy="125.3" r="2.95"/>
<circle cx="546.3" cy="122.5" r="2.95"/>
<circle cx="504.8" cy="122.2" r="2.95"/>
<circle cx="541.5" cy="120.7" r="2.95"/>
<circle cx="414.2" cy="126.6" r="2.95"/>
<circle cx="416.9" cy="124.2" r="2.95"/>
<circle cx="442.9" cy="123.6" r="2.95"/>
<circle cx="573.4" cy="121.8" r="2.95"/>
<circle cx="632.0" cy="116.3" r="2.95"/>
<circle cx="521.2" cy="129.1" r="2.95"/>
<circle cx="485.2" cy="116.6" r="2.95"/>
<circle cx="467.5" cy="125.7" r="2.95"/>
<circle cx="625.6" cy="129.0" r="2.95"/>
<circle cx="524.7" cy="129.4" r="2.95"/>
<circle cx="568.4" cy="116.0" r="2.95"/>
<circle cx="635.5" cy="124.0" r="2.95"/>
</g>
<g class="pt">
<circle cx="539.3" cy="14.8" r="2.95" fill="#FFA500"/>
<circle cx="539.8" cy="20.0" r="2.95" fill="#FFA500"/>
<circle cx="544.5" cy="18.5" r="2.95" fill="#FFA500"/>
<circle cx="543.8" cy="23.0" r="2.95" fill="#FFA500"/>
<circle cx="538.9" cy="23.7" r="2.95" fill="#FFA500"/>
<circle cx="546.0" cy="27.4" r="2.95" fill="#FFA500"/>
<circle cx="540.8" cy="28.2" r="2.95" fill="#FFA500"/>
<circle cx="546.7" cy="32.6" r="2.95" fill="#FFA500"/>
<circle cx="543.8" cy="35.6" r="2.95" fill="#FFA500"/>
<circle cx="544.5" cy="39.3" r="2.95" fill="#FFA500"/>
<circle cx="549.0" cy="41.5" r="2.95" fill="#FFA500"/>
<circle cx="546.0" cy="44.2" r="2.95" fill="#FFA500"/>
<circle cx="538.3" cy="39.3" r="2.95" fill="#FFA500"/>
<circle cx="537.8" cy="43.8" r="2.95" fill="#FFA500"/>
<circle cx="547.2" cy="49.7" r="2.95" fill="#FFA500"/>
<circle cx="546.7" cy="51.9" r="2.95" fill="#FFA500"/>
<circle cx="549.3" cy="56.3" r="2.95" fill="#FFA500"/>
<circle cx="546.0" cy="44.5" r="2.95" fill="#FFA500"/>
<circle cx="549.7" cy="42.2" r="2.95" fill="#FFA500"/>
<circle cx="541.5" cy="16.5" r="2.95" fill="#FFA500"/>
<circle cx="542.0" cy="26.0" r="2.95" fill="#FFA500"/>
<circle cx="543.0" cy="31.0" r="2.95" fill="#FFA500"/>
<circle cx="536.8" cy="36.4" r="2.95" fill="#FF0000"/>
<circle cx="536.8" cy="40.8" r="2.95" fill="#FF0000"/>
<circle cx="537.8" cy="47.2" r="2.95" fill="#FF0000"/>
<circle cx="537.8" cy="43.0" r="2.95" fill="#FF0000"/>
<circle cx="537.8" cy="53.1" r="2.95" fill="#FF0000"/>
<circle cx="523.0" cy="54.4" r="2.95" fill="#FF0000"/>
<circle cx="531.5" cy="54.8" r="2.95" fill="#FF0000"/>
<circle cx="533.4" cy="60.0" r="2.95" fill="#FF0000"/>
<circle cx="531.9" cy="63.4" r="2.95" fill="#FF0000"/>
<circle cx="523.0" cy="63.4" r="2.95" fill="#FF0000"/>
<circle cx="518.8" cy="67.4" r="2.95" fill="#FF0000"/>
<circle cx="523.0" cy="67.4" r="2.95" fill="#FF0000"/>
<circle cx="525.2" cy="68.9" r="2.95" fill="#FF0000"/>
<circle cx="520.0" cy="71.9" r="2.95" fill="#FF0000"/>
<circle cx="532.6" cy="73.4" r="2.95" fill="#FF0000"/>
<circle cx="536.4" cy="75.6" r="2.95" fill="#FF0000"/>
<circle cx="531.9" cy="77.1" r="2.95" fill="#FF0000"/>
<circle cx="534.9" cy="80.1" r="2.95" fill="#FF0000"/>
<circle cx="533.4" cy="83.8" r="2.95" fill="#FF0000"/>
<circle cx="531.2" cy="86.7" r="2.95" fill="#FF0000"/>
<circle cx="523.5" cy="54.8" r="2.95" fill="#FF0000"/>
<circle cx="525.5" cy="56.3" r="2.95" fill="#00008B"/>
<circle cx="537.8" cy="57.8" r="2.95" fill="#00008B"/>
<circle cx="525.2" cy="63.7" r="2.95" fill="#00008B"/>
<circle cx="531.2" cy="79.8" r="2.95" fill="#00008B"/>
<circle cx="518.1" cy="74.1" r="2.95" fill="#FFA500"/>
<circle cx="518.5" cy="78.9" r="2.95" fill="#FFA500"/>
<circle cx="526.0" cy="78.9" r="2.95" fill="#FFA500"/>
<circle cx="522.3" cy="80.8" r="2.95" fill="#FFA500"/>
<circle cx="518.5" cy="83.8" r="2.95" fill="#FFA500"/>
<circle cx="526.7" cy="83.8" r="2.95" fill="#FFA500"/>
<circle cx="523.0" cy="86.0" r="2.95" fill="#FFA500"/>
<circle cx="519.3" cy="87.5" r="2.95" fill="#FFA500"/>
<circle cx="520.8" cy="87.2" r="2.95" fill="#FFA500"/>
<circle cx="524.5" cy="89.5" r="2.95" fill="#FFA500"/>
<circle cx="520.8" cy="90.9" r="2.95" fill="#FFA500"/>
<circle cx="522.0" cy="76.5" r="2.95" fill="#FFA500"/>
<circle cx="524.5" cy="82.5" r="2.95" fill="#FFA500"/>
<circle cx="521.0" cy="84.8" r="2.95" fill="#FFA500"/>
<circle cx="536.8" cy="99.1" r="2.95" fill="#FFA500"/>
<circle cx="552.7" cy="67.0" r="2.95" fill="#006400"/>
<circle cx="561.6" cy="79.8" r="2.95" fill="#006400"/>
<circle cx="551.2" cy="83.0" r="2.95" fill="#006400"/>
<circle cx="546.7" cy="89.0" r="2.95" fill="#006400"/>
<circle cx="547.2" cy="90.2" r="2.95" fill="#006400"/>
<circle cx="516.3" cy="95.4" r="2.95" fill="#006400"/>
<circle cx="516.3" cy="98.6" r="2.95" fill="#006400"/>
<circle cx="528.2" cy="99.1" r="2.95" fill="#006400"/>
<circle cx="528.2" cy="102.5" r="2.95" fill="#006400"/>
<circle cx="514.8" cy="105.0" r="2.95" fill="#006400"/>
<circle cx="511.9" cy="109.5" r="2.95" fill="#006400"/>
<circle cx="564.5" cy="97.6" r="2.95" fill="#006400"/>
<circle cx="575.7" cy="100.6" r="2.95" fill="#006400"/>
<circle cx="559.3" cy="64.5" r="2.95" fill="#00008B"/>
<circle cx="569.7" cy="76.4" r="2.95" fill="#00008B"/>
<circle cx="556.4" cy="79.8" r="2.95" fill="#00008B"/>
<circle cx="572.0" cy="84.5" r="2.95" fill="#00008B"/>
<circle cx="573.4" cy="86.7" r="2.95" fill="#00008B"/>
<circle cx="573.4" cy="86.5" r="2.95" fill="#00008B"/>
<circle cx="540.1" cy="93.9" r="2.95" fill="#00008B"/>
<circle cx="540.8" cy="99.1" r="2.95" fill="#00008B"/>
<circle cx="551.2" cy="98.4" r="2.95" fill="#00008B"/>
<circle cx="549.0" cy="102.8" r="2.95" fill="#00008B"/>
<circle cx="520.8" cy="99.1" r="2.95" fill="#00008B"/>
<circle cx="523.7" cy="102.8" r="2.95" fill="#00008B"/>
<circle cx="531.9" cy="103.5" r="2.95" fill="#00008B"/>
<circle cx="536.4" cy="107.3" r="2.95" fill="#00008B"/>
<circle cx="551.2" cy="107.3" r="2.95" fill="#00008B"/>
<circle cx="565.3" cy="102.8" r="2.95" fill="#00008B"/>
<circle cx="576.4" cy="105.8" r="2.95" fill="#00008B"/>
<circle cx="503.7" cy="108.7" r="2.95" fill="#00008B"/>
<circle cx="595.7" cy="111.7" r="2.95" fill="#00008B"/>
<circle cx="560.8" cy="113.2" r="2.95" fill="#00008B"/>
<circle cx="589.0" cy="115.4" r="2.95" fill="#00008B"/>
<circle cx="488.0" cy="105.0" r="2.95" fill="#00008B"/>
<circle cx="504.0" cy="109.1" r="2.95" fill="#00008B"/>
<circle cx="600.8" cy="108.3" r="2.95" fill="#00008B"/>
<circle cx="595.8" cy="111.3" r="2.95" fill="#00008B"/>
<circle cx="605.0" cy="113.3" r="2.95" fill="#00008B"/>
<circle cx="628.2" cy="111.6" r="2.95" fill="#00008B"/>
<circle cx="623.2" cy="114.6" r="2.95" fill="#00008B"/>
<circle cx="661.4" cy="115.0" r="2.95" fill="#00008B"/>
<circle cx="476.0" cy="108.0" r="2.95" fill="#00008B"/>
<circle cx="479.0" cy="106.8" r="2.95" fill="#00008B"/>
<circle cx="481.0" cy="109.5" r="2.95" fill="#00008B"/>
<circle cx="474.5" cy="111.0" r="2.95" fill="#00008B"/>
<circle cx="463.6" cy="113.5" r="2.95" fill="#00008B"/>
<circle cx="563.8" cy="67.0" r="2.95" fill="#87CEEB"/>
<circle cx="557.1" cy="68.9" r="2.95" fill="#87CEEB"/>
<circle cx="559.3" cy="71.9" r="2.95" fill="#87CEEB"/>
<circle cx="554.2" cy="73.4" r="2.95" fill="#87CEEB"/>
<circle cx="563.1" cy="75.6" r="2.95" fill="#87CEEB"/>
<circle cx="557.9" cy="76.4" r="2.95" fill="#87CEEB"/>
<circle cx="566.0" cy="80.8" r="2.95" fill="#87CEEB"/>
<circle cx="571.2" cy="80.8" r="2.95" fill="#87CEEB"/>
<circle cx="554.9" cy="83.8" r="2.95" fill="#87CEEB"/>
<circle cx="558.6" cy="84.5" r="2.95" fill="#87CEEB"/>
<circle cx="563.8" cy="84.5" r="2.95" fill="#87CEEB"/>
<circle cx="566.8" cy="87.5" r="2.95" fill="#87CEEB"/>
<circle cx="551.9" cy="89.0" r="2.95" fill="#87CEEB"/>
<circle cx="563.1" cy="88.2" r="2.95" fill="#87CEEB"/>
<circle cx="571.2" cy="89.0" r="2.95" fill="#87CEEB"/>
<circle cx="551.6" cy="89.5" r="2.95" fill="#87CEEB"/>
<circle cx="563.8" cy="87.2" r="2.95" fill="#87CEEB"/>
<circle cx="571.2" cy="90.2" r="2.95" fill="#87CEEB"/>
<circle cx="534.9" cy="96.6" r="2.95" fill="#87CEEB"/>
<circle cx="559.3" cy="95.7" r="2.95" fill="#87CEEB"/>
<circle cx="570.5" cy="99.1" r="2.95" fill="#87CEEB"/>
<circle cx="575.7" cy="96.9" r="2.95" fill="#87CEEB"/>
<circle cx="557.1" cy="103.5" r="2.95" fill="#87CEEB"/>
<circle cx="540.1" cy="105.0" r="2.95" fill="#87CEEB"/>
<circle cx="522.3" cy="107.3" r="2.95" fill="#87CEEB"/>
<circle cx="530.4" cy="109.5" r="2.95" fill="#87CEEB"/>
<circle cx="515.6" cy="112.4" r="2.95" fill="#87CEEB"/>
<circle cx="569.0" cy="103.5" r="2.95" fill="#87CEEB"/>
<circle cx="567.5" cy="108.0" r="2.95" fill="#87CEEB"/>
<circle cx="575.7" cy="111.7" r="2.95" fill="#87CEEB"/>
<circle cx="545.3" cy="114.7" r="2.95" fill="#87CEEB"/>
<circle cx="536.4" cy="116.9" r="2.95" fill="#87CEEB"/>
<circle cx="524.5" cy="119.9" r="2.95" fill="#87CEEB"/>
</g>
<path d="M536.6 60.6L542.0 66.0L536.6 71.4L531.2 66.0Z" fill="#A020F0" stroke="#000" stroke-width="0.7"/>
<g class="pt bl">
<circle cx="466.5" cy="262.8" r="2.95"/>
<circle cx="509.7" cy="267.6" r="2.95"/>
<circle cx="443.3" cy="215.5" r="2.95"/>
<circle cx="412.1" cy="235.9" r="2.95"/>
<circle cx="501.9" cy="259.4" r="2.95"/>
<circle cx="416.1" cy="218.5" r="2.95"/>
<circle cx="658.2" cy="267.5" r="2.95"/>
<circle cx="436.3" cy="244.8" r="2.95"/>
<circle cx="433.2" cy="249.0" r="2.95"/>
<circle cx="519.4" cy="275.7" r="2.95"/>
<circle cx="632.1" cy="273.0" r="2.95"/>
<circle cx="430.8" cy="220.6" r="2.95"/>
<circle cx="650.6" cy="257.0" r="2.95"/>
<circle cx="645.0" cy="283.3" r="2.95"/>
<circle cx="541.6" cy="271.3" r="2.95"/>
<circle cx="631.7" cy="269.6" r="2.95"/>
<circle cx="423.8" cy="216.8" r="2.95"/>
<circle cx="503.4" cy="265.0" r="2.95"/>
<circle cx="414.5" cy="286.4" r="2.95"/>
<circle cx="505.6" cy="273.1" r="2.95"/>
<circle cx="567.6" cy="287.3" r="2.95"/>
<circle cx="464.0" cy="268.3" r="2.95"/>
<circle cx="607.2" cy="281.3" r="2.95"/>
<circle cx="477.9" cy="282.2" r="2.95"/>
<circle cx="505.5" cy="269.1" r="2.95"/>
<circle cx="578.9" cy="250.6" r="2.95"/>
<circle cx="623.0" cy="282.3" r="2.95"/>
<circle cx="514.6" cy="250.5" r="2.95"/>
<circle cx="533.7" cy="279.7" r="2.95"/>
<circle cx="429.5" cy="245.0" r="2.95"/>
<circle cx="633.0" cy="281.7" r="2.95"/>
<circle cx="454.5" cy="290.0" r="2.95"/>
<circle cx="482.4" cy="285.4" r="2.95"/>
<circle cx="662.4" cy="276.5" r="2.95"/>
<circle cx="443.8" cy="278.6" r="2.95"/>
<circle cx="574.3" cy="273.1" r="2.95"/>
<circle cx="621.7" cy="290.3" r="2.95"/>
<circle cx="641.6" cy="284.3" r="2.95"/>
<circle cx="635.1" cy="290.3" r="2.95"/>
<circle cx="423.5" cy="245.8" r="2.95"/>
<circle cx="516.5" cy="288.9" r="2.95"/>
<circle cx="546.3" cy="289.8" r="2.95"/>
<circle cx="660.2" cy="281.4" r="2.95"/>
<circle cx="580.5" cy="283.4" r="2.95"/>
<circle cx="473.1" cy="265.7" r="2.95"/>
<circle cx="667.0" cy="283.0" r="2.95"/>
<circle cx="485.0" cy="246.2" r="2.95"/>
<circle cx="581.5" cy="248.7" r="2.95"/>
<circle cx="422.6" cy="210.6" r="2.95"/>
<circle cx="513.5" cy="266.4" r="2.95"/>
<circle cx="525.9" cy="281.9" r="2.95"/>
<circle cx="587.3" cy="260.5" r="2.95"/>
<circle cx="566.9" cy="264.5" r="2.95"/>
<circle cx="476.5" cy="285.6" r="2.95"/>
<circle cx="448.5" cy="215.2" r="2.95"/>
<circle cx="603.2" cy="290.2" r="2.95"/>
<circle cx="538.4" cy="285.0" r="2.95"/>
<circle cx="565.8" cy="270.5" r="2.95"/>
<circle cx="614.5" cy="289.3" r="2.95"/>
<circle cx="490.1" cy="268.3" r="2.95"/>
<circle cx="424.3" cy="230.8" r="2.95"/>
<circle cx="508.7" cy="263.1" r="2.95"/>
<circle cx="410.5" cy="277.0" r="2.95"/>
<circle cx="436.1" cy="289.8" r="2.95"/>
<circle cx="485.3" cy="268.2" r="2.95"/>
<circle cx="492.9" cy="264.5" r="2.95"/>
<circle cx="445.2" cy="221.2" r="2.95"/>
<circle cx="545.0" cy="270.5" r="2.95"/>
<circle cx="405.2" cy="216.7" r="2.95"/>
<circle cx="503.0" cy="289.3" r="2.95"/>
<circle cx="435.1" cy="242.2" r="2.95"/>
<circle cx="595.2" cy="252.6" r="2.95"/>
<circle cx="640.8" cy="256.3" r="2.95"/>
<circle cx="616.8" cy="284.8" r="2.95"/>
<circle cx="492.0" cy="264.9" r="2.95"/>
<circle cx="515.3" cy="276.0" r="2.95"/>
<circle cx="492.3" cy="243.5" r="2.95"/>
<circle cx="645.5" cy="249.3" r="2.95"/>
<circle cx="406.3" cy="255.3" r="2.95"/>
<circle cx="496.7" cy="275.0" r="2.95"/>
<circle cx="533.2" cy="290.2" r="2.95"/>
<circle cx="487.9" cy="234.9" r="2.95"/>
<circle cx="485.9" cy="290.2" r="2.95"/>
<circle cx="608.8" cy="251.9" r="2.95"/>
<circle cx="462.7" cy="251.5" r="2.95"/>
<circle cx="517.7" cy="278.7" r="2.95"/>
<circle cx="408.9" cy="230.5" r="2.95"/>
<circle cx="607.1" cy="273.4" r="2.95"/>
<circle cx="448.6" cy="222.4" r="2.95"/>
<circle cx="659.9" cy="287.2" r="2.95"/>
<circle cx="421.2" cy="242.6" r="2.95"/>
<circle cx="407.2" cy="289.7" r="2.95"/>
<circle cx="661.5" cy="268.3" r="2.95"/>
<circle cx="579.8" cy="257.0" r="2.95"/>
<circle cx="508.6" cy="289.8" r="2.95"/>
<circle cx="447.6" cy="287.1" r="2.95"/>
<circle cx="491.9" cy="289.9" r="2.95"/>
<circle cx="648.6" cy="289.8" r="2.95"/>
<circle cx="611.6" cy="261.5" r="2.95"/>
<circle cx="667.2" cy="275.0" r="2.95"/>
<circle cx="545.4" cy="263.8" r="2.95"/>
<circle cx="651.1" cy="280.1" r="2.95"/>
<circle cx="434.6" cy="289.7" r="2.95"/>
<circle cx="416.1" cy="276.5" r="2.95"/>
<circle cx="413.8" cy="274.7" r="2.95"/>
<circle cx="612.7" cy="274.0" r="2.95"/>
<circle cx="542.7" cy="283.6" r="2.95"/>
<circle cx="507.8" cy="282.4" r="2.95"/>
<circle cx="591.0" cy="264.8" r="2.95"/>
<circle cx="525.4" cy="290.1" r="2.95"/>
<circle cx="637.4" cy="248.9" r="2.95"/>
<circle cx="462.1" cy="271.9" r="2.95"/>
<circle cx="425.8" cy="270.7" r="2.95"/>
<circle cx="418.5" cy="211.5" r="2.95"/>
<circle cx="659.6" cy="270.3" r="2.95"/>
<circle cx="573.5" cy="282.2" r="2.95"/>
<circle cx="552.7" cy="275.9" r="2.95"/>
<circle cx="465.2" cy="217.4" r="2.95"/>
<circle cx="408.2" cy="216.4" r="2.95"/>
<circle cx="474.6" cy="264.5" r="2.95"/>
<circle cx="667.7" cy="289.9" r="2.95"/>
<circle cx="568.6" cy="288.0" r="2.95"/>
<circle cx="608.8" cy="268.8" r="2.95"/>
<circle cx="417.9" cy="282.6" r="2.95"/>
<circle cx="455.6" cy="283.2" r="2.95"/>
<circle cx="528.9" cy="274.1" r="2.95"/>
<circle cx="429.6" cy="230.4" r="2.95"/>
<circle cx="526.5" cy="277.6" r="2.95"/>
<circle cx="513.7" cy="267.0" r="2.95"/>
<circle cx="572.6" cy="280.6" r="2.95"/>
<circle cx="555.8" cy="265.0" r="2.95"/>
<circle cx="585.6" cy="255.4" r="2.95"/>
<circle cx="629.4" cy="271.7" r="2.95"/>
<circle cx="438.7" cy="205.9" r="2.95"/>
<circle cx="427.8" cy="290.0" r="2.95"/>
<circle cx="620.8" cy="261.0" r="2.95"/>
<circle cx="406.5" cy="229.4" r="2.95"/>
<circle cx="626.0" cy="277.5" r="2.95"/>
<circle cx="438.4" cy="207.2" r="2.95"/>
<circle cx="545.7" cy="286.2" r="2.95"/>
<circle cx="582.1" cy="255.8" r="2.95"/>
<circle cx="407.6" cy="220.6" r="2.95"/>
<circle cx="561.2" cy="271.6" r="2.95"/>
<circle cx="502.0" cy="289.8" r="2.95"/>
<circle cx="466.9" cy="289.8" r="2.95"/>
<circle cx="579.5" cy="263.4" r="2.95"/>
<circle cx="591.0" cy="281.0" r="2.95"/>
<circle cx="479.0" cy="241.2" r="2.95"/>
<circle cx="403.7" cy="242.2" r="2.95"/>
<circle cx="531.6" cy="289.8" r="2.95"/>
<circle cx="598.8" cy="288.1" r="2.95"/>
<circle cx="611.0" cy="276.9" r="2.95"/>
<circle cx="405.8" cy="219.1" r="2.95"/>
<circle cx="429.5" cy="236.3" r="2.95"/>
<circle cx="649.1" cy="253.3" r="2.95"/>
<circle cx="574.7" cy="277.7" r="2.95"/>
<circle cx="518.3" cy="274.9" r="2.95"/>
<circle cx="637.9" cy="289.7" r="2.95"/>
<circle cx="604.1" cy="259.4" r="2.95"/>
<circle cx="529.6" cy="290.0" r="2.95"/>
<circle cx="511.9" cy="272.2" r="2.95"/>
<circle cx="580.5" cy="290.2" r="2.95"/>
<circle cx="619.4" cy="273.5" r="2.95"/>
<circle cx="504.8" cy="289.8" r="2.95"/>
<circle cx="515.2" cy="278.3" r="2.95"/>
<circle cx="639.2" cy="277.8" r="2.95"/>
<circle cx="655.9" cy="268.7" r="2.95"/>
<circle cx="647.3" cy="288.4" r="2.95"/>
<circle cx="467.6" cy="280.2" r="2.95"/>
<circle cx="424.1" cy="287.5" r="2.95"/>
<circle cx="404.1" cy="239.8" r="2.95"/>
<circle cx="508.3" cy="287.0" r="2.95"/>
<circle cx="427.1" cy="213.3" r="2.95"/>
<circle cx="555.6" cy="270.3" r="2.95"/>
<circle cx="608.1" cy="267.8" r="2.95"/>
<circle cx="570.8" cy="270.6" r="2.95"/>
<circle cx="667.7" cy="290.1" r="2.95"/>
<circle cx="558.6" cy="290.1" r="2.95"/>
<circle cx="500.4" cy="270.3" r="2.95"/>
<circle cx="434.0" cy="219.7" r="2.95"/>
<circle cx="583.7" cy="253.6" r="2.95"/>
<circle cx="510.2" cy="278.3" r="2.95"/>
<circle cx="599.5" cy="265.6" r="2.95"/>
<circle cx="585.9" cy="257.3" r="2.95"/>
<circle cx="619.7" cy="281.7" r="2.95"/>
<circle cx="438.7" cy="272.9" r="2.95"/>
<circle cx="547.0" cy="280.1" r="2.95"/>
<circle cx="631.6" cy="274.5" r="2.95"/>
<circle cx="424.2" cy="210.7" r="2.95"/>
<circle cx="666.6" cy="251.8" r="2.95"/>
<circle cx="561.8" cy="271.7" r="2.95"/>
<circle cx="515.4" cy="289.7" r="2.95"/>
<circle cx="641.5" cy="290.2" r="2.95"/>
<circle cx="604.3" cy="267.0" r="2.95"/>
<circle cx="517.0" cy="282.0" r="2.95"/>
<circle cx="526.9" cy="272.8" r="2.95"/>
<circle cx="404.4" cy="224.4" r="2.95"/>
<circle cx="538.1" cy="289.9" r="2.95"/>
<circle cx="574.2" cy="281.7" r="2.95"/>
<circle cx="547.2" cy="277.0" r="2.95"/>
<circle cx="444.0" cy="215.3" r="2.95"/>
<circle cx="441.8" cy="216.2" r="2.95"/>
<circle cx="646.8" cy="283.7" r="2.95"/>
<circle cx="426.0" cy="274.0" r="2.95"/>
<circle cx="617.6" cy="269.3" r="2.95"/>
<circle cx="518.2" cy="289.1" r="2.95"/>
<circle cx="465.6" cy="290.2" r="2.95"/>
<circle cx="650.1" cy="261.9" r="2.95"/>
<circle cx="608.0" cy="262.6" r="2.95"/>
<circle cx="453.9" cy="232.7" r="2.95"/>
<circle cx="483.2" cy="264.1" r="2.95"/>
<circle cx="644.4" cy="268.6" r="2.95"/>
<circle cx="596.0" cy="270.3" r="2.95"/>
<circle cx="423.1" cy="223.6" r="2.95"/>
<circle cx="644.2" cy="285.1" r="2.95"/>
<circle cx="576.9" cy="290.2" r="2.95"/>
<circle cx="590.2" cy="286.3" r="2.95"/>
<circle cx="519.6" cy="256.1" r="2.95"/>
<circle cx="483.0" cy="285.4" r="2.95"/>
<circle cx="533.6" cy="273.5" r="2.95"/>
<circle cx="404.4" cy="224.1" r="2.95"/>
<circle cx="606.3" cy="268.7" r="2.95"/>
<circle cx="659.0" cy="267.4" r="2.95"/>
<circle cx="602.7" cy="271.8" r="2.95"/>
<circle cx="557.4" cy="289.9" r="2.95"/>
<circle cx="423.2" cy="216.0" r="2.95"/>
<circle cx="422.6" cy="279.0" r="2.95"/>
<circle cx="450.5" cy="290.1" r="2.95"/>
<circle cx="458.3" cy="274.2" r="2.95"/>
<circle cx="430.4" cy="278.0" r="2.95"/>
<circle cx="604.3" cy="245.1" r="2.95"/>
<circle cx="467.1" cy="289.3" r="2.95"/>
<circle cx="521.6" cy="270.0" r="2.95"/>
<circle cx="625.5" cy="279.4" r="2.95"/>
<circle cx="515.9" cy="275.3" r="2.95"/>
<circle cx="441.0" cy="220.4" r="2.95"/>
<circle cx="671.4" cy="285.6" r="2.95"/>
<circle cx="575.3" cy="254.5" r="2.95"/>
<circle cx="596.7" cy="290.2" r="2.95"/>
<circle cx="621.1" cy="260.0" r="2.95"/>
<circle cx="491.7" cy="266.4" r="2.95"/>
<circle cx="478.8" cy="284.0" r="2.95"/>
<circle cx="480.7" cy="233.4" r="2.95"/>
<circle cx="424.6" cy="253.7" r="2.95"/>
<circle cx="459.3" cy="287.4" r="2.95"/>
<circle cx="461.3" cy="271.2" r="2.95"/>
<circle cx="584.6" cy="267.5" r="2.95"/>
<circle cx="443.4" cy="269.9" r="2.95"/>
<circle cx="484.9" cy="236.2" r="2.95"/>
<circle cx="611.1" cy="251.3" r="2.95"/>
<circle cx="669.0" cy="285.3" r="2.95"/>
<circle cx="649.5" cy="289.9" r="2.95"/>
<circle cx="481.8" cy="270.5" r="2.95"/>
<circle cx="449.4" cy="253.1" r="2.95"/>
<circle cx="565.0" cy="275.5" r="2.95"/>
<circle cx="591.7" cy="270.9" r="2.95"/>
<circle cx="431.7" cy="240.2" r="2.95"/>
<circle cx="469.5" cy="220.2" r="2.95"/>
<circle cx="583.1" cy="290.2" r="2.95"/>
<circle cx="425.9" cy="275.2" r="2.95"/>
<circle cx="540.7" cy="290.3" r="2.95"/>
<circle cx="567.0" cy="289.9" r="2.95"/>
<circle cx="656.1" cy="271.4" r="2.95"/>
<circle cx="641.9" cy="287.2" r="2.95"/>
<circle cx="648.9" cy="253.2" r="2.95"/>
<circle cx="519.7" cy="279.3" r="2.95"/>
<circle cx="484.8" cy="272.0" r="2.95"/>
<circle cx="500.3" cy="264.8" r="2.95"/>
<circle cx="651.5" cy="275.3" r="2.95"/>
<circle cx="575.5" cy="286.8" r="2.95"/>
<circle cx="455.2" cy="229.5" r="2.95"/>
<circle cx="506.3" cy="252.6" r="2.95"/>
<circle cx="550.7" cy="286.0" r="2.95"/>
<circle cx="451.8" cy="268.1" r="2.95"/>
<circle cx="636.3" cy="263.9" r="2.95"/>
<circle cx="500.4" cy="282.9" r="2.95"/>
<circle cx="563.4" cy="274.3" r="2.95"/>
<circle cx="610.5" cy="271.7" r="2.95"/>
<circle cx="563.9" cy="266.1" r="2.95"/>
<circle cx="442.2" cy="280.1" r="2.95"/>
<circle cx="481.6" cy="265.9" r="2.95"/>
<circle cx="541.5" cy="289.7" r="2.95"/>
<circle cx="422.9" cy="280.7" r="2.95"/>
<circle cx="638.8" cy="288.8" r="2.95"/>
<circle cx="562.2" cy="279.4" r="2.95"/>
<circle cx="533.3" cy="274.4" r="2.95"/>
<circle cx="434.6" cy="263.3" r="2.95"/>
<circle cx="460.4" cy="290.2" r="2.95"/>
<circle cx="644.0" cy="265.0" r="2.95"/>
<circle cx="534.7" cy="288.7" r="2.95"/>
<circle cx="604.4" cy="271.1" r="2.95"/>
<circle cx="620.8" cy="281.7" r="2.95"/>
<circle cx="663.9" cy="282.9" r="2.95"/>
<circle cx="536.0" cy="280.2" r="2.95"/>
<circle cx="520.6" cy="272.4" r="2.95"/>
<circle cx="540.5" cy="283.7" r="2.95"/>
<circle cx="475.5" cy="234.7" r="2.95"/>
<circle cx="474.3" cy="287.9" r="2.95"/>
<circle cx="525.9" cy="270.1" r="2.95"/>
<circle cx="454.7" cy="269.5" r="2.95"/>
<circle cx="647.8" cy="262.1" r="2.95"/>
<circle cx="531.1" cy="289.2" r="2.95"/>
<circle cx="423.3" cy="290.2" r="2.95"/>
<circle cx="413.2" cy="240.8" r="2.95"/>
<circle cx="426.9" cy="257.2" r="2.95"/>
<circle cx="504.0" cy="265.4" r="2.95"/>
<circle cx="498.7" cy="289.8" r="2.95"/>
<circle cx="584.5" cy="265.7" r="2.95"/>
<circle cx="657.1" cy="288.9" r="2.95"/>
<circle cx="561.6" cy="278.3" r="2.95"/>
<circle cx="618.2" cy="247.1" r="2.95"/>
<circle cx="439.2" cy="241.5" r="2.95"/>
<circle cx="424.0" cy="245.0" r="2.95"/>
<circle cx="560.4" cy="289.9" r="2.95"/>
<circle cx="406.3" cy="283.9" r="2.95"/>
<circle cx="564.4" cy="283.1" r="2.95"/>
<circle cx="458.4" cy="277.0" r="2.95"/>
<circle cx="644.1" cy="274.3" r="2.95"/>
<circle cx="457.2" cy="277.3" r="2.95"/>
<circle cx="597.7" cy="284.0" r="2.95"/>
<circle cx="434.1" cy="213.3" r="2.95"/>
<circle cx="463.7" cy="266.6" r="2.95"/>
<circle cx="514.4" cy="281.0" r="2.95"/>
<circle cx="473.6" cy="280.7" r="2.95"/>
<circle cx="435.3" cy="232.3" r="2.95"/>
<circle cx="592.3" cy="290.1" r="2.95"/>
<circle cx="473.0" cy="285.1" r="2.95"/>
<circle cx="489.4" cy="289.8" r="2.95"/>
<circle cx="453.8" cy="279.5" r="2.95"/>
<circle cx="526.2" cy="283.0" r="2.95"/>
<circle cx="667.4" cy="274.9" r="2.95"/>
<circle cx="486.9" cy="290.0" r="2.95"/>
<circle cx="460.2" cy="264.7" r="2.95"/>
<circle cx="626.2" cy="253.9" r="2.95"/>
<circle cx="410.8" cy="214.1" r="2.95"/>
<circle cx="538.5" cy="283.5" r="2.95"/>
<circle cx="572.7" cy="289.9" r="2.95"/>
<circle cx="643.7" cy="249.4" r="2.95"/>
<circle cx="553.2" cy="286.1" r="2.95"/>
<circle cx="467.7" cy="219.9" r="2.95"/>
<circle cx="592.4" cy="252.9" r="2.95"/>
<circle cx="532.9" cy="283.7" r="2.95"/>
<circle cx="473.8" cy="270.6" r="2.95"/>
<circle cx="463.1" cy="279.4" r="2.95"/>
<circle cx="601.5" cy="255.2" r="2.95"/>
<circle cx="427.2" cy="270.4" r="2.95"/>
<circle cx="449.3" cy="274.7" r="2.95"/>
<circle cx="653.8" cy="289.9" r="2.95"/>
<circle cx="435.4" cy="214.1" r="2.95"/>
<circle cx="636.7" cy="286.3" r="2.95"/>
<circle cx="512.8" cy="289.8" r="2.95"/>
<circle cx="446.4" cy="271.1" r="2.95"/>
<circle cx="601.7" cy="283.7" r="2.95"/>
<circle cx="468.6" cy="289.9" r="2.95"/>
<circle cx="464.0" cy="279.8" r="2.95"/>
<circle cx="448.7" cy="278.2" r="2.95"/>
<circle cx="408.1" cy="267.2" r="2.95"/>
<circle cx="580.5" cy="248.3" r="2.95"/>
<circle cx="570.8" cy="290.0" r="2.95"/>
<circle cx="454.6" cy="283.1" r="2.95"/>
<circle cx="665.6" cy="276.2" r="2.95"/>
<circle cx="497.4" cy="271.5" r="2.95"/>
<circle cx="565.9" cy="279.2" r="2.95"/>
<circle cx="478.3" cy="270.3" r="2.95"/>
<circle cx="656.5" cy="279.8" r="2.95"/>
<circle cx="551.8" cy="290.3" r="2.95"/>
<circle cx="467.8" cy="271.7" r="2.95"/>
<circle cx="502.7" cy="276.7" r="2.95"/>
<circle cx="534.0" cy="289.8" r="2.95"/>
<circle cx="469.3" cy="218.5" r="2.95"/>
<circle cx="519.9" cy="288.1" r="2.95"/>
<circle cx="579.9" cy="249.5" r="2.95"/>
<circle cx="438.1" cy="283.4" r="2.95"/>
<circle cx="459.6" cy="235.6" r="2.95"/>
<circle cx="512.2" cy="273.9" r="2.95"/>
<circle cx="632.9" cy="260.9" r="2.95"/>
<circle cx="481.8" cy="272.7" r="2.95"/>
<circle cx="630.7" cy="259.3" r="2.95"/>
<circle cx="462.4" cy="271.9" r="2.95"/>
<circle cx="485.6" cy="270.2" r="2.95"/>
<circle cx="646.9" cy="287.2" r="2.95"/>
<circle cx="543.9" cy="267.5" r="2.95"/>
<circle cx="471.7" cy="245.7" r="2.95"/>
<circle cx="446.5" cy="263.6" r="2.95"/>
<circle cx="438.7" cy="280.4" r="2.95"/>
<circle cx="423.1" cy="280.9" r="2.95"/>
<circle cx="666.1" cy="253.1" r="2.95"/>
<circle cx="449.5" cy="276.8" r="2.95"/>
<circle cx="489.6" cy="280.9" r="2.95"/>
<circle cx="525.5" cy="268.6" r="2.95"/>
<circle cx="511.2" cy="280.7" r="2.95"/>
<circle cx="425.5" cy="281.2" r="2.95"/>
<circle cx="611.9" cy="251.6" r="2.95"/>
<circle cx="574.2" cy="281.1" r="2.95"/>
<circle cx="585.1" cy="290.0" r="2.95"/>
<circle cx="648.8" cy="290.0" r="2.95"/>
<circle cx="434.9" cy="241.0" r="2.95"/>
<circle cx="459.3" cy="206.1" r="2.95"/>
<circle cx="600.9" cy="272.6" r="2.95"/>
<circle cx="537.8" cy="266.0" r="2.95"/>
<circle cx="574.0" cy="276.5" r="2.95"/>
<circle cx="669.9" cy="290.0" r="2.95"/>
<circle cx="441.2" cy="264.3" r="2.95"/>
<circle cx="471.2" cy="254.2" r="2.95"/>
<circle cx="543.1" cy="272.7" r="2.95"/>
<circle cx="501.6" cy="284.8" r="2.95"/>
<circle cx="413.7" cy="235.8" r="2.95"/>
<circle cx="472.1" cy="273.5" r="2.95"/>
<circle cx="438.6" cy="200.3" r="2.95"/>
<circle cx="469.7" cy="286.1" r="2.95"/>
<circle cx="448.2" cy="263.8" r="2.95"/>
<circle cx="539.6" cy="284.9" r="2.95"/>
<circle cx="642.7" cy="290.0" r="2.95"/>
<circle cx="644.1" cy="245.3" r="2.95"/>
<circle cx="643.7" cy="231.0" r="2.95"/>
<circle cx="573.6" cy="273.0" r="2.95"/>
<circle cx="657.0" cy="285.3" r="2.95"/>
<circle cx="646.0" cy="263.2" r="2.95"/>
<circle cx="595.9" cy="270.9" r="2.95"/>
<circle cx="516.3" cy="280.1" r="2.95"/>
<circle cx="660.6" cy="264.2" r="2.95"/>
<circle cx="406.6" cy="240.1" r="2.95"/>
<circle cx="404.8" cy="218.8" r="2.95"/>
<circle cx="569.6" cy="277.7" r="2.95"/>
<circle cx="442.6" cy="252.7" r="2.95"/>
<circle cx="450.0" cy="278.1" r="2.95"/>
<circle cx="547.5" cy="290.2" r="2.95"/>
<circle cx="607.3" cy="289.9" r="2.95"/>
<circle cx="493.1" cy="290.1" r="2.95"/>
<circle cx="562.7" cy="269.7" r="2.95"/>
<circle cx="569.8" cy="273.4" r="2.95"/>
<circle cx="435.4" cy="253.2" r="2.95"/>
<circle cx="441.7" cy="242.4" r="2.95"/>
<circle cx="620.8" cy="261.4" r="2.95"/>
<circle cx="404.0" cy="247.6" r="2.95"/>
<circle cx="578.6" cy="275.6" r="2.95"/>
<circle cx="425.1" cy="210.8" r="2.95"/>
<circle cx="419.2" cy="264.9" r="2.95"/>
<circle cx="411.9" cy="274.4" r="2.95"/>
<circle cx="611.8" cy="274.9" r="2.95"/>
<circle cx="428.4" cy="212.8" r="2.95"/>
<circle cx="541.8" cy="278.3" r="2.95"/>
<circle cx="480.5" cy="273.4" r="2.95"/>
<circle cx="555.5" cy="290.0" r="2.95"/>
<circle cx="522.6" cy="278.1" r="2.95"/>
<circle cx="506.8" cy="288.8" r="2.95"/>
<circle cx="459.2" cy="290.2" r="2.95"/>
<circle cx="555.8" cy="275.9" r="2.95"/>
<circle cx="433.1" cy="286.3" r="2.95"/>
<circle cx="406.9" cy="255.6" r="2.95"/>
<circle cx="461.5" cy="289.9" r="2.95"/>
<circle cx="564.4" cy="280.4" r="2.95"/>
<circle cx="438.8" cy="201.1" r="2.95"/>
<circle cx="516.9" cy="282.4" r="2.95"/>
<circle cx="520.8" cy="272.8" r="2.95"/>
<circle cx="428.5" cy="213.0" r="2.95"/>
<circle cx="633.6" cy="259.9" r="2.95"/>
<circle cx="487.5" cy="234.3" r="2.95"/>
<circle cx="425.4" cy="287.4" r="2.95"/>
<circle cx="636.4" cy="282.4" r="2.95"/>
<circle cx="452.9" cy="289.7" r="2.95"/>
<circle cx="456.8" cy="285.5" r="2.95"/>
<circle cx="446.0" cy="258.2" r="2.95"/>
<circle cx="422.6" cy="232.2" r="2.95"/>
<circle cx="660.7" cy="265.1" r="2.95"/>
<circle cx="478.8" cy="289.9" r="2.95"/>
<circle cx="451.8" cy="279.5" r="2.95"/>
<circle cx="512.3" cy="273.6" r="2.95"/>
<circle cx="610.7" cy="286.9" r="2.95"/>
<circle cx="412.9" cy="289.9" r="2.95"/>
<circle cx="545.2" cy="288.3" r="2.95"/>
<circle cx="511.0" cy="278.9" r="2.95"/>
<circle cx="461.5" cy="263.6" r="2.95"/>
<circle cx="540.9" cy="281.3" r="2.95"/>
<circle cx="640.3" cy="250.8" r="2.95"/>
<circle cx="611.3" cy="278.9" r="2.95"/>
<circle cx="568.6" cy="275.5" r="2.95"/>
<circle cx="514.2" cy="273.2" r="2.95"/>
<circle cx="574.4" cy="290.0" r="2.95"/>
<circle cx="541.6" cy="259.1" r="2.95"/>
<circle cx="428.7" cy="283.6" r="2.95"/>
<circle cx="552.6" cy="282.5" r="2.95"/>
<circle cx="604.6" cy="266.6" r="2.95"/>
<circle cx="610.2" cy="279.4" r="2.95"/>
<circle cx="472.8" cy="263.3" r="2.95"/>
<circle cx="636.5" cy="290.3" r="2.95"/>
<circle cx="420.2" cy="213.1" r="2.95"/>
<circle cx="502.8" cy="239.0" r="2.95"/>
<circle cx="472.9" cy="227.8" r="2.95"/>
<circle cx="448.8" cy="290.2" r="2.95"/>
<circle cx="593.8" cy="283.0" r="2.95"/>
<circle cx="411.5" cy="213.6" r="2.95"/>
<circle cx="463.2" cy="263.0" r="2.95"/>
<circle cx="638.8" cy="286.5" r="2.95"/>
<circle cx="654.8" cy="284.8" r="2.95"/>
<circle cx="494.6" cy="287.4" r="2.95"/>
<circle cx="585.3" cy="273.4" r="2.95"/>
<circle cx="471.5" cy="275.5" r="2.95"/>
<circle cx="455.4" cy="290.0" r="2.95"/>
<circle cx="568.5" cy="267.0" r="2.95"/>
<circle cx="634.3" cy="272.1" r="2.95"/>
<circle cx="644.4" cy="288.9" r="2.95"/>
<circle cx="549.9" cy="282.0" r="2.95"/>
<circle cx="403.8" cy="214.0" r="2.95"/>
<circle cx="470.7" cy="225.7" r="2.95"/>
<circle cx="547.8" cy="273.2" r="2.95"/>
<circle cx="455.9" cy="275.7" r="2.95"/>
<circle cx="586.0" cy="288.6" r="2.95"/>
<circle cx="526.2" cy="284.5" r="2.95"/>
<circle cx="458.4" cy="263.6" r="2.95"/>
<circle cx="653.5" cy="281.3" r="2.95"/>
<circle cx="575.4" cy="288.2" r="2.95"/>
<circle cx="460.2" cy="274.6" r="2.95"/>
<circle cx="451.9" cy="264.2" r="2.95"/>
<circle cx="520.8" cy="289.7" r="2.95"/>
<circle cx="421.4" cy="244.9" r="2.95"/>
<circle cx="465.2" cy="211.8" r="2.95"/>
<circle cx="483.4" cy="232.4" r="2.95"/>
<circle cx="660.8" cy="282.9" r="2.95"/>
<circle cx="412.9" cy="288.6" r="2.95"/>
<circle cx="432.3" cy="229.7" r="2.95"/>
<circle cx="564.6" cy="275.7" r="2.95"/>
<circle cx="568.2" cy="289.9" r="2.95"/>
<circle cx="404.8" cy="229.6" r="2.95"/>
<circle cx="466.2" cy="262.2" r="2.95"/>
<circle cx="434.5" cy="282.9" r="2.95"/>
<circle cx="453.9" cy="281.8" r="2.95"/>
<circle cx="642.2" cy="274.8" r="2.95"/>
<circle cx="428.2" cy="277.6" r="2.95"/>
<circle cx="479.1" cy="263.5" r="2.95"/>
<circle cx="594.7" cy="265.2" r="2.95"/>
<circle cx="442.8" cy="219.0" r="2.95"/>
<circle cx="644.0" cy="256.8" r="2.95"/>
<circle cx="635.7" cy="272.3" r="2.95"/>
<circle cx="428.6" cy="245.4" r="2.95"/>
<circle cx="562.3" cy="288.8" r="2.95"/>
<circle cx="638.5" cy="263.1" r="2.95"/>
<circle cx="427.8" cy="212.4" r="2.95"/>
<circle cx="499.4" cy="272.7" r="2.95"/>
<circle cx="456.6" cy="274.8" r="2.95"/>
<circle cx="408.2" cy="290.1" r="2.95"/>
<circle cx="417.1" cy="267.6" r="2.95"/>
<circle cx="469.0" cy="290.0" r="2.95"/>
<circle cx="436.7" cy="230.0" r="2.95"/>
<circle cx="571.4" cy="265.8" r="2.95"/>
<circle cx="451.8" cy="254.5" r="2.95"/>
<circle cx="646.6" cy="265.2" r="2.95"/>
<circle cx="532.3" cy="271.2" r="2.95"/>
<circle cx="542.8" cy="275.6" r="2.95"/>
<circle cx="419.3" cy="290.0" r="2.95"/>
<circle cx="458.2" cy="290.3" r="2.95"/>
<circle cx="534.5" cy="272.6" r="2.95"/>
<circle cx="602.5" cy="259.5" r="2.95"/>
<circle cx="522.4" cy="289.8" r="2.95"/>
<circle cx="542.1" cy="271.6" r="2.95"/>
<circle cx="449.9" cy="258.4" r="2.95"/>
<circle cx="627.0" cy="275.5" r="2.95"/>
<circle cx="557.7" cy="266.1" r="2.95"/>
<circle cx="431.5" cy="242.0" r="2.95"/>
<circle cx="437.6" cy="216.7" r="2.95"/>
<circle cx="601.3" cy="290.0" r="2.95"/>
<circle cx="592.3" cy="264.4" r="2.95"/>
<circle cx="568.3" cy="272.2" r="2.95"/>
<circle cx="577.9" cy="264.6" r="2.95"/>
<circle cx="412.5" cy="290.1" r="2.95"/>
<circle cx="457.1" cy="278.7" r="2.95"/>
<circle cx="523.8" cy="271.0" r="2.95"/>
<circle cx="623.1" cy="289.7" r="2.95"/>
<circle cx="642.9" cy="284.7" r="2.95"/>
<circle cx="664.2" cy="275.5" r="2.95"/>
<circle cx="661.9" cy="273.6" r="2.95"/>
<circle cx="409.0" cy="286.9" r="2.95"/>
<circle cx="635.0" cy="260.1" r="2.95"/>
<circle cx="410.8" cy="267.6" r="2.95"/>
<circle cx="427.9" cy="240.1" r="2.95"/>
<circle cx="430.4" cy="214.5" r="2.95"/>
<circle cx="559.5" cy="290.2" r="2.95"/>
<circle cx="668.4" cy="262.6" r="2.95"/>
<circle cx="570.9" cy="259.9" r="2.95"/>
<circle cx="602.5" cy="255.4" r="2.95"/>
<circle cx="516.9" cy="267.8" r="2.95"/>
<circle cx="658.6" cy="273.2" r="2.95"/>
<circle cx="643.9" cy="284.9" r="2.95"/>
<circle cx="406.4" cy="214.3" r="2.95"/>
<circle cx="517.2" cy="279.7" r="2.95"/>
<circle cx="473.6" cy="289.7" r="2.95"/>
<circle cx="606.7" cy="271.1" r="2.95"/>
<circle cx="648.4" cy="256.2" r="2.95"/>
<circle cx="504.6" cy="274.5" r="2.95"/>
<circle cx="426.2" cy="267.2" r="2.95"/>
<circle cx="433.8" cy="290.2" r="2.95"/>
<circle cx="461.6" cy="271.6" r="2.95"/>
<circle cx="507.5" cy="275.2" r="2.95"/>
<circle cx="437.8" cy="277.5" r="2.95"/>
<circle cx="603.6" cy="286.7" r="2.95"/>
<circle cx="410.8" cy="218.6" r="2.95"/>
<circle cx="444.2" cy="270.7" r="2.95"/>
<circle cx="482.9" cy="285.2" r="2.95"/>
<circle cx="412.3" cy="231.7" r="2.95"/>
<circle cx="562.6" cy="265.9" r="2.95"/>
<circle cx="472.4" cy="229.3" r="2.95"/>
<circle cx="644.7" cy="266.5" r="2.95"/>
<circle cx="476.3" cy="271.9" r="2.95"/>
<circle cx="565.6" cy="283.8" r="2.95"/>
<circle cx="622.9" cy="278.5" r="2.95"/>
<circle cx="561.9" cy="273.9" r="2.95"/>
<circle cx="480.0" cy="270.8" r="2.95"/>
<circle cx="438.4" cy="290.0" r="2.95"/>
<circle cx="512.3" cy="276.4" r="2.95"/>
<circle cx="416.7" cy="225.0" r="2.95"/>
<circle cx="487.0" cy="257.3" r="2.95"/>
<circle cx="416.0" cy="260.2" r="2.95"/>
<circle cx="590.6" cy="281.7" r="2.95"/>
<circle cx="411.0" cy="280.4" r="2.95"/>
<circle cx="565.9" cy="289.0" r="2.95"/>
<circle cx="565.7" cy="275.9" r="2.95"/>
<circle cx="453.8" cy="275.4" r="2.95"/>
<circle cx="657.0" cy="277.8" r="2.95"/>
<circle cx="569.1" cy="273.7" r="2.95"/>
<circle cx="441.6" cy="264.2" r="2.95"/>
<circle cx="506.7" cy="273.4" r="2.95"/>
<circle cx="436.3" cy="244.8" r="2.95"/>
<circle cx="467.5" cy="284.5" r="2.95"/>
<circle cx="601.8" cy="262.6" r="2.95"/>
<circle cx="594.0" cy="289.9" r="2.95"/>
<circle cx="461.3" cy="284.1" r="2.95"/>
<circle cx="475.7" cy="275.0" r="2.95"/>
<circle cx="474.9" cy="290.0" r="2.95"/>
<circle cx="495.7" cy="229.7" r="2.95"/>
<circle cx="661.8" cy="284.4" r="2.95"/>
<circle cx="662.0" cy="268.2" r="2.95"/>
<circle cx="479.6" cy="269.1" r="2.95"/>
<circle cx="608.3" cy="239.8" r="2.95"/>
<circle cx="640.3" cy="268.5" r="2.95"/>
<circle cx="586.6" cy="265.7" r="2.95"/>
<circle cx="433.0" cy="230.8" r="2.95"/>
<circle cx="654.0" cy="279.3" r="2.95"/>
<circle cx="437.8" cy="270.0" r="2.95"/>
<circle cx="539.9" cy="267.6" r="2.95"/>
<circle cx="416.6" cy="211.7" r="2.95"/>
<circle cx="409.8" cy="214.7" r="2.95"/>
<circle cx="413.0" cy="232.9" r="2.95"/>
<circle cx="542.7" cy="280.6" r="2.95"/>
<circle cx="503.8" cy="286.1" r="2.95"/>
<circle cx="459.5" cy="207.6" r="2.95"/>
<circle cx="475.6" cy="260.8" r="2.95"/>
<circle cx="606.3" cy="278.9" r="2.95"/>
<circle cx="455.1" cy="256.0" r="2.95"/>
<circle cx="424.5" cy="283.0" r="2.95"/>
<circle cx="489.2" cy="234.3" r="2.95"/>
<circle cx="413.7" cy="271.4" r="2.95"/>
<circle cx="482.4" cy="290.0" r="2.95"/>
<circle cx="501.3" cy="280.5" r="2.95"/>
<circle cx="452.7" cy="285.5" r="2.95"/>
<circle cx="642.8" cy="284.2" r="2.95"/>
<circle cx="553.3" cy="277.4" r="2.95"/>
<circle cx="598.0" cy="258.1" r="2.95"/>
<circle cx="484.2" cy="285.5" r="2.95"/>
<circle cx="590.9" cy="273.6" r="2.95"/>
<circle cx="503.8" cy="289.9" r="2.95"/>
<circle cx="457.0" cy="271.5" r="2.95"/>
<circle cx="645.4" cy="280.3" r="2.95"/>
<circle cx="473.9" cy="226.9" r="2.95"/>
<circle cx="461.1" cy="253.4" r="2.95"/>
<circle cx="642.5" cy="270.2" r="2.95"/>
<circle cx="539.5" cy="266.5" r="2.95"/>
<circle cx="509.2" cy="267.0" r="2.95"/>
<circle cx="536.8" cy="276.8" r="2.95"/>
<circle cx="429.9" cy="289.7" r="2.95"/>
<circle cx="575.9" cy="290.2" r="2.95"/>
<circle cx="419.4" cy="286.9" r="2.95"/>
<circle cx="478.6" cy="244.0" r="2.95"/>
<circle cx="512.5" cy="263.2" r="2.95"/>
<circle cx="457.8" cy="281.7" r="2.95"/>
<circle cx="513.3" cy="273.8" r="2.95"/>
<circle cx="522.0" cy="275.3" r="2.95"/>
<circle cx="462.3" cy="276.8" r="2.95"/>
<circle cx="581.4" cy="265.8" r="2.95"/>
<circle cx="495.4" cy="239.4" r="2.95"/>
<circle cx="547.1" cy="260.6" r="2.95"/>
<circle cx="506.2" cy="266.8" r="2.95"/>
<circle cx="406.9" cy="275.5" r="2.95"/>
<circle cx="447.2" cy="280.4" r="2.95"/>
<circle cx="527.6" cy="289.8" r="2.95"/>
<circle cx="433.9" cy="257.5" r="2.95"/>
<circle cx="425.9" cy="287.5" r="2.95"/>
<circle cx="588.2" cy="278.2" r="2.95"/>
<circle cx="567.9" cy="279.2" r="2.95"/>
<circle cx="586.3" cy="275.5" r="2.95"/>
<circle cx="476.4" cy="269.0" r="2.95"/>
<circle cx="495.7" cy="243.1" r="2.95"/>
<circle cx="411.2" cy="243.4" r="2.95"/>
<circle cx="625.1" cy="263.5" r="2.95"/>
<circle cx="572.4" cy="266.1" r="2.95"/>
<circle cx="488.3" cy="237.1" r="2.95"/>
<circle cx="496.9" cy="266.5" r="2.95"/>
<circle cx="557.7" cy="278.5" r="2.95"/>
<circle cx="485.9" cy="242.7" r="2.95"/>
<circle cx="426.7" cy="268.4" r="2.95"/>
<circle cx="441.1" cy="290.0" r="2.95"/>
<circle cx="419.6" cy="280.5" r="2.95"/>
<circle cx="443.4" cy="274.7" r="2.95"/>
<circle cx="491.9" cy="285.2" r="2.95"/>
<circle cx="637.2" cy="287.8" r="2.95"/>
<circle cx="662.4" cy="281.6" r="2.95"/>
<circle cx="408.3" cy="271.6" r="2.95"/>
<circle cx="410.1" cy="271.5" r="2.95"/>
<circle cx="604.3" cy="278.8" r="2.95"/>
<circle cx="541.6" cy="275.9" r="2.95"/>
<circle cx="476.7" cy="284.5" r="2.95"/>
<circle cx="563.3" cy="290.3" r="2.95"/>
<circle cx="413.8" cy="286.0" r="2.95"/>
<circle cx="468.8" cy="247.3" r="2.95"/>
<circle cx="622.0" cy="268.3" r="2.95"/>
<circle cx="417.4" cy="285.6" r="2.95"/>
<circle cx="413.7" cy="241.3" r="2.95"/>
<circle cx="492.6" cy="272.3" r="2.95"/>
<circle cx="578.8" cy="253.1" r="2.95"/>
<circle cx="627.6" cy="270.2" r="2.95"/>
<circle cx="572.5" cy="278.4" r="2.95"/>
<circle cx="648.0" cy="282.1" r="2.95"/>
<circle cx="600.6" cy="289.6" r="2.95"/>
<circle cx="547.6" cy="282.7" r="2.95"/>
<circle cx="442.2" cy="259.1" r="2.95"/>
<circle cx="525.0" cy="276.9" r="2.95"/>
<circle cx="502.9" cy="283.3" r="2.95"/>
<circle cx="653.5" cy="282.9" r="2.95"/>
<circle cx="465.2" cy="215.5" r="2.95"/>
<circle cx="617.8" cy="260.3" r="2.95"/>
<circle cx="506.4" cy="289.8" r="2.95"/>
<circle cx="425.9" cy="229.5" r="2.95"/>
<circle cx="532.4" cy="260.1" r="2.95"/>
<circle cx="522.1" cy="268.7" r="2.95"/>
<circle cx="421.0" cy="214.7" r="2.95"/>
<circle cx="552.5" cy="263.8" r="2.95"/>
<circle cx="434.1" cy="270.7" r="2.95"/>
<circle cx="579.0" cy="290.0" r="2.95"/>
<circle cx="612.1" cy="246.4" r="2.95"/>
<circle cx="669.9" cy="281.0" r="2.95"/>
<circle cx="589.7" cy="290.2" r="2.95"/>
<circle cx="500.5" cy="289.5" r="2.95"/>
<circle cx="520.1" cy="277.7" r="2.95"/>
<circle cx="453.1" cy="273.9" r="2.95"/>
<circle cx="416.7" cy="285.5" r="2.95"/>
<circle cx="424.3" cy="220.0" r="2.95"/>
<circle cx="505.9" cy="287.0" r="2.95"/>
<circle cx="620.2" cy="272.2" r="2.95"/>
<circle cx="573.5" cy="275.0" r="2.95"/>
<circle cx="667.3" cy="261.3" r="2.95"/>
<circle cx="469.6" cy="254.1" r="2.95"/>
<circle cx="652.9" cy="269.5" r="2.95"/>
<circle cx="476.9" cy="238.7" r="2.95"/>
<circle cx="504.7" cy="242.2" r="2.95"/>
<circle cx="468.5" cy="281.6" r="2.95"/>
<circle cx="417.6" cy="213.5" r="2.95"/>
<circle cx="535.5" cy="290.2" r="2.95"/>
<circle cx="651.9" cy="268.3" r="2.95"/>
<circle cx="526.0" cy="282.5" r="2.95"/>
<circle cx="657.4" cy="284.3" r="2.95"/>
<circle cx="549.3" cy="280.7" r="2.95"/>
<circle cx="511.8" cy="290.2" r="2.95"/>
<circle cx="491.9" cy="230.2" r="2.95"/>
<circle cx="422.0" cy="273.2" r="2.95"/>
<circle cx="421.9" cy="219.7" r="2.95"/>
<circle cx="435.5" cy="281.5" r="2.95"/>
<circle cx="413.8" cy="232.8" r="2.95"/>
<circle cx="440.9" cy="213.0" r="2.95"/>
<circle cx="501.8" cy="267.7" r="2.95"/>
<circle cx="547.6" cy="269.6" r="2.95"/>
<circle cx="416.7" cy="213.5" r="2.95"/>
<circle cx="618.6" cy="281.9" r="2.95"/>
<circle cx="630.9" cy="290.2" r="2.95"/>
<circle cx="419.3" cy="214.4" r="2.95"/>
<circle cx="420.4" cy="212.8" r="2.95"/>
<circle cx="533.2" cy="268.9" r="2.95"/>
<circle cx="588.9" cy="289.7" r="2.95"/>
<circle cx="435.4" cy="241.9" r="2.95"/>
<circle cx="543.1" cy="269.2" r="2.95"/>
<circle cx="521.8" cy="270.8" r="2.95"/>
<circle cx="420.8" cy="211.8" r="2.95"/>
<circle cx="443.3" cy="257.8" r="2.95"/>
<circle cx="599.0" cy="272.8" r="2.95"/>
<circle cx="634.5" cy="260.3" r="2.95"/>
<circle cx="410.8" cy="290.1" r="2.95"/>
<circle cx="446.5" cy="265.4" r="2.95"/>
<circle cx="538.5" cy="281.3" r="2.95"/>
<circle cx="494.3" cy="240.7" r="2.95"/>
<circle cx="421.5" cy="290.2" r="2.95"/>
<circle cx="575.2" cy="249.2" r="2.95"/>
<circle cx="611.1" cy="290.2" r="2.95"/>
<circle cx="619.7" cy="279.7" r="2.95"/>
<circle cx="560.4" cy="288.2" r="2.95"/>
<circle cx="408.5" cy="220.3" r="2.95"/>
<circle cx="444.2" cy="269.1" r="2.95"/>
<circle cx="477.6" cy="290.1" r="2.95"/>
<circle cx="432.6" cy="211.7" r="2.95"/>
<circle cx="504.6" cy="264.7" r="2.95"/>
<circle cx="510.9" cy="284.3" r="2.95"/>
<circle cx="432.3" cy="228.8" r="2.95"/>
<circle cx="409.0" cy="276.3" r="2.95"/>
<circle cx="556.9" cy="281.1" r="2.95"/>
<circle cx="584.3" cy="260.2" r="2.95"/>
<circle cx="442.1" cy="215.0" r="2.95"/>
<circle cx="463.0" cy="274.0" r="2.95"/>
<circle cx="573.9" cy="247.9" r="2.95"/>
<circle cx="443.9" cy="290.1" r="2.95"/>
<circle cx="558.6" cy="282.8" r="2.95"/>
<circle cx="597.3" cy="270.8" r="2.95"/>
<circle cx="493.1" cy="271.5" r="2.95"/>
<circle cx="618.2" cy="285.3" r="2.95"/>
<circle cx="447.6" cy="269.3" r="2.95"/>
<circle cx="534.0" cy="266.3" r="2.95"/>
<circle cx="430.4" cy="240.8" r="2.95"/>
<circle cx="407.4" cy="254.8" r="2.95"/>
<circle cx="440.5" cy="283.9" r="2.95"/>
<circle cx="640.1" cy="283.9" r="2.95"/>
<circle cx="424.9" cy="290.3" r="2.95"/>
<circle cx="430.7" cy="211.9" r="2.95"/>
<circle cx="470.1" cy="286.0" r="2.95"/>
<circle cx="428.4" cy="285.6" r="2.95"/>
<circle cx="456.5" cy="273.3" r="2.95"/>
<circle cx="529.1" cy="283.1" r="2.95"/>
<circle cx="617.2" cy="288.1" r="2.95"/>
<circle cx="575.5" cy="287.6" r="2.95"/>
<circle cx="489.9" cy="285.1" r="2.95"/>
<circle cx="649.3" cy="274.9" r="2.95"/>
<circle cx="417.7" cy="279.4" r="2.95"/>
<circle cx="592.0" cy="262.0" r="2.95"/>
<circle cx="513.6" cy="289.8" r="2.95"/>
<circle cx="638.4" cy="261.1" r="2.95"/>
<circle cx="667.9" cy="286.9" r="2.95"/>
<circle cx="546.1" cy="274.4" r="2.95"/>
<circle cx="649.7" cy="286.2" r="2.95"/>
<circle cx="452.8" cy="263.6" r="2.95"/>
<circle cx="448.5" cy="218.0" r="2.95"/>
<circle cx="451.6" cy="280.6" r="2.95"/>
<circle cx="558.2" cy="276.2" r="2.95"/>
<circle cx="610.0" cy="277.9" r="2.95"/>
<circle cx="410.4" cy="235.7" r="2.95"/>
<circle cx="446.9" cy="270.9" r="2.95"/>
<circle cx="492.6" cy="231.3" r="2.95"/>
<circle cx="493.6" cy="242.6" r="2.95"/>
<circle cx="468.2" cy="288.3" r="2.95"/>
<circle cx="548.4" cy="267.3" r="2.95"/>
<circle cx="569.5" cy="281.8" r="2.95"/>
<circle cx="474.5" cy="283.1" r="2.95"/>
<circle cx="627.7" cy="277.8" r="2.95"/>
<circle cx="614.3" cy="264.1" r="2.95"/>
<circle cx="439.0" cy="262.2" r="2.95"/>
<circle cx="501.2" cy="276.1" r="2.95"/>
<circle cx="429.8" cy="216.2" r="2.95"/>
<circle cx="652.0" cy="272.3" r="2.95"/>
<circle cx="437.5" cy="252.4" r="2.95"/>
<circle cx="424.1" cy="210.7" r="2.95"/>
<circle cx="510.4" cy="290.2" r="2.95"/>
<circle cx="520.8" cy="282.4" r="2.95"/>
<circle cx="490.3" cy="234.1" r="2.95"/>
<circle cx="405.8" cy="289.7" r="2.95"/>
<circle cx="483.5" cy="282.4" r="2.95"/>
<circle cx="650.1" cy="260.5" r="2.95"/>
<circle cx="619.3" cy="289.9" r="2.95"/>
<circle cx="657.0" cy="278.1" r="2.95"/>
<circle cx="434.6" cy="251.2" r="2.95"/>
<circle cx="517.0" cy="279.7" r="2.95"/>
<circle cx="559.5" cy="275.6" r="2.95"/>
<circle cx="436.7" cy="268.5" r="2.95"/>
<circle cx="481.2" cy="280.9" r="2.95"/>
<circle cx="414.0" cy="240.2" r="2.95"/>
<circle cx="545.4" cy="287.9" r="2.95"/>
<circle cx="490.5" cy="289.7" r="2.95"/>
<circle cx="625.6" cy="260.5" r="2.95"/>
<circle cx="423.5" cy="285.2" r="2.95"/>
<circle cx="668.8" cy="272.5" r="2.95"/>
<circle cx="495.2" cy="285.6" r="2.95"/>
<circle cx="463.0" cy="290.1" r="2.95"/>
<circle cx="628.4" cy="270.6" r="2.95"/>
<circle cx="411.9" cy="279.9" r="2.95"/>
<circle cx="425.6" cy="263.2" r="2.95"/>
<circle cx="524.1" cy="269.2" r="2.95"/>
<circle cx="422.6" cy="270.9" r="2.95"/>
<circle cx="560.1" cy="276.1" r="2.95"/>
<circle cx="572.3" cy="286.7" r="2.95"/>
<circle cx="658.3" cy="289.8" r="2.95"/>
<circle cx="534.5" cy="277.1" r="2.95"/>
<circle cx="579.4" cy="280.8" r="2.95"/>
<circle cx="477.6" cy="266.8" r="2.95"/>
<circle cx="425.4" cy="289.7" r="2.95"/>
<circle cx="614.1" cy="268.1" r="2.95"/>
<circle cx="447.5" cy="267.2" r="2.95"/>
<circle cx="663.6" cy="246.5" r="2.95"/>
<circle cx="454.6" cy="274.2" r="2.95"/>
<circle cx="559.8" cy="283.4" r="2.95"/>
<circle cx="410.3" cy="281.6" r="2.95"/>
<circle cx="616.3" cy="277.7" r="2.95"/>
<circle cx="417.8" cy="231.3" r="2.95"/>
<circle cx="427.8" cy="251.2" r="2.95"/>
<circle cx="417.4" cy="261.5" r="2.95"/>
<circle cx="503.8" cy="286.3" r="2.95"/>
<circle cx="657.1" cy="290.2" r="2.95"/>
<circle cx="459.7" cy="284.6" r="2.95"/>
<circle cx="480.4" cy="265.0" r="2.95"/>
<circle cx="643.2" cy="277.9" r="2.95"/>
<circle cx="431.6" cy="215.6" r="2.95"/>
<circle cx="420.5" cy="216.4" r="2.95"/>
<circle cx="611.2" cy="258.4" r="2.95"/>
<circle cx="581.1" cy="266.0" r="2.95"/>
<circle cx="439.5" cy="253.5" r="2.95"/>
<circle cx="474.1" cy="289.4" r="2.95"/>
<circle cx="510.2" cy="289.8" r="2.95"/>
<circle cx="479.8" cy="244.4" r="2.95"/>
<circle cx="485.2" cy="268.4" r="2.95"/>
<circle cx="426.6" cy="257.4" r="2.95"/>
<circle cx="579.7" cy="255.5" r="2.95"/>
<circle cx="646.2" cy="263.5" r="2.95"/>
<circle cx="406.1" cy="268.0" r="2.95"/>
<circle cx="542.1" cy="286.8" r="2.95"/>
<circle cx="490.5" cy="282.2" r="2.95"/>
<circle cx="652.6" cy="268.7" r="2.95"/>
<circle cx="548.7" cy="284.3" r="2.95"/>
<circle cx="533.2" cy="289.8" r="2.95"/>
<circle cx="439.9" cy="245.6" r="2.95"/>
<circle cx="475.4" cy="233.2" r="2.95"/>
<circle cx="428.7" cy="218.6" r="2.95"/>
<circle cx="443.6" cy="261.9" r="2.95"/>
<circle cx="515.3" cy="289.8" r="2.95"/>
<circle cx="565.1" cy="267.2" r="2.95"/>
<circle cx="569.1" cy="263.0" r="2.95"/>
<circle cx="641.9" cy="257.1" r="2.95"/>
<circle cx="589.8" cy="243.6" r="2.95"/>
<circle cx="593.0" cy="281.1" r="2.95"/>
<circle cx="474.8" cy="275.9" r="2.95"/>
<circle cx="518.7" cy="267.3" r="2.95"/>
<circle cx="569.8" cy="272.2" r="2.95"/>
<circle cx="561.9" cy="270.4" r="2.95"/>
<circle cx="652.6" cy="289.9" r="2.95"/>
<circle cx="427.5" cy="232.5" r="2.95"/>
<circle cx="621.6" cy="283.5" r="2.95"/>
<circle cx="501.1" cy="290.0" r="2.95"/>
<circle cx="604.3" cy="290.2" r="2.95"/>
<circle cx="467.9" cy="219.3" r="2.95"/>
<circle cx="436.0" cy="249.9" r="2.95"/>
<circle cx="481.2" cy="279.8" r="2.95"/>
<circle cx="489.0" cy="269.8" r="2.95"/>
<circle cx="418.3" cy="213.9" r="2.95"/>
<circle cx="508.7" cy="278.3" r="2.95"/>
<circle cx="406.4" cy="287.4" r="2.95"/>
<circle cx="431.3" cy="290.3" r="2.95"/>
<circle cx="471.6" cy="289.9" r="2.95"/>
<circle cx="442.4" cy="220.0" r="2.95"/>
<circle cx="601.0" cy="266.7" r="2.95"/>
<circle cx="649.2" cy="264.0" r="2.95"/>
<circle cx="492.1" cy="235.2" r="2.95"/>
<circle cx="548.3" cy="278.2" r="2.95"/>
<circle cx="443.3" cy="236.6" r="2.95"/>
<circle cx="581.4" cy="289.7" r="2.95"/>
<circle cx="470.0" cy="284.1" r="2.95"/>
<circle cx="459.5" cy="206.4" r="2.95"/>
<circle cx="419.3" cy="220.1" r="2.95"/>
<circle cx="528.8" cy="290.2" r="2.95"/>
<circle cx="652.0" cy="274.4" r="2.95"/>
<circle cx="486.2" cy="290.1" r="2.95"/>
<circle cx="451.3" cy="224.1" r="2.95"/>
<circle cx="499.0" cy="288.3" r="2.95"/>
<circle cx="561.0" cy="282.6" r="2.95"/>
<circle cx="499.6" cy="279.3" r="2.95"/>
<circle cx="534.8" cy="274.8" r="2.95"/>
<circle cx="461.0" cy="287.7" r="2.95"/>
<circle cx="597.9" cy="239.1" r="2.95"/>
<circle cx="433.3" cy="283.4" r="2.95"/>
<circle cx="627.5" cy="260.6" r="2.95"/>
<circle cx="406.7" cy="256.8" r="2.95"/>
<circle cx="613.7" cy="267.5" r="2.95"/>
<circle cx="644.4" cy="288.3" r="2.95"/>
<circle cx="410.4" cy="267.7" r="2.95"/>
<circle cx="520.9" cy="264.4" r="2.95"/>
<circle cx="670.9" cy="267.1" r="2.95"/>
<circle cx="500.6" cy="257.8" r="2.95"/>
<circle cx="502.6" cy="274.0" r="2.95"/>
<circle cx="605.7" cy="263.1" r="2.95"/>
<circle cx="609.8" cy="286.9" r="2.95"/>
<circle cx="509.2" cy="289.9" r="2.95"/>
<circle cx="410.9" cy="279.5" r="2.95"/>
<circle cx="444.5" cy="276.9" r="2.95"/>
<circle cx="417.0" cy="289.7" r="2.95"/>
<circle cx="461.5" cy="213.4" r="2.95"/>
<circle cx="490.6" cy="251.4" r="2.95"/>
<circle cx="474.3" cy="233.6" r="2.95"/>
<circle cx="621.5" cy="284.8" r="2.95"/>
<circle cx="582.2" cy="279.2" r="2.95"/>
<circle cx="427.1" cy="285.0" r="2.95"/>
<circle cx="647.3" cy="287.2" r="2.95"/>
<circle cx="449.5" cy="264.0" r="2.95"/>
<circle cx="449.3" cy="269.9" r="2.95"/>
<circle cx="441.6" cy="243.1" r="2.95"/>
<circle cx="636.9" cy="285.9" r="2.95"/>
<circle cx="614.2" cy="265.2" r="2.95"/>
<circle cx="488.4" cy="232.9" r="2.95"/>
<circle cx="592.7" cy="235.6" r="2.95"/>
<circle cx="605.8" cy="253.4" r="2.95"/>
<circle cx="456.2" cy="270.1" r="2.95"/>
<circle cx="496.9" cy="256.4" r="2.95"/>
<circle cx="425.5" cy="231.4" r="2.95"/>
<circle cx="442.9" cy="220.1" r="2.95"/>
<circle cx="442.8" cy="278.9" r="2.95"/>
<circle cx="451.7" cy="290.1" r="2.95"/>
<circle cx="577.8" cy="270.1" r="2.95"/>
<circle cx="510.4" cy="287.2" r="2.95"/>
<circle cx="447.6" cy="290.2" r="2.95"/>
<circle cx="417.1" cy="277.6" r="2.95"/>
<circle cx="590.0" cy="289.9" r="2.95"/>
<circle cx="602.7" cy="259.1" r="2.95"/>
<circle cx="475.9" cy="290.0" r="2.95"/>
<circle cx="548.8" cy="289.9" r="2.95"/>
<circle cx="428.9" cy="290.2" r="2.95"/>
<circle cx="416.6" cy="211.3" r="2.95"/>
<circle cx="568.5" cy="275.1" r="2.95"/>
<circle cx="480.6" cy="290.3" r="2.95"/>
<circle cx="594.2" cy="250.3" r="2.95"/>
<circle cx="627.1" cy="283.7" r="2.95"/>
<circle cx="643.5" cy="285.2" r="2.95"/>
<circle cx="540.0" cy="265.2" r="2.95"/>
<circle cx="636.5" cy="282.2" r="2.95"/>
<circle cx="421.9" cy="228.2" r="2.95"/>
<circle cx="498.0" cy="276.1" r="2.95"/>
<circle cx="590.2" cy="251.5" r="2.95"/>
<circle cx="615.9" cy="270.2" r="2.95"/>
<circle cx="646.7" cy="265.0" r="2.95"/>
<circle cx="608.3" cy="289.9" r="2.95"/>
<circle cx="590.2" cy="277.4" r="2.95"/>
<circle cx="668.8" cy="260.4" r="2.95"/>
<circle cx="588.5" cy="264.8" r="2.95"/>
<circle cx="420.0" cy="215.2" r="2.95"/>
<circle cx="453.5" cy="287.8" r="2.95"/>
<circle cx="447.5" cy="282.2" r="2.95"/>
<circle cx="543.5" cy="280.7" r="2.95"/>
<circle cx="543.6" cy="279.2" r="2.95"/>
<circle cx="579.2" cy="287.0" r="2.95"/>
<circle cx="413.5" cy="263.1" r="2.95"/>
<circle cx="593.4" cy="268.6" r="2.95"/>
<circle cx="428.4" cy="242.8" r="2.95"/>
<circle cx="437.4" cy="198.6" r="2.95"/>
<circle cx="412.6" cy="272.8" r="2.95"/>
<circle cx="418.8" cy="219.9" r="2.95"/>
<circle cx="637.1" cy="261.0" r="2.95"/>
<circle cx="420.7" cy="230.2" r="2.95"/>
<circle cx="438.2" cy="255.7" r="2.95"/>
<circle cx="653.5" cy="278.5" r="2.95"/>
<circle cx="643.1" cy="259.8" r="2.95"/>
<circle cx="472.6" cy="270.8" r="2.95"/>
<circle cx="407.4" cy="224.4" r="2.95"/>
<circle cx="666.6" cy="284.5" r="2.95"/>
<circle cx="421.8" cy="281.4" r="2.95"/>
<circle cx="558.2" cy="280.3" r="2.95"/>
<circle cx="409.6" cy="252.8" r="2.95"/>
<circle cx="463.1" cy="286.6" r="2.95"/>
<circle cx="627.6" cy="289.9" r="2.95"/>
<circle cx="500.0" cy="282.0" r="2.95"/>
<circle cx="580.8" cy="249.0" r="2.95"/>
<circle cx="480.1" cy="280.9" r="2.95"/>
<circle cx="549.8" cy="266.0" r="2.95"/>
<circle cx="512.5" cy="269.4" r="2.95"/>
<circle cx="519.7" cy="289.8" r="2.95"/>
<circle cx="409.8" cy="241.3" r="2.95"/>
<circle cx="497.5" cy="285.3" r="2.95"/>
<circle cx="550.7" cy="290.0" r="2.95"/>
<circle cx="543.6" cy="290.2" r="2.95"/>
<circle cx="574.7" cy="272.3" r="2.95"/>
<circle cx="516.9" cy="269.7" r="2.95"/>
<circle cx="622.9" cy="268.0" r="2.95"/>
<circle cx="434.9" cy="266.6" r="2.95"/>
<circle cx="638.4" cy="265.8" r="2.95"/>
<circle cx="507.2" cy="265.6" r="2.95"/>
<circle cx="456.3" cy="280.4" r="2.95"/>
<circle cx="425.8" cy="244.9" r="2.95"/>
<circle cx="454.2" cy="265.4" r="2.95"/>
<circle cx="579.6" cy="268.9" r="2.95"/>
<circle cx="617.1" cy="264.8" r="2.95"/>
<circle cx="560.6" cy="286.2" r="2.95"/>
<circle cx="518.7" cy="278.4" r="2.95"/>
<circle cx="621.2" cy="277.6" r="2.95"/>
<circle cx="618.2" cy="271.0" r="2.95"/>
<circle cx="428.3" cy="225.0" r="2.95"/>
<circle cx="425.5" cy="218.8" r="2.95"/>
<circle cx="671.1" cy="289.8" r="2.95"/>
<circle cx="526.5" cy="267.9" r="2.95"/>
<circle cx="546.6" cy="279.2" r="2.95"/>
<circle cx="434.7" cy="260.1" r="2.95"/>
<circle cx="417.9" cy="289.8" r="2.95"/>
<circle cx="598.8" cy="257.7" r="2.95"/>
<circle cx="416.7" cy="241.1" r="2.95"/>
<circle cx="483.3" cy="269.3" r="2.95"/>
<circle cx="555.9" cy="269.1" r="2.95"/>
<circle cx="450.9" cy="273.8" r="2.95"/>
<circle cx="487.8" cy="276.3" r="2.95"/>
<circle cx="425.4" cy="229.2" r="2.95"/>
<circle cx="489.3" cy="246.0" r="2.95"/>
<circle cx="425.5" cy="231.1" r="2.95"/>
<circle cx="485.5" cy="236.8" r="2.95"/>
<circle cx="632.0" cy="265.7" r="2.95"/>
<circle cx="448.9" cy="289.6" r="2.95"/>
<circle cx="523.9" cy="272.2" r="2.95"/>
<circle cx="525.8" cy="275.2" r="2.95"/>
<circle cx="608.6" cy="271.9" r="2.95"/>
<circle cx="648.2" cy="269.0" r="2.95"/>
<circle cx="460.2" cy="234.9" r="2.95"/>
<circle cx="658.8" cy="266.1" r="2.95"/>
<circle cx="472.2" cy="279.6" r="2.95"/>
<circle cx="620.3" cy="288.6" r="2.95"/>
<circle cx="473.8" cy="282.4" r="2.95"/>
<circle cx="590.0" cy="256.3" r="2.95"/>
<circle cx="499.5" cy="284.0" r="2.95"/>
<circle cx="624.5" cy="288.0" r="2.95"/>
<circle cx="440.0" cy="283.9" r="2.95"/>
<circle cx="611.7" cy="277.0" r="2.95"/>
<circle cx="459.1" cy="271.8" r="2.95"/>
<circle cx="585.5" cy="249.1" r="2.95"/>
<circle cx="480.8" cy="279.1" r="2.95"/>
<circle cx="561.8" cy="278.4" r="2.95"/>
<circle cx="431.6" cy="212.5" r="2.95"/>
<circle cx="552.3" cy="289.4" r="2.95"/>
<circle cx="410.4" cy="274.6" r="2.95"/>
<circle cx="582.0" cy="264.8" r="2.95"/>
<circle cx="421.2" cy="274.4" r="2.95"/>
<circle cx="579.4" cy="277.9" r="2.95"/>
<circle cx="465.2" cy="284.8" r="2.95"/>
<circle cx="643.9" cy="281.5" r="2.95"/>
<circle cx="438.8" cy="206.5" r="2.95"/>
<circle cx="610.3" cy="253.2" r="2.95"/>
<circle cx="620.3" cy="287.9" r="2.95"/>
<circle cx="409.9" cy="223.5" r="2.95"/>
<circle cx="492.5" cy="280.2" r="2.95"/>
<circle cx="469.4" cy="290.1" r="2.95"/>
<circle cx="647.5" cy="289.8" r="2.95"/>
<circle cx="526.4" cy="290.0" r="2.95"/>
<circle cx="470.4" cy="221.6" r="2.95"/>
<circle cx="456.9" cy="277.7" r="2.95"/>
<circle cx="664.7" cy="264.5" r="2.95"/>
<circle cx="608.7" cy="259.2" r="2.95"/>
<circle cx="420.1" cy="266.8" r="2.95"/>
<circle cx="604.0" cy="247.5" r="2.95"/>
<circle cx="455.9" cy="284.2" r="2.95"/>
<circle cx="566.2" cy="269.8" r="2.95"/>
<circle cx="415.8" cy="286.1" r="2.95"/>
<circle cx="660.0" cy="289.7" r="2.95"/>
<circle cx="404.1" cy="245.1" r="2.95"/>
<circle cx="464.5" cy="275.6" r="2.95"/>
<circle cx="571.2" cy="290.3" r="2.95"/>
<circle cx="569.2" cy="270.7" r="2.95"/>
<circle cx="550.1" cy="265.8" r="2.95"/>
<circle cx="633.8" cy="290.2" r="2.95"/>
<circle cx="610.1" cy="282.7" r="2.95"/>
<circle cx="520.0" cy="270.7" r="2.95"/>
<circle cx="661.9" cy="290.1" r="2.95"/>
<circle cx="608.4" cy="278.2" r="2.95"/>
<circle cx="656.0" cy="280.3" r="2.95"/>
<circle cx="563.0" cy="263.0" r="2.95"/>
<circle cx="657.3" cy="263.9" r="2.95"/>
<circle cx="475.4" cy="232.0" r="2.95"/>
<circle cx="441.4" cy="281.4" r="2.95"/>
<circle cx="522.9" cy="272.1" r="2.95"/>
<circle cx="411.6" cy="240.2" r="2.95"/>
<circle cx="508.7" cy="285.1" r="2.95"/>
<circle cx="668.5" cy="275.7" r="2.95"/>
<circle cx="523.1" cy="276.8" r="2.95"/>
<circle cx="515.7" cy="274.1" r="2.95"/>
<circle cx="662.3" cy="269.6" r="2.95"/>
<circle cx="623.1" cy="259.3" r="2.95"/>
<circle cx="562.0" cy="284.1" r="2.95"/>
<circle cx="623.2" cy="269.1" r="2.95"/>
<circle cx="423.6" cy="230.8" r="2.95"/>
<circle cx="425.9" cy="214.2" r="2.95"/>
<circle cx="612.6" cy="289.9" r="2.95"/>
<circle cx="407.1" cy="255.6" r="2.95"/>
<circle cx="405.2" cy="223.4" r="2.95"/>
<circle cx="632.2" cy="289.9" r="2.95"/>
<circle cx="512.2" cy="275.7" r="2.95"/>
<circle cx="587.6" cy="257.7" r="2.95"/>
<circle cx="416.1" cy="252.0" r="2.95"/>
<circle cx="445.2" cy="221.5" r="2.95"/>
<circle cx="585.9" cy="272.7" r="2.95"/>
<circle cx="641.7" cy="246.7" r="2.95"/>
<circle cx="589.7" cy="287.7" r="2.95"/>
<circle cx="621.4" cy="263.6" r="2.95"/>
<circle cx="640.2" cy="290.2" r="2.95"/>
<circle cx="450.8" cy="268.1" r="2.95"/>
<circle cx="545.2" cy="272.9" r="2.95"/>
<circle cx="619.9" cy="272.9" r="2.95"/>
<circle cx="615.9" cy="261.4" r="2.95"/>
<circle cx="637.5" cy="268.5" r="2.95"/>
<circle cx="524.1" cy="290.1" r="2.95"/>
<circle cx="578.1" cy="289.9" r="2.95"/>
<circle cx="416.1" cy="277.5" r="2.95"/>
<circle cx="480.4" cy="280.3" r="2.95"/>
<circle cx="416.3" cy="279.2" r="2.95"/>
<circle cx="404.6" cy="238.3" r="2.95"/>
<circle cx="617.8" cy="279.2" r="2.95"/>
<circle cx="598.1" cy="290.0" r="2.95"/>
<circle cx="478.4" cy="259.4" r="2.95"/>
<circle cx="661.2" cy="284.8" r="2.95"/>
<circle cx="621.1" cy="287.4" r="2.95"/>
<circle cx="507.9" cy="290.0" r="2.95"/>
<circle cx="596.8" cy="284.6" r="2.95"/>
<circle cx="494.5" cy="264.2" r="2.95"/>
<circle cx="448.2" cy="286.6" r="2.95"/>
<circle cx="459.4" cy="278.1" r="2.95"/>
<circle cx="480.0" cy="280.2" r="2.95"/>
<circle cx="531.1" cy="266.0" r="2.95"/>
<circle cx="489.4" cy="267.6" r="2.95"/>
<circle cx="415.5" cy="290.2" r="2.95"/>
<circle cx="580.2" cy="274.4" r="2.95"/>
<circle cx="536.4" cy="289.9" r="2.95"/>
<circle cx="473.3" cy="252.3" r="2.95"/>
<circle cx="647.1" cy="282.2" r="2.95"/>
<circle cx="630.6" cy="275.5" r="2.95"/>
<circle cx="430.6" cy="275.5" r="2.95"/>
<circle cx="471.8" cy="270.1" r="2.95"/>
<circle cx="499.7" cy="273.9" r="2.95"/>
<circle cx="655.1" cy="282.5" r="2.95"/>
<circle cx="429.1" cy="277.3" r="2.95"/>
<circle cx="573.1" cy="289.8" r="2.95"/>
<circle cx="411.5" cy="213.3" r="2.95"/>
<circle cx="444.1" cy="270.7" r="2.95"/>
<circle cx="550.9" cy="267.8" r="2.95"/>
<circle cx="534.6" cy="264.5" r="2.95"/>
<circle cx="613.2" cy="266.9" r="2.95"/>
<circle cx="436.4" cy="285.2" r="2.95"/>
<circle cx="488.0" cy="290.3" r="2.95"/>
<circle cx="571.2" cy="273.4" r="2.95"/>
<circle cx="436.9" cy="259.1" r="2.95"/>
<circle cx="543.0" cy="278.4" r="2.95"/>
<circle cx="609.8" cy="268.6" r="2.95"/>
<circle cx="649.2" cy="271.5" r="2.95"/>
<circle cx="426.7" cy="272.6" r="2.95"/>
<circle cx="538.1" cy="278.3" r="2.95"/>
<circle cx="612.6" cy="290.2" r="2.95"/>
<circle cx="493.0" cy="284.4" r="2.95"/>
<circle cx="569.9" cy="289.8" r="2.95"/>
<circle cx="480.6" cy="284.7" r="2.95"/>
<circle cx="482.4" cy="275.7" r="2.95"/>
<circle cx="547.0" cy="264.7" r="2.95"/>
<circle cx="439.7" cy="203.9" r="2.95"/>
<circle cx="421.8" cy="229.5" r="2.95"/>
<circle cx="575.3" cy="260.4" r="2.95"/>
<circle cx="497.8" cy="268.1" r="2.95"/>
<circle cx="538.6" cy="285.9" r="2.95"/>
<circle cx="426.3" cy="290.3" r="2.95"/>
<circle cx="437.2" cy="245.0" r="2.95"/>
<circle cx="585.1" cy="277.9" r="2.95"/>
<circle cx="442.0" cy="266.5" r="2.95"/>
<circle cx="464.9" cy="281.6" r="2.95"/>
<circle cx="526.2" cy="281.8" r="2.95"/>
<circle cx="591.4" cy="290.3" r="2.95"/>
<circle cx="469.7" cy="264.1" r="2.95"/>
<circle cx="634.6" cy="263.8" r="2.95"/>
<circle cx="641.9" cy="273.0" r="2.95"/>
<circle cx="564.8" cy="290.1" r="2.95"/>
<circle cx="415.5" cy="267.2" r="2.95"/>
<circle cx="630.2" cy="265.3" r="2.95"/>
<circle cx="586.2" cy="289.8" r="2.95"/>
<circle cx="666.1" cy="286.9" r="2.95"/>
<circle cx="414.3" cy="289.8" r="2.95"/>
<circle cx="563.5" cy="268.8" r="2.95"/>
<circle cx="587.4" cy="290.2" r="2.95"/>
<circle cx="447.0" cy="266.2" r="2.95"/>
<circle cx="667.4" cy="276.8" r="2.95"/>
<circle cx="432.3" cy="287.4" r="2.95"/>
<circle cx="567.9" cy="267.3" r="2.95"/>
<circle cx="476.8" cy="263.0" r="2.95"/>
<circle cx="488.2" cy="258.7" r="2.95"/>
<circle cx="438.3" cy="273.9" r="2.95"/>
<circle cx="638.3" cy="289.9" r="2.95"/>
<circle cx="494.5" cy="290.0" r="2.95"/>
<circle cx="447.9" cy="266.7" r="2.95"/>
<circle cx="647.3" cy="288.8" r="2.95"/>
<circle cx="407.0" cy="262.7" r="2.95"/>
<circle cx="445.6" cy="281.3" r="2.95"/>
<circle cx="589.9" cy="266.5" r="2.95"/>
<circle cx="424.5" cy="253.4" r="2.95"/>
<circle cx="469.5" cy="283.8" r="2.95"/>
<circle cx="457.3" cy="233.4" r="2.95"/>
<circle cx="658.5" cy="280.4" r="2.95"/>
<circle cx="669.1" cy="275.3" r="2.95"/>
<circle cx="545.7" cy="266.3" r="2.95"/>
<circle cx="582.0" cy="270.4" r="2.95"/>
<circle cx="495.8" cy="289.8" r="2.95"/>
<circle cx="615.2" cy="278.9" r="2.95"/>
<circle cx="600.7" cy="235.3" r="2.95"/>
<circle cx="412.2" cy="220.3" r="2.95"/>
<circle cx="455.7" cy="250.1" r="2.95"/>
<circle cx="465.4" cy="266.6" r="2.95"/>
<circle cx="591.4" cy="288.1" r="2.95"/>
<circle cx="414.9" cy="242.7" r="2.95"/>
<circle cx="421.0" cy="276.8" r="2.95"/>
<circle cx="501.5" cy="257.3" r="2.95"/>
<circle cx="495.9" cy="275.3" r="2.95"/>
<circle cx="413.7" cy="242.6" r="2.95"/>
<circle cx="473.8" cy="286.0" r="2.95"/>
<circle cx="569.6" cy="264.4" r="2.95"/>
<circle cx="439.9" cy="246.3" r="2.95"/>
<circle cx="654.3" cy="267.9" r="2.95"/>
<circle cx="497.9" cy="245.9" r="2.95"/>
<circle cx="477.3" cy="237.0" r="2.95"/>
<circle cx="545.6" cy="266.3" r="2.95"/>
<circle cx="542.2" cy="264.1" r="2.95"/>
<circle cx="627.3" cy="261.0" r="2.95"/>
<circle cx="414.4" cy="263.0" r="2.95"/>
<circle cx="592.3" cy="254.6" r="2.95"/>
<circle cx="650.3" cy="269.7" r="2.95"/>
<circle cx="577.8" cy="280.3" r="2.95"/>
<circle cx="597.9" cy="284.9" r="2.95"/>
<circle cx="482.4" cy="240.4" r="2.95"/>
<circle cx="418.7" cy="270.3" r="2.95"/>
<circle cx="448.8" cy="218.0" r="2.95"/>
<circle cx="449.4" cy="219.4" r="2.95"/>
<circle cx="614.3" cy="290.0" r="2.95"/>
<circle cx="474.7" cy="266.3" r="2.95"/>
<circle cx="562.0" cy="290.3" r="2.95"/>
<circle cx="655.7" cy="290.2" r="2.95"/>
<circle cx="601.7" cy="269.7" r="2.95"/>
<circle cx="570.6" cy="263.3" r="2.95"/>
<circle cx="426.9" cy="286.6" r="2.95"/>
<circle cx="548.8" cy="278.5" r="2.95"/>
<circle cx="496.3" cy="273.8" r="2.95"/>
<circle cx="404.8" cy="220.9" r="2.95"/>
<circle cx="557.3" cy="286.2" r="2.95"/>
<circle cx="419.0" cy="271.4" r="2.95"/>
<circle cx="444.8" cy="244.8" r="2.95"/>
<circle cx="417.4" cy="251.8" r="2.95"/>
<circle cx="495.8" cy="277.2" r="2.95"/>
<circle cx="410.2" cy="230.9" r="2.95"/>
<circle cx="500.2" cy="284.0" r="2.95"/>
<circle cx="541.3" cy="285.1" r="2.95"/>
<circle cx="544.4" cy="275.9" r="2.95"/>
<circle cx="440.9" cy="212.9" r="2.95"/>
<circle cx="506.3" cy="268.5" r="2.95"/>
<circle cx="619.8" cy="281.6" r="2.95"/>
<circle cx="555.1" cy="273.1" r="2.95"/>
<circle cx="461.1" cy="209.1" r="2.95"/>
<circle cx="657.1" cy="277.6" r="2.95"/>
<circle cx="533.1" cy="272.8" r="2.95"/>
<circle cx="452.6" cy="228.1" r="2.95"/>
<circle cx="464.0" cy="290.2" r="2.95"/>
<circle cx="485.6" cy="235.6" r="2.95"/>
<circle cx="432.3" cy="284.1" r="2.95"/>
<circle cx="605.9" cy="290.1" r="2.95"/>
<circle cx="482.9" cy="284.8" r="2.95"/>
<circle cx="469.8" cy="220.3" r="2.95"/>
<circle cx="566.3" cy="290.2" r="2.95"/>
<circle cx="597.3" cy="265.1" r="2.95"/>
<circle cx="579.7" cy="287.1" r="2.95"/>
<circle cx="410.1" cy="232.9" r="2.95"/>
<circle cx="432.3" cy="269.0" r="2.95"/>
<circle cx="558.8" cy="282.8" r="2.95"/>
<circle cx="665.9" cy="290.3" r="2.95"/>
<circle cx="436.6" cy="236.6" r="2.95"/>
<circle cx="463.5" cy="237.4" r="2.95"/>
<circle cx="446.9" cy="217.8" r="2.95"/>
<circle cx="425.8" cy="278.9" r="2.95"/>
<circle cx="477.9" cy="242.1" r="2.95"/>
<circle cx="479.5" cy="276.3" r="2.95"/>
<circle cx="496.3" cy="270.4" r="2.95"/>
<circle cx="503.8" cy="240.3" r="2.95"/>
<circle cx="475.9" cy="276.2" r="2.95"/>
<circle cx="473.0" cy="276.6" r="2.95"/>
<circle cx="519.9" cy="289.5" r="2.95"/>
<circle cx="493.9" cy="272.9" r="2.95"/>
<circle cx="542.0" cy="288.9" r="2.95"/>
<circle cx="602.8" cy="287.0" r="2.95"/>
<circle cx="608.5" cy="284.8" r="2.95"/>
<circle cx="615.3" cy="290.1" r="2.95"/>
<circle cx="537.2" cy="279.2" r="2.95"/>
<circle cx="416.4" cy="260.2" r="2.95"/>
<circle cx="561.9" cy="264.0" r="2.95"/>
<circle cx="486.7" cy="264.4" r="2.95"/>
<circle cx="424.5" cy="229.0" r="2.95"/>
<circle cx="523.1" cy="290.1" r="2.95"/>
<circle cx="584.0" cy="275.6" r="2.95"/>
<circle cx="490.1" cy="288.3" r="2.95"/>
<circle cx="654.1" cy="266.5" r="2.95"/>
<circle cx="642.3" cy="257.0" r="2.95"/>
<circle cx="644.7" cy="286.1" r="2.95"/>
<circle cx="557.6" cy="284.8" r="2.95"/>
<circle cx="465.0" cy="236.6" r="2.95"/>
<circle cx="599.6" cy="290.2" r="2.95"/>
<circle cx="466.7" cy="272.6" r="2.95"/>
<circle cx="553.6" cy="289.9" r="2.95"/>
<circle cx="500.3" cy="276.3" r="2.95"/>
<circle cx="425.2" cy="212.2" r="2.95"/>
<circle cx="484.1" cy="268.2" r="2.95"/>
<circle cx="524.1" cy="279.8" r="2.95"/>
<circle cx="531.5" cy="268.1" r="2.95"/>
<circle cx="630.0" cy="264.4" r="2.95"/>
<circle cx="592.7" cy="227.0" r="2.95"/>
<circle cx="429.0" cy="289.0" r="2.95"/>
<circle cx="579.0" cy="282.8" r="2.95"/>
<circle cx="496.5" cy="271.9" r="2.95"/>
<circle cx="625.5" cy="259.4" r="2.95"/>
<circle cx="513.3" cy="265.7" r="2.95"/>
<circle cx="476.3" cy="232.7" r="2.95"/>
<circle cx="434.4" cy="282.3" r="2.95"/>
<circle cx="443.5" cy="288.4" r="2.95"/>
<circle cx="553.5" cy="271.1" r="2.95"/>
<circle cx="651.2" cy="275.7" r="2.95"/>
<circle cx="497.5" cy="289.8" r="2.95"/>
<circle cx="478.5" cy="257.3" r="2.95"/>
<circle cx="406.5" cy="289.3" r="2.95"/>
<circle cx="510.2" cy="274.3" r="2.95"/>
<circle cx="543.3" cy="289.8" r="2.95"/>
<circle cx="611.2" cy="289.4" r="2.95"/>
<circle cx="536.1" cy="270.3" r="2.95"/>
<circle cx="418.8" cy="269.6" r="2.95"/>
<circle cx="444.4" cy="256.8" r="2.95"/>
<circle cx="409.6" cy="277.6" r="2.95"/>
<circle cx="593.9" cy="282.6" r="2.95"/>
<circle cx="463.3" cy="273.7" r="2.95"/>
<circle cx="464.2" cy="276.7" r="2.95"/>
<circle cx="498.4" cy="288.4" r="2.95"/>
<circle cx="427.4" cy="213.9" r="2.95"/>
<circle cx="595.9" cy="268.4" r="2.95"/>
<circle cx="428.2" cy="256.4" r="2.95"/>
<circle cx="651.4" cy="290.1" r="2.95"/>
<circle cx="482.6" cy="257.6" r="2.95"/>
<circle cx="609.5" cy="273.1" r="2.95"/>
<circle cx="547.9" cy="263.5" r="2.95"/>
<circle cx="502.8" cy="276.4" r="2.95"/>
<circle cx="636.1" cy="253.4" r="2.95"/>
<circle cx="499.5" cy="290.1" r="2.95"/>
<circle cx="539.1" cy="272.7" r="2.95"/>
<circle cx="541.4" cy="276.5" r="2.95"/>
<circle cx="626.5" cy="289.8" r="2.95"/>
<circle cx="423.3" cy="231.9" r="2.95"/>
<circle cx="454.4" cy="231.4" r="2.95"/>
<circle cx="523.4" cy="259.1" r="2.95"/>
<circle cx="405.4" cy="215.5" r="2.95"/>
<circle cx="438.7" cy="257.7" r="2.95"/>
<circle cx="440.0" cy="221.5" r="2.95"/>
<circle cx="570.1" cy="268.4" r="2.95"/>
<circle cx="489.5" cy="254.5" r="2.95"/>
<circle cx="561.3" cy="273.9" r="2.95"/>
<circle cx="472.5" cy="275.5" r="2.95"/>
<circle cx="560.1" cy="276.6" r="2.95"/>
<circle cx="434.5" cy="237.7" r="2.95"/>
<circle cx="519.7" cy="277.1" r="2.95"/>
<circle cx="408.6" cy="281.5" r="2.95"/>
<circle cx="445.1" cy="290.0" r="2.95"/>
<circle cx="498.3" cy="276.9" r="2.95"/>
<circle cx="669.0" cy="289.9" r="2.95"/>
<circle cx="573.6" cy="278.8" r="2.95"/>
<circle cx="538.9" cy="289.7" r="2.95"/>
<circle cx="568.4" cy="261.4" r="2.95"/>
<circle cx="638.9" cy="273.5" r="2.95"/>
<circle cx="569.8" cy="287.7" r="2.95"/>
<circle cx="532.7" cy="283.3" r="2.95"/>
<circle cx="537.3" cy="290.0" r="2.95"/>
<circle cx="662.9" cy="290.0" r="2.95"/>
<circle cx="517.9" cy="290.2" r="2.95"/>
<circle cx="661.3" cy="284.9" r="2.95"/>
<circle cx="416.5" cy="271.0" r="2.95"/>
<circle cx="446.0" cy="274.0" r="2.95"/>
<circle cx="611.3" cy="266.4" r="2.95"/>
<circle cx="416.5" cy="260.7" r="2.95"/>
<circle cx="480.7" cy="286.3" r="2.95"/>
<circle cx="586.0" cy="251.7" r="2.95"/>
<circle cx="417.3" cy="237.1" r="2.95"/>
<circle cx="615.6" cy="282.5" r="2.95"/>
<circle cx="508.0" cy="287.8" r="2.95"/>
<circle cx="471.3" cy="248.8" r="2.95"/>
<circle cx="477.8" cy="243.8" r="2.95"/>
<circle cx="425.7" cy="282.4" r="2.95"/>
<circle cx="614.4" cy="264.4" r="2.95"/>
<circle cx="439.0" cy="267.8" r="2.95"/>
<circle cx="623.4" cy="262.2" r="2.95"/>
<circle cx="470.8" cy="276.9" r="2.95"/>
<circle cx="434.1" cy="236.9" r="2.95"/>
<circle cx="466.1" cy="252.2" r="2.95"/>
<circle cx="428.4" cy="277.4" r="2.95"/>
<circle cx="498.7" cy="285.3" r="2.95"/>
<circle cx="465.1" cy="264.5" r="2.95"/>
<circle cx="618.1" cy="289.9" r="2.95"/>
<circle cx="594.7" cy="268.9" r="2.95"/>
<circle cx="481.2" cy="273.3" r="2.95"/>
<circle cx="654.8" cy="290.2" r="2.95"/>
<circle cx="408.8" cy="272.7" r="2.95"/>
<circle cx="594.9" cy="289.9" r="2.95"/>
<circle cx="446.7" cy="289.8" r="2.95"/>
<circle cx="483.5" cy="233.0" r="2.95"/>
<circle cx="446.8" cy="274.9" r="2.95"/>
<circle cx="643.3" cy="257.3" r="2.95"/>
<circle cx="459.9" cy="283.2" r="2.95"/>
<circle cx="444.2" cy="268.2" r="2.95"/>
<circle cx="426.3" cy="281.9" r="2.95"/>
<circle cx="590.8" cy="251.7" r="2.95"/>
<circle cx="657.3" cy="266.1" r="2.95"/>
<circle cx="412.0" cy="232.1" r="2.95"/>
<circle cx="427.6" cy="240.4" r="2.95"/>
<circle cx="649.2" cy="279.9" r="2.95"/>
<circle cx="516.9" cy="290.0" r="2.95"/>
<circle cx="537.7" cy="266.3" r="2.95"/>
<circle cx="654.4" cy="272.8" r="2.95"/>
<circle cx="478.8" cy="242.5" r="2.95"/>
<circle cx="525.0" cy="268.4" r="2.95"/>
<circle cx="656.4" cy="268.3" r="2.95"/>
<circle cx="575.0" cy="258.7" r="2.95"/>
<circle cx="616.9" cy="289.8" r="2.95"/>
<circle cx="406.8" cy="286.2" r="2.95"/>
<circle cx="421.7" cy="278.3" r="2.95"/>
<circle cx="552.8" cy="289.7" r="2.95"/>
<circle cx="541.5" cy="263.1" r="2.95"/>
<circle cx="569.5" cy="268.8" r="2.95"/>
<circle cx="652.9" cy="283.1" r="2.95"/>
<circle cx="439.5" cy="288.7" r="2.95"/>
<circle cx="459.0" cy="289.8" r="2.95"/>
<circle cx="483.1" cy="237.0" r="2.95"/>
<circle cx="416.7" cy="214.3" r="2.95"/>
<circle cx="668.8" cy="270.1" r="2.95"/>
<circle cx="635.0" cy="273.8" r="2.95"/>
<circle cx="406.6" cy="284.9" r="2.95"/>
<circle cx="493.1" cy="281.0" r="2.95"/>
<circle cx="490.3" cy="279.4" r="2.95"/>
<circle cx="540.3" cy="276.2" r="2.95"/>
<circle cx="457.0" cy="232.4" r="2.95"/>
<circle cx="430.0" cy="218.2" r="2.95"/>
<circle cx="472.4" cy="226.2" r="2.95"/>
<circle cx="428.3" cy="243.8" r="2.95"/>
<circle cx="569.1" cy="285.6" r="2.95"/>
<circle cx="591.2" cy="266.1" r="2.95"/>
<circle cx="491.6" cy="245.3" r="2.95"/>
<circle cx="620.8" cy="290.2" r="2.95"/>
<circle cx="577.3" cy="238.3" r="2.95"/>
<circle cx="421.9" cy="219.4" r="2.95"/>
<circle cx="653.2" cy="288.0" r="2.95"/>
<circle cx="643.0" cy="283.6" r="2.95"/>
<circle cx="464.6" cy="271.5" r="2.95"/>
<circle cx="484.2" cy="289.9" r="2.95"/>
<circle cx="612.7" cy="262.4" r="2.95"/>
<circle cx="420.8" cy="231.7" r="2.95"/>
<circle cx="602.4" cy="267.0" r="2.95"/>
<circle cx="485.4" cy="264.5" r="2.95"/>
<circle cx="435.8" cy="268.8" r="2.95"/>
<circle cx="434.5" cy="213.4" r="2.95"/>
<circle cx="456.4" cy="289.8" r="2.95"/>
<circle cx="421.4" cy="224.0" r="2.95"/>
<circle cx="436.9" cy="290.2" r="2.95"/>
<circle cx="505.3" cy="269.3" r="2.95"/>
<circle cx="643.2" cy="277.1" r="2.95"/>
<circle cx="465.8" cy="267.3" r="2.95"/>
<circle cx="595.1" cy="280.3" r="2.95"/>
<circle cx="508.6" cy="271.7" r="2.95"/>
<circle cx="506.0" cy="284.0" r="2.95"/>
<circle cx="487.8" cy="273.9" r="2.95"/>
<circle cx="497.4" cy="284.5" r="2.95"/>
<circle cx="439.2" cy="241.5" r="2.95"/>
<circle cx="501.4" cy="260.7" r="2.95"/>
<circle cx="512.0" cy="289.6" r="2.95"/>
<circle cx="568.3" cy="288.2" r="2.95"/>
<circle cx="450.5" cy="278.5" r="2.95"/>
<circle cx="408.3" cy="273.4" r="2.95"/>
<circle cx="431.4" cy="277.9" r="2.95"/>
<circle cx="452.6" cy="283.6" r="2.95"/>
<circle cx="608.3" cy="278.8" r="2.95"/>
<circle cx="567.8" cy="274.2" r="2.95"/>
<circle cx="445.1" cy="214.3" r="2.95"/>
<circle cx="562.2" cy="274.7" r="2.95"/>
<circle cx="508.0" cy="243.6" r="2.95"/>
<circle cx="449.0" cy="271.9" r="2.95"/>
<circle cx="426.0" cy="255.1" r="2.95"/>
<circle cx="661.4" cy="287.4" r="2.95"/>
<circle cx="528.2" cy="278.3" r="2.95"/>
<circle cx="557.4" cy="268.6" r="2.95"/>
<circle cx="640.2" cy="280.8" r="2.95"/>
<circle cx="632.3" cy="290.0" r="2.95"/>
<circle cx="626.4" cy="283.4" r="2.95"/>
<circle cx="623.7" cy="290.1" r="2.95"/>
<circle cx="408.2" cy="245.5" r="2.95"/>
<circle cx="586.5" cy="284.3" r="2.95"/>
<circle cx="612.3" cy="283.0" r="2.95"/>
<circle cx="481.1" cy="260.8" r="2.95"/>
<circle cx="474.9" cy="266.0" r="2.95"/>
<circle cx="509.7" cy="265.6" r="2.95"/>
<circle cx="476.9" cy="276.3" r="2.95"/>
<circle cx="616.7" cy="277.0" r="2.95"/>
<circle cx="431.5" cy="230.8" r="2.95"/>
<circle cx="604.5" cy="285.1" r="2.95"/>
<circle cx="609.3" cy="289.9" r="2.95"/>
<circle cx="548.2" cy="276.3" r="2.95"/>
<circle cx="454.2" cy="279.0" r="2.95"/>
<circle cx="539.6" cy="272.1" r="2.95"/>
<circle cx="453.1" cy="290.1" r="2.95"/>
<circle cx="462.3" cy="289.5" r="2.95"/>
<circle cx="568.4" cy="280.8" r="2.95"/>
<circle cx="645.7" cy="289.8" r="2.95"/>
<circle cx="669.7" cy="288.5" r="2.95"/>
<circle cx="491.1" cy="265.9" r="2.95"/>
<circle cx="432.3" cy="290.2" r="2.95"/>
<circle cx="468.4" cy="265.0" r="2.95"/>
<circle cx="507.5" cy="249.2" r="2.95"/>
<circle cx="669.5" cy="287.7" r="2.95"/>
<circle cx="644.5" cy="289.7" r="2.95"/>
<circle cx="629.6" cy="278.4" r="2.95"/>
<circle cx="474.9" cy="254.0" r="2.95"/>
<circle cx="625.3" cy="289.8" r="2.95"/>
<circle cx="523.5" cy="264.7" r="2.95"/>
<circle cx="503.3" cy="260.5" r="2.95"/>
<circle cx="506.6" cy="277.5" r="2.95"/>
<circle cx="499.3" cy="267.0" r="2.95"/>
<circle cx="625.0" cy="272.8" r="2.95"/>
<circle cx="634.8" cy="245.4" r="2.95"/>
<circle cx="414.8" cy="261.8" r="2.95"/>
<circle cx="651.8" cy="283.8" r="2.95"/>
<circle cx="467.8" cy="283.7" r="2.95"/>
<circle cx="440.4" cy="251.1" r="2.95"/>
<circle cx="438.3" cy="254.9" r="2.95"/>
<circle cx="631.7" cy="284.2" r="2.95"/>
<circle cx="544.6" cy="289.8" r="2.95"/>
<circle cx="457.7" cy="282.7" r="2.95"/>
<circle cx="423.7" cy="263.3" r="2.95"/>
<circle cx="428.6" cy="242.9" r="2.95"/>
<circle cx="460.0" cy="272.7" r="2.95"/>
<circle cx="438.2" cy="213.7" r="2.95"/>
<circle cx="543.5" cy="273.2" r="2.95"/>
<circle cx="630.4" cy="264.1" r="2.95"/>
<circle cx="409.1" cy="228.3" r="2.95"/>
<circle cx="446.9" cy="265.1" r="2.95"/>
<circle cx="491.4" cy="289.7" r="2.95"/>
<circle cx="420.4" cy="289.7" r="2.95"/>
<circle cx="450.8" cy="271.0" r="2.95"/>
<circle cx="441.1" cy="279.8" r="2.95"/>
<circle cx="434.9" cy="216.3" r="2.95"/>
<circle cx="541.2" cy="278.3" r="2.95"/>
<circle cx="581.2" cy="289.4" r="2.95"/>
<circle cx="607.4" cy="281.2" r="2.95"/>
<circle cx="622.5" cy="272.9" r="2.95"/>
<circle cx="512.9" cy="252.9" r="2.95"/>
<circle cx="433.7" cy="242.3" r="2.95"/>
<circle cx="432.9" cy="219.2" r="2.95"/>
<circle cx="623.0" cy="276.9" r="2.95"/>
<circle cx="423.5" cy="211.8" r="2.95"/>
<circle cx="520.2" cy="270.9" r="2.95"/>
<circle cx="416.2" cy="287.3" r="2.95"/>
<circle cx="656.2" cy="268.5" r="2.95"/>
<circle cx="569.8" cy="289.8" r="2.95"/>
<circle cx="599.4" cy="264.0" r="2.95"/>
<circle cx="445.6" cy="217.1" r="2.95"/>
<circle cx="600.5" cy="271.9" r="2.95"/>
<circle cx="586.6" cy="286.5" r="2.95"/>
<circle cx="591.8" cy="259.1" r="2.95"/>
<circle cx="604.7" cy="274.8" r="2.95"/>
<circle cx="445.5" cy="218.0" r="2.95"/>
<circle cx="472.0" cy="242.4" r="2.95"/>
<circle cx="525.9" cy="279.2" r="2.95"/>
<circle cx="650.2" cy="288.9" r="2.95"/>
<circle cx="495.1" cy="288.8" r="2.95"/>
<circle cx="525.8" cy="272.6" r="2.95"/>
<circle cx="517.0" cy="279.5" r="2.95"/>
<circle cx="452.5" cy="276.9" r="2.95"/>
<circle cx="497.5" cy="279.6" r="2.95"/>
<circle cx="481.2" cy="263.4" r="2.95"/>
<circle cx="472.8" cy="278.3" r="2.95"/>
<circle cx="664.7" cy="290.2" r="2.95"/>
<circle cx="641.4" cy="261.4" r="2.95"/>
<circle cx="414.7" cy="224.9" r="2.95"/>
<circle cx="449.0" cy="218.9" r="2.95"/>
<circle cx="595.4" cy="285.4" r="2.95"/>
<circle cx="438.8" cy="272.0" r="2.95"/>
<circle cx="470.7" cy="289.9" r="2.95"/>
<circle cx="496.7" cy="283.9" r="2.95"/>
<circle cx="409.5" cy="290.2" r="2.95"/>
<circle cx="457.7" cy="279.9" r="2.95"/>
<circle cx="565.4" cy="273.5" r="2.95"/>
<circle cx="534.4" cy="286.0" r="2.95"/>
<circle cx="486.6" cy="269.9" r="2.95"/>
<circle cx="472.7" cy="247.5" r="2.95"/>
<circle cx="534.6" cy="275.2" r="2.95"/>
<circle cx="459.2" cy="278.1" r="2.95"/>
<circle cx="662.0" cy="289.0" r="2.95"/>
<circle cx="432.4" cy="280.4" r="2.95"/>
<circle cx="440.3" cy="289.7" r="2.95"/>
<circle cx="629.1" cy="290.0" r="2.95"/>
<circle cx="590.3" cy="266.8" r="2.95"/>
<circle cx="443.1" cy="281.1" r="2.95"/>
<circle cx="491.0" cy="277.1" r="2.95"/>
<circle cx="624.7" cy="271.6" r="2.95"/>
<circle cx="614.7" cy="276.0" r="2.95"/>
<circle cx="638.6" cy="279.3" r="2.95"/>
<circle cx="657.3" cy="287.7" r="2.95"/>
<circle cx="442.0" cy="289.9" r="2.95"/>
<circle cx="413.9" cy="252.8" r="2.95"/>
<circle cx="429.6" cy="257.2" r="2.95"/>
<circle cx="564.7" cy="269.4" r="2.95"/>
<circle cx="448.6" cy="255.2" r="2.95"/>
<circle cx="645.0" cy="259.5" r="2.95"/>
<circle cx="438.5" cy="268.6" r="2.95"/>
<circle cx="651.8" cy="285.3" r="2.95"/>
<circle cx="530.3" cy="285.8" r="2.95"/>
</g>
<g class="pt">
<circle cx="537.8" cy="175.2" r="2.95" fill="#00008B"/>
<circle cx="560.1" cy="176.0" r="2.95" fill="#00008B"/>
<circle cx="531.2" cy="183.4" r="2.95" fill="#00008B"/>
<circle cx="534.5" cy="171.5" r="2.95" fill="#FF0000"/>
<circle cx="531.5" cy="175.0" r="2.95" fill="#FF0000"/>
<circle cx="535.0" cy="175.5" r="2.95" fill="#FF0000"/>
<circle cx="532.3" cy="170.0" r="2.95" fill="#FF0000"/>
<circle cx="533.4" cy="173.4" r="2.95" fill="#FF0000"/>
<circle cx="530.4" cy="173.0" r="2.95" fill="#FF0000"/>
<circle cx="520.8" cy="183.4" r="2.95" fill="#FF0000"/>
<circle cx="522.3" cy="186.4" r="2.95" fill="#FF0000"/>
<circle cx="530.4" cy="187.8" r="2.95" fill="#FF0000"/>
<circle cx="518.5" cy="189.8" r="2.95" fill="#FF0000"/>
<circle cx="534.4" cy="192.7" r="2.95" fill="#FF0000"/>
<circle cx="520.8" cy="194.5" r="2.95" fill="#FF0000"/>
<circle cx="524.0" cy="190.5" r="2.95" fill="#FF0000"/>
<circle cx="527.5" cy="190.0" r="2.95" fill="#FF0000"/>
<circle cx="544.5" cy="164.8" r="2.95" fill="#FFA500"/>
<circle cx="539.3" cy="173.0" r="2.95" fill="#FFA500"/>
<circle cx="549.0" cy="170.0" r="2.95" fill="#FFA500"/>
<circle cx="550.1" cy="173.0" r="2.95" fill="#FFA500"/>
<circle cx="546.3" cy="174.5" r="2.95" fill="#FFA500"/>
<circle cx="543.0" cy="170.8" r="2.95" fill="#FFA500"/>
<circle cx="547.5" cy="181.9" r="2.95" fill="#FFA500"/>
<circle cx="526.0" cy="181.2" r="2.95" fill="#FFA500"/>
<circle cx="526.0" cy="187.1" r="2.95" fill="#FFA500"/>
<circle cx="538.3" cy="190.4" r="2.95" fill="#FFA500"/>
<circle cx="528.9" cy="193.0" r="2.95" fill="#FFA500"/>
<circle cx="522.3" cy="193.0" r="2.95" fill="#FFA500"/>
<circle cx="518.5" cy="196.7" r="2.95" fill="#FFA500"/>
<circle cx="524.5" cy="196.0" r="2.95" fill="#FFA500"/>
<circle cx="519.3" cy="197.2" r="2.95" fill="#FFA500"/>
<circle cx="524.5" cy="196.5" r="2.95" fill="#FFA500"/>
<circle cx="528.9" cy="195.7" r="2.95" fill="#FFA500"/>
<circle cx="523.7" cy="201.7" r="2.95" fill="#FFA500"/>
<circle cx="523.0" cy="205.4" r="2.95" fill="#FFA500"/>
<circle cx="519.3" cy="206.9" r="2.95" fill="#FFA500"/>
<circle cx="536.8" cy="223.9" r="2.95" fill="#FFA500"/>
<circle cx="516.3" cy="173.4" r="2.95" fill="#006400"/>
<circle cx="516.3" cy="179.7" r="2.95" fill="#006400"/>
<circle cx="512.6" cy="199.7" r="2.95" fill="#006400"/>
<circle cx="512.6" cy="200.9" r="2.95" fill="#006400"/>
<circle cx="514.1" cy="203.9" r="2.95" fill="#006400"/>
<circle cx="514.3" cy="204.1" r="2.95" fill="#006400"/>
<circle cx="511.9" cy="206.1" r="2.95" fill="#006400"/>
<circle cx="512.6" cy="211.3" r="2.95" fill="#006400"/>
<circle cx="527.9" cy="232.8" r="2.95" fill="#006400"/>
<circle cx="547.8" cy="217.3" r="2.95" fill="#006400"/>
<circle cx="548.2" cy="217.5" r="2.95" fill="#006400"/>
<circle cx="564.5" cy="209.8" r="2.95" fill="#006400"/>
<circle cx="576.4" cy="209.8" r="2.95" fill="#006400"/>
<circle cx="560.4" cy="228.4" r="2.95" fill="#006400"/>
<circle cx="552.5" cy="240.0" r="2.95" fill="#006400"/>
<circle cx="516.3" cy="209.8" r="2.95" fill="#87CEEB"/>
<circle cx="516.3" cy="212.8" r="2.95" fill="#87CEEB"/>
<circle cx="518.1" cy="218.7" r="2.95" fill="#87CEEB"/>
<circle cx="516.3" cy="223.9" r="2.95" fill="#87CEEB"/>
<circle cx="511.9" cy="229.9" r="2.95" fill="#87CEEB"/>
<circle cx="528.9" cy="223.2" r="2.95" fill="#87CEEB"/>
<circle cx="531.2" cy="225.9" r="2.95" fill="#87CEEB"/>
<circle cx="542.3" cy="226.9" r="2.95" fill="#87CEEB"/>
<circle cx="546.7" cy="225.4" r="2.95" fill="#87CEEB"/>
<circle cx="535.6" cy="229.9" r="2.95" fill="#87CEEB"/>
<circle cx="567.5" cy="212.8" r="2.95" fill="#87CEEB"/>
<circle cx="576.4" cy="212.8" r="2.95" fill="#87CEEB"/>
<circle cx="567.5" cy="223.9" r="2.95" fill="#87CEEB"/>
<circle cx="571.2" cy="230.6" r="2.95" fill="#87CEEB"/>
<circle cx="575.7" cy="232.8" r="2.95" fill="#87CEEB"/>
<circle cx="567.5" cy="238.0" r="2.95" fill="#87CEEB"/>
<circle cx="551.9" cy="238.0" r="2.95" fill="#87CEEB"/>
<circle cx="559.3" cy="242.5" r="2.95" fill="#87CEEB"/>
<circle cx="531.2" cy="243.2" r="2.95" fill="#87CEEB"/>
<circle cx="523.2" cy="248.2" r="2.95" fill="#87CEEB"/>
<circle cx="530.5" cy="244.9" r="2.95" fill="#87CEEB"/>
<circle cx="527.3" cy="251.4" r="2.95" fill="#87CEEB"/>
<circle cx="545.2" cy="251.4" r="2.95" fill="#87CEEB"/>
<circle cx="563.1" cy="246.5" r="2.95" fill="#87CEEB"/>
<circle cx="558.3" cy="250.6" r="2.95" fill="#87CEEB"/>
<circle cx="567.2" cy="241.6" r="2.95" fill="#87CEEB"/>
<circle cx="516.7" cy="265.3" r="2.95" fill="#87CEEB"/>
<circle cx="524.8" cy="266.1" r="2.95" fill="#87CEEB"/>
<circle cx="528.9" cy="271.0" r="2.95" fill="#87CEEB"/>
<circle cx="540.3" cy="266.1" r="2.95" fill="#87CEEB"/>
<circle cx="544.4" cy="268.5" r="2.95" fill="#87CEEB"/>
<circle cx="548.5" cy="266.1" r="2.95" fill="#87CEEB"/>
<circle cx="557.4" cy="275.1" r="2.95" fill="#87CEEB"/>
<circle cx="571.3" cy="267.7" r="2.95" fill="#87CEEB"/>
<circle cx="511.1" cy="222.4" r="2.95" fill="#00008B"/>
<circle cx="512.6" cy="226.2" r="2.95" fill="#00008B"/>
<circle cx="515.6" cy="229.9" r="2.95" fill="#00008B"/>
<circle cx="507.4" cy="232.1" r="2.95" fill="#00008B"/>
<circle cx="517.1" cy="238.8" r="2.95" fill="#00008B"/>
<circle cx="503.7" cy="239.5" r="2.95" fill="#00008B"/>
<circle cx="506.7" cy="241.7" r="2.95" fill="#00008B"/>
<circle cx="509.6" cy="239.5" r="2.95" fill="#00008B"/>
<circle cx="540.8" cy="229.4" r="2.95" fill="#00008B"/>
<circle cx="531.9" cy="232.8" r="2.95" fill="#00008B"/>
<circle cx="571.2" cy="204.6" r="2.95" fill="#00008B"/>
<circle cx="573.4" cy="208.4" r="2.95" fill="#00008B"/>
<circle cx="572.7" cy="228.4" r="2.95" fill="#00008B"/>
<circle cx="567.5" cy="230.6" r="2.95" fill="#00008B"/>
<circle cx="576.4" cy="237.3" r="2.95" fill="#00008B"/>
<circle cx="555.6" cy="236.5" r="2.95" fill="#00008B"/>
<circle cx="551.2" cy="242.5" r="2.95" fill="#00008B"/>
<circle cx="586.8" cy="239.5" r="2.95" fill="#00008B"/>
<circle cx="590.1" cy="223.9" r="2.95" fill="#00008B"/>
<circle cx="596.5" cy="201.7" r="2.95" fill="#00008B"/>
<circle cx="596.2" cy="206.1" r="2.95" fill="#00008B"/>
<circle cx="596.5" cy="212.1" r="2.95" fill="#00008B"/>
<circle cx="596.4" cy="217.3" r="2.95" fill="#00008B"/>
<circle cx="596.8" cy="226.9" r="2.95" fill="#00008B"/>
<circle cx="596.0" cy="231.4" r="2.95" fill="#00008B"/>
<circle cx="596.5" cy="235.8" r="2.95" fill="#00008B"/>
<circle cx="596.3" cy="241.0" r="2.95" fill="#00008B"/>
<circle cx="574.9" cy="242.5" r="2.95" fill="#00008B"/>
<circle cx="580.1" cy="243.2" r="2.95" fill="#00008B"/>
<circle cx="540.8" cy="246.5" r="2.95" fill="#00008B"/>
<circle cx="550.9" cy="244.9" r="2.95" fill="#00008B"/>
<circle cx="545.2" cy="255.5" r="2.95" fill="#00008B"/>
<circle cx="561.5" cy="259.6" r="2.95" fill="#00008B"/>
<circle cx="565.6" cy="270.2" r="2.95" fill="#00008B"/>
<circle cx="555.0" cy="249.0" r="2.95" fill="#00008B"/>
<circle cx="567.2" cy="249.8" r="2.95" fill="#00008B"/>
<circle cx="410.2" cy="179.9" r="2.95" fill="#00008B"/>
<circle cx="415.9" cy="179.9" r="2.95" fill="#00008B"/>
<circle cx="416.1" cy="180.1" r="2.95" fill="#00008B"/>
<circle cx="449.1" cy="194.5" r="2.95" fill="#00008B"/>
<circle cx="437.7" cy="196.5" r="2.95" fill="#00008B"/>
<circle cx="439.7" cy="199.7" r="2.95" fill="#00008B"/>
<circle cx="439.7" cy="203.8" r="2.95" fill="#00008B"/>
<circle cx="438.5" cy="206.5" r="2.95" fill="#00008B"/>
<circle cx="459.5" cy="208.0" r="2.95" fill="#00008B"/>
<circle cx="461.6" cy="211.5" r="2.95" fill="#00008B"/>
<circle cx="467.8" cy="210.0" r="2.95" fill="#00008B"/>
<circle cx="469.9" cy="214.2" r="2.95" fill="#00008B"/>
<circle cx="468.8" cy="218.4" r="2.95" fill="#00008B"/>
<circle cx="471.9" cy="221.5" r="2.95" fill="#00008B"/>
<circle cx="460.5" cy="209.5" r="2.95" fill="#00008B"/>
<circle cx="463.0" cy="213.0" r="2.95" fill="#00008B"/>
<circle cx="614.2" cy="180.3" r="2.95" fill="#00008B"/>
<circle cx="603.5" cy="225.6" r="2.95" fill="#00008B"/>
<circle cx="613.5" cy="234.0" r="2.95" fill="#00008B"/>
<circle cx="622.0" cy="235.6" r="2.95" fill="#00008B"/>
<circle cx="621.0" cy="238.0" r="2.95" fill="#00008B"/>
<circle cx="643.4" cy="238.5" r="2.95" fill="#00008B"/>
<circle cx="644.0" cy="241.0" r="2.95" fill="#00008B"/>
<circle cx="664.0" cy="237.0" r="2.95" fill="#00008B"/>
<circle cx="671.0" cy="219.4" r="2.95" fill="#00008B"/>
<circle cx="671.0" cy="228.5" r="2.95" fill="#00008B"/>
<circle cx="667.6" cy="251.0" r="2.95" fill="#00008B"/>
<circle cx="668.0" cy="254.0" r="2.95" fill="#00008B"/>
<circle cx="596.4" cy="247.0" r="2.95" fill="#00008B"/>
<circle cx="583.6" cy="245.6" r="2.95" fill="#00008B"/>
</g>
<path d="M536.4 158.4L541.8 163.8L536.4 169.2L531.0 163.8Z" fill="#A020F0" stroke="#000" stroke-width="0.7"/>
</g>
</svg></body></html>
